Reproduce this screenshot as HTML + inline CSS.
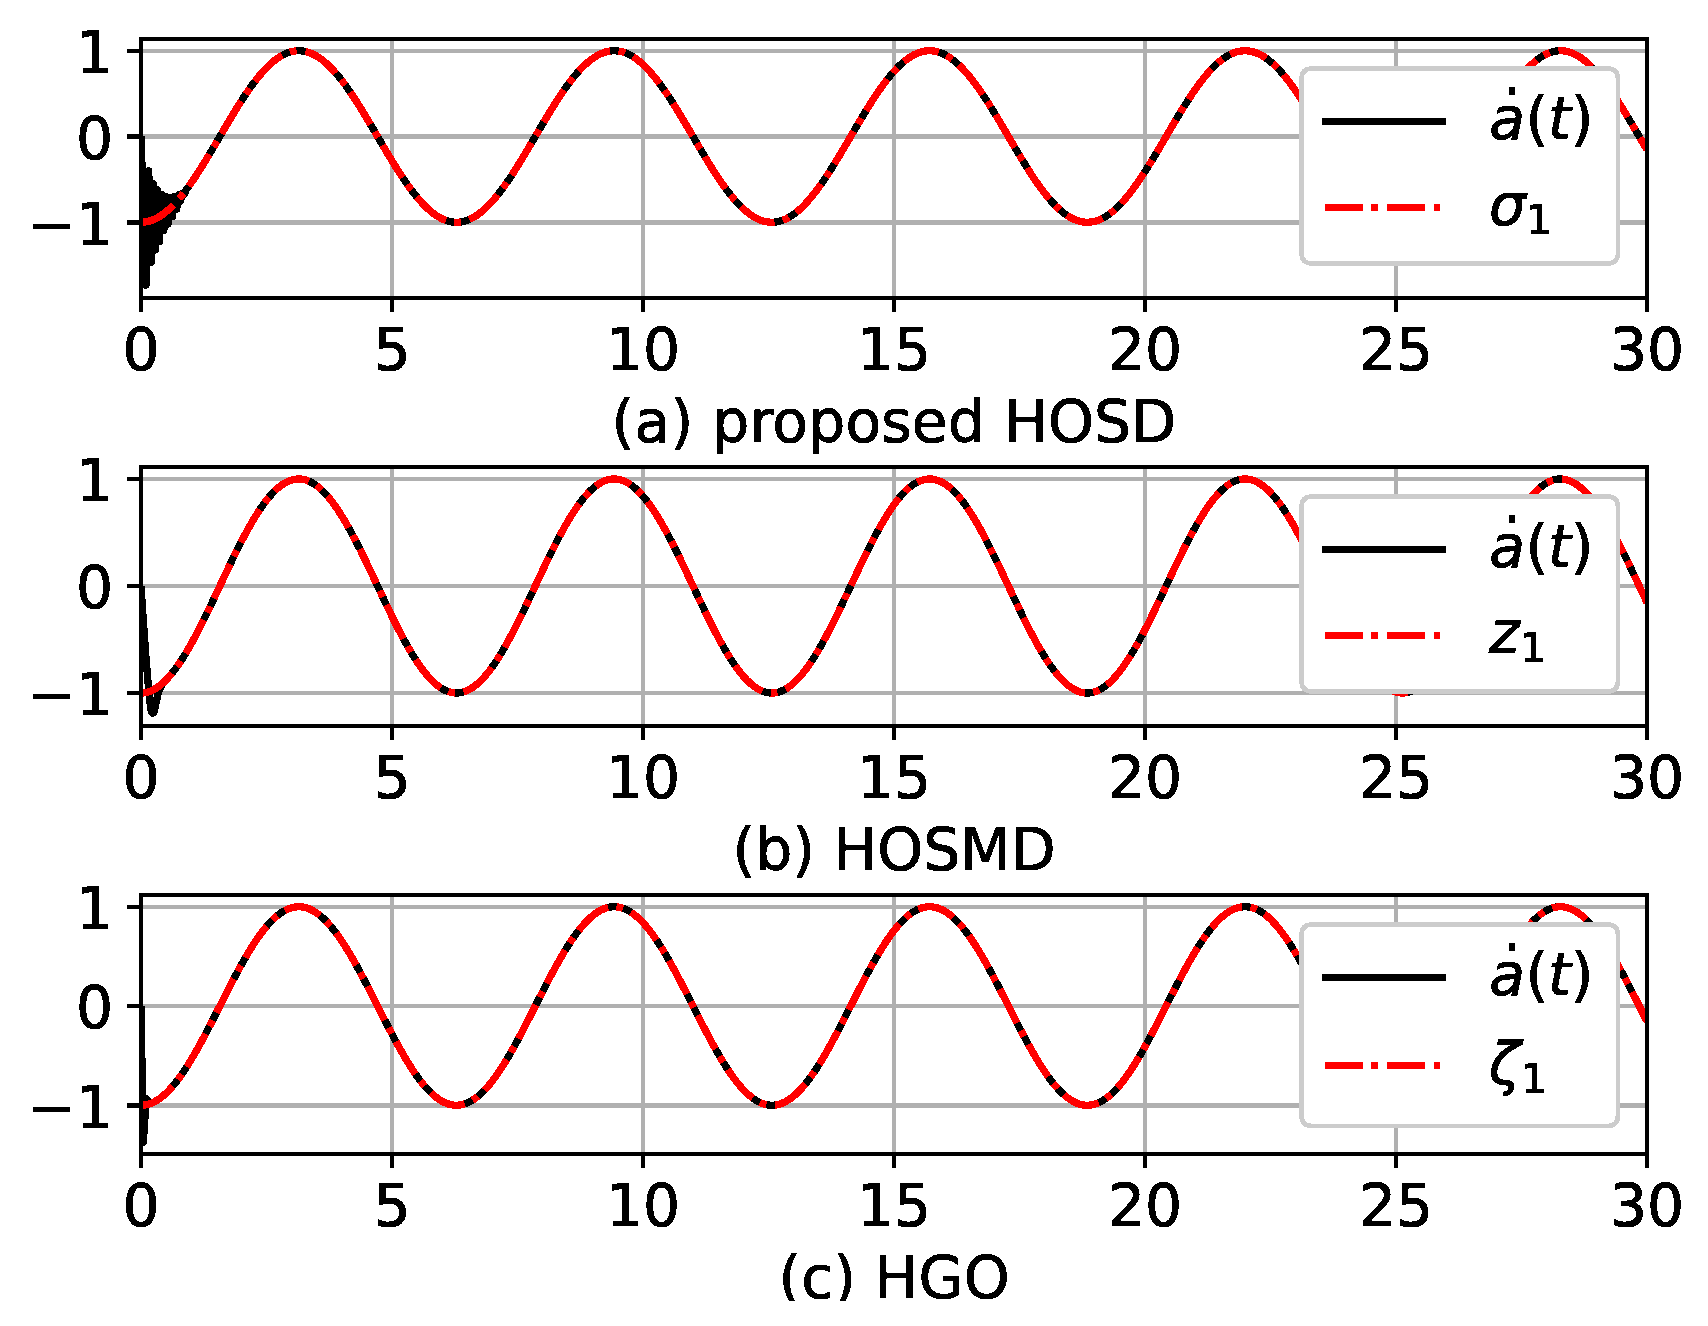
<!DOCTYPE html>
<html><head><meta charset="utf-8"><title>figure</title>
<style>html,body{margin:0;padding:0;background:#fff}body{width:1708px;height:1326px;overflow:hidden}</style>
</head><body>
<svg width="1708" height="1326" viewBox="0 0 1708 1326" style="display:block">
<rect width="1708" height="1326" fill="#fff"/>
<defs>
<clipPath id="c0"><rect x="141.0" y="39" width="1506.0" height="259"/></clipPath>
<clipPath id="c1"><rect x="141.0" y="467" width="1506.0" height="259"/></clipPath>
<clipPath id="c2"><rect x="141.0" y="895" width="1506.0" height="259"/></clipPath>
<filter id="al" filterUnits="userSpaceOnUse" x="0" y="0" width="1708" height="1326" color-interpolation-filters="sRGB"><feComponentTransfer><feFuncA type="discrete" tableValues="0 1"/></feComponentTransfer></filter>
</defs>
<g id="ax0">
<g fill="#b0b0b0" shape-rendering="crispEdges">
<rect x="139" y="39" width="4" height="259"/>
<rect x="390" y="39" width="4" height="259"/>
<rect x="641" y="39" width="4" height="259"/>
<rect x="892" y="39" width="4" height="259"/>
<rect x="1143" y="39" width="4" height="259"/>
<rect x="1394" y="39" width="4" height="259"/>
<rect x="1645" y="39" width="4" height="259"/>
<rect x="141.0" y="49" width="1506.0" height="4"/>
<rect x="141.0" y="134" width="1506.0" height="5"/>
<rect x="141.0" y="220" width="1506.0" height="5"/>
</g>
<g clip-path="url(#c0)" fill="none" shape-rendering="crispEdges">
<path d="M141 136.5 L146 285.1 L148.7 170.9 L151.6 262.1 L153.6 184 L155.5 249.9 L157.5 189.9 L159.5 241.5 L161.6 194.6 L163.8 230.4 L166 196.7 L168 224 L170.3 197.2 L172.5 216.5 L174.6 196.6 L176.6 209.5 L178.6 195 L180.5 201.5 L182.5 193.2 L184.3 194.5 L186.18 189.8 L187.18 188.45 L188.19 187.07 L189.19 185.68 L190.2 184.26 L191.2 182.83 L192.2 181.38 L193.21 179.91 L194.21 178.42 L195.22 176.92 L196.22 175.4 L197.22 173.86 L198.23 172.31 L199.23 170.74 L200.24 169.16 L201.24 167.57 L202.24 165.97 L203.25 164.35 L204.25 162.72 L205.26 161.09 L206.26 159.44 L207.26 157.78 L208.27 156.12 L209.27 154.44 L210.28 152.76 L211.28 151.07 L212.28 149.38 L213.29 147.68 L214.29 145.98 L215.3 144.28 L216.3 142.57 L217.3 140.85 L218.31 139.14 L219.31 137.43 L220.32 135.71 L221.32 134 L222.32 132.28 L223.33 130.57 L224.33 128.86 L225.34 127.15 L226.34 125.45 L227.34 123.75 L228.35 122.06 L229.35 120.37 L230.36 118.69 L231.36 117.02 L232.36 115.35 L233.37 113.69 L234.37 112.05 L235.38 110.41 L236.38 108.78 L237.38 107.16 L238.39 105.56 L239.39 103.96 L240.4 102.38 L241.4 100.82 L242.4 99.26 L243.41 97.73 L244.41 96.2 L245.42 94.7 L246.42 93.21 L247.42 91.74 L248.43 90.28 L249.43 88.85 L250.44 87.43 L251.44 86.04 L252.44 84.66 L253.45 83.3 L254.45 81.97 L255.46 80.66 L256.46 79.37 L257.46 78.1 L258.47 76.86 L259.47 75.64 L260.48 74.44 L261.48 73.27 L262.48 72.12 L263.49 71 L264.49 69.91 L265.5 68.84 L266.5 67.8 L267.5 66.79 L268.51 65.8 L269.51 64.85 L270.52 63.92 L271.52 63.02 L272.52 62.15 L273.53 61.31 L274.53 60.5 L275.54 59.72 L276.54 58.98 L277.54 58.26 L278.55 57.57 L279.55 56.92 L280.56 56.3 L281.56 55.7 L282.56 55.15 L283.57 54.62 L284.57 54.13 L285.58 53.67 L286.58 53.24 L287.58 52.85 L288.59 52.49 L289.59 52.16 L290.6 51.87 L291.6 51.61 L292.6 51.38 L293.61 51.19 L294.61 51.04 L295.62 50.91 L296.62 50.82 L297.62 50.77 L298.63 50.75 L299.63 50.76 L300.64 50.81 L301.64 50.9 L302.64 51.01 L303.65 51.16 L304.65 51.35 L305.66 51.57 L306.66 51.82 L307.66 52.11 L308.67 52.43 L309.67 52.79 L310.68 53.18 L311.68 53.6 L312.68 54.05 L313.69 54.54 L314.69 55.06 L315.7 55.61 L316.7 56.2 L317.7 56.82 L318.71 57.47 L319.71 58.15 L320.72 58.86 L321.72 59.6 L322.72 60.38 L323.73 61.18 L324.73 62.02 L325.74 62.88 L326.74 63.78 L327.74 64.7 L328.75 65.65 L329.75 66.63 L330.76 67.64 L331.76 68.67 L332.76 69.74 L333.77 70.83 L334.77 71.94 L335.78 73.08 L336.78 74.25 L337.78 75.44 L338.79 76.66 L339.79 77.9 L340.8 79.16 L341.8 80.45 L342.8 81.76 L343.81 83.09 L344.81 84.44 L345.82 85.82 L346.82 87.21 L347.82 88.62 L348.83 90.05 L349.83 91.51 L350.84 92.97 L351.84 94.46 L352.84 95.96 L353.85 97.48 L354.85 99.02 L355.86 100.57 L356.86 102.13 L357.86 103.71 L358.87 105.3 L359.87 106.9 L360.88 108.52 L361.88 110.15 L362.88 111.78 L363.89 113.43 L364.89 115.09 L365.9 116.75 L366.9 118.42 L367.9 120.1 L368.91 121.79 L369.91 123.48 L370.92 125.18 L371.92 126.88 L372.92 128.59 L373.93 130.3 L374.93 132.01 L375.94 133.72 L376.94 135.44 L377.94 137.15 L378.95 138.87 L379.95 140.58 L380.96 142.29 L381.96 144 L382.96 145.71 L383.97 147.41 L384.97 149.11 L385.98 150.81 L386.98 152.49 L387.98 154.18 L388.99 155.85 L389.99 157.52 L391 159.17 L392 160.82 L393 162.46 L394.01 164.09 L395.01 165.71 L396.02 167.32 L397.02 168.91 L398.02 170.49 L399.03 172.06 L400.03 173.61 L401.04 175.15 L402.04 176.68 L403.04 178.18 L404.05 179.67 L405.05 181.15 L406.06 182.6 L407.06 184.04 L408.06 185.46 L409.07 186.85 L410.07 188.23 L411.08 189.59 L412.08 190.92 L413.08 192.24 L414.09 193.53 L415.09 194.8 L416.1 196.05 L417.1 197.27 L418.1 198.47 L419.11 199.64 L420.11 200.79 L421.12 201.91 L422.12 203 L423.12 204.07 L424.13 205.12 L425.13 206.13 L426.14 207.12 L427.14 208.08 L428.14 209.01 L429.15 209.91 L430.15 210.78 L431.16 211.62 L432.16 212.43 L433.16 213.21 L434.17 213.97 L435.17 214.69 L436.18 215.37 L437.18 216.03 L438.18 216.66 L439.19 217.25 L440.19 217.81 L441.2 218.34 L442.2 218.83 L443.2 219.3 L444.21 219.73 L445.21 220.12 L446.22 220.49 L447.22 220.82 L448.22 221.11 L449.23 221.37 L450.23 221.6 L451.24 221.79 L452.24 221.95 L453.24 222.08 L454.25 222.17 L455.25 222.23 L456.26 222.25 L457.26 222.24 L458.26 222.19 L459.27 222.11 L460.27 222 L461.28 221.85 L462.28 221.67 L463.28 221.45 L464.29 221.2 L465.29 220.91 L466.3 220.59 L467.3 220.24 L468.3 219.86 L469.31 219.44 L470.31 218.99 L471.32 218.5 L472.32 217.98 L473.32 217.43 L474.33 216.85 L475.33 216.23 L476.34 215.59 L477.34 214.91 L478.34 214.2 L479.35 213.46 L480.35 212.69 L481.36 211.88 L482.36 211.05 L483.36 210.19 L484.37 209.3 L485.37 208.38 L486.38 207.43 L487.38 206.45 L488.38 205.44 L489.39 204.41 L490.39 203.35 L491.4 202.26 L492.4 201.15 L493.4 200.01 L494.41 198.84 L495.41 197.65 L496.42 196.44 L497.42 195.2 L498.42 193.94 L499.43 192.65 L500.43 191.35 L501.44 190.02 L502.44 188.67 L503.44 187.29 L504.45 185.9 L505.45 184.49 L506.46 183.06 L507.46 181.61 L508.46 180.14 L509.47 178.66 L510.47 177.16 L511.48 175.64 L512.48 174.11 L513.48 172.56 L514.49 170.99 L515.49 169.42 L516.5 167.83 L517.5 166.22 L518.5 164.61 L519.51 162.98 L520.51 161.35 L521.52 159.7 L522.52 158.05 L523.52 156.38 L524.53 154.71 L525.53 153.03 L526.54 151.34 L527.54 149.65 L528.54 147.95 L529.55 146.25 L530.55 144.55 L531.56 142.84 L532.56 141.13 L533.56 139.41 L534.57 137.7 L535.57 135.98 L536.58 134.27 L537.58 132.56 L538.58 130.84 L539.59 129.13 L540.59 127.43 L541.6 125.72 L542.6 124.02 L543.6 122.33 L544.61 120.64 L545.61 118.96 L546.62 117.28 L547.62 115.62 L548.62 113.96 L549.63 112.31 L550.63 110.67 L551.64 109.04 L552.64 107.42 L553.64 105.81 L554.65 104.21 L555.65 102.63 L556.66 101.06 L557.66 99.51 L558.66 97.97 L559.67 96.45 L560.67 94.94 L561.68 93.45 L562.68 91.97 L563.68 90.51 L564.69 89.08 L565.69 87.66 L566.7 86.26 L567.7 84.88 L568.7 83.52 L569.71 82.18 L570.71 80.86 L571.72 79.57 L572.72 78.3 L573.72 77.05 L574.73 75.83 L575.73 74.63 L576.74 73.45 L577.74 72.3 L578.74 71.18 L579.75 70.08 L580.75 69.01 L581.76 67.97 L582.76 66.95 L583.76 65.96 L584.77 65 L585.77 64.07 L586.78 63.16 L587.78 62.29 L588.78 61.44 L589.79 60.63 L590.79 59.85 L591.8 59.09 L592.8 58.37 L593.8 57.68 L594.81 57.02 L595.81 56.39 L596.82 55.8 L597.82 55.23 L598.82 54.7 L599.83 54.2 L600.83 53.74 L601.84 53.31 L602.84 52.91 L603.84 52.54 L604.85 52.21 L605.85 51.91 L606.86 51.65 L607.86 51.42 L608.86 51.22 L609.87 51.06 L610.87 50.93 L611.88 50.84 L612.88 50.78 L613.88 50.75 L614.89 50.76 L615.89 50.8 L616.9 50.88 L617.9 50.99 L618.9 51.14 L619.91 51.32 L620.91 51.53 L621.92 51.78 L622.92 52.06 L623.92 52.38 L624.93 52.73 L625.93 53.11 L626.94 53.53 L627.94 53.98 L628.94 54.46 L629.95 54.98 L630.95 55.52 L631.96 56.1 L632.96 56.72 L633.96 57.36 L634.97 58.04 L635.97 58.74 L636.98 59.48 L637.98 60.25 L638.98 61.05 L639.99 61.88 L640.99 62.74 L642 63.63 L643 64.55 L644 65.5 L645.01 66.47 L646.01 67.48 L647.02 68.51 L648.02 69.57 L649.02 70.65 L650.03 71.76 L651.03 72.9 L652.04 74.06 L653.04 75.25 L654.04 76.46 L655.05 77.7 L656.05 78.96 L657.06 80.24 L658.06 81.55 L659.06 82.88 L660.07 84.23 L661.07 85.6 L662.08 86.99 L663.08 88.4 L664.08 89.82 L665.09 91.27 L666.09 92.74 L667.1 94.22 L668.1 95.72 L669.1 97.24 L670.11 98.77 L671.11 100.32 L672.12 101.88 L673.12 103.46 L674.12 105.05 L675.13 106.65 L676.13 108.26 L677.14 109.89 L678.14 111.52 L679.14 113.17 L680.15 114.82 L681.15 116.49 L682.16 118.16 L683.16 119.84 L684.16 121.52 L685.17 123.21 L686.17 124.91 L687.18 126.61 L688.18 128.32 L689.18 130.03 L690.19 131.74 L691.19 133.45 L692.2 135.16 L693.2 136.88 L694.2 138.59 L695.21 140.31 L696.21 142.02 L697.22 143.73 L698.22 145.44 L699.22 147.14 L700.23 148.84 L701.23 150.54 L702.24 152.23 L703.24 153.91 L704.24 155.58 L705.25 157.25 L706.25 158.91 L707.26 160.56 L708.26 162.2 L709.26 163.83 L710.27 165.45 L711.27 167.06 L712.28 168.66 L713.28 170.24 L714.28 171.81 L715.29 173.37 L716.29 174.91 L717.3 176.43 L718.3 177.94 L719.3 179.44 L720.31 180.91 L721.31 182.37 L722.32 183.81 L723.32 185.23 L724.32 186.63 L725.33 188.01 L726.33 189.37 L727.34 190.71 L728.34 192.03 L729.34 193.33 L730.35 194.6 L731.35 195.85 L732.36 197.08 L733.36 198.28 L734.36 199.45 L735.37 200.61 L736.37 201.73 L737.38 202.83 L738.38 203.91 L739.38 204.95 L740.39 205.97 L741.39 206.96 L742.4 207.93 L743.4 208.86 L744.4 209.77 L745.41 210.64 L746.41 211.49 L747.42 212.31 L748.42 213.09 L749.42 213.85 L750.43 214.57 L751.43 215.27 L752.44 215.93 L753.44 216.56 L754.44 217.16 L755.45 217.72 L756.45 218.26 L757.46 218.76 L758.46 219.23 L759.46 219.66 L760.47 220.06 L761.47 220.43 L762.48 220.77 L763.48 221.07 L764.48 221.33 L765.49 221.57 L766.49 221.77 L767.5 221.93 L768.5 222.06 L769.5 222.16 L770.51 222.22 L771.51 222.25 L772.52 222.24 L773.52 222.2 L774.52 222.13 L775.53 222.02 L776.53 221.87 L777.54 221.7 L778.54 221.49 L779.54 221.24 L780.55 220.96 L781.55 220.65 L782.56 220.3 L783.56 219.92 L784.56 219.51 L785.57 219.06 L786.57 218.58 L787.58 218.07 L788.58 217.52 L789.58 216.94 L790.59 216.33 L791.59 215.69 L792.6 215.02 L793.6 214.31 L794.6 213.58 L795.61 212.81 L796.61 212.01 L797.62 211.19 L798.62 210.33 L799.62 209.44 L800.63 208.52 L801.63 207.58 L802.64 206.61 L803.64 205.6 L804.64 204.58 L805.65 203.52 L806.65 202.44 L807.66 201.33 L808.66 200.19 L809.66 199.03 L810.67 197.84 L811.67 196.63 L812.68 195.4 L813.68 194.14 L814.68 192.86 L815.69 191.56 L816.69 190.23 L817.7 188.88 L818.7 187.51 L819.7 186.13 L820.71 184.72 L821.71 183.29 L822.72 181.84 L823.72 180.38 L824.72 178.9 L825.73 177.4 L826.73 175.88 L827.74 174.35 L828.74 172.8 L829.74 171.24 L830.75 169.67 L831.75 168.08 L832.76 166.48 L833.76 164.87 L834.76 163.24 L835.77 161.61 L836.77 159.96 L837.78 158.31 L838.78 156.65 L839.78 154.98 L840.79 153.3 L841.79 151.61 L842.8 149.92 L843.8 148.23 L844.8 146.52 L845.81 144.82 L846.81 143.11 L847.82 141.4 L848.82 139.69 L849.82 137.97 L850.83 136.26 L851.83 134.54 L852.84 132.83 L853.84 131.12 L854.84 129.41 L855.85 127.7 L856.85 125.99 L857.86 124.29 L858.86 122.6 L859.86 120.91 L860.87 119.23 L861.87 117.55 L862.88 115.88 L863.88 114.22 L864.88 112.57 L865.89 110.93 L866.89 109.3 L867.9 107.67 L868.9 106.07 L869.9 104.47 L870.91 102.88 L871.91 101.31 L872.92 99.76 L873.92 98.21 L874.92 96.69 L875.93 95.18 L876.93 93.68 L877.94 92.2 L878.94 90.75 L879.94 89.3 L880.95 87.88 L881.95 86.48 L882.96 85.1 L883.96 83.73 L884.96 82.39 L885.97 81.07 L886.97 79.78 L887.98 78.5 L888.98 77.25 L889.98 76.02 L890.99 74.82 L891.99 73.64 L893 72.48 L894 71.36 L895 70.25 L896.01 69.18 L897.01 68.13 L898.02 67.11 L899.02 66.12 L900.02 65.15 L901.03 64.21 L902.03 63.3 L903.04 62.43 L904.04 61.58 L905.04 60.76 L906.05 59.97 L907.05 59.21 L908.06 58.48 L909.06 57.79 L910.06 57.12 L911.07 56.49 L912.07 55.89 L913.08 55.32 L914.08 54.78 L915.08 54.28 L916.09 53.81 L917.09 53.37 L918.1 52.97 L919.1 52.6 L920.1 52.26 L921.11 51.96 L922.11 51.69 L923.12 51.45 L924.12 51.25 L925.12 51.08 L926.13 50.95 L927.13 50.85 L928.14 50.78 L929.14 50.75 L930.14 50.76 L931.15 50.79 L932.15 50.87 L933.16 50.97 L934.16 51.11 L935.16 51.29 L936.17 51.5 L937.17 51.74 L938.18 52.02 L939.18 52.33 L940.18 52.67 L941.19 53.05 L942.19 53.46 L943.2 53.9 L944.2 54.38 L945.2 54.89 L946.21 55.43 L947.21 56.01 L948.22 56.62 L949.22 57.26 L950.22 57.93 L951.23 58.63 L952.23 59.36 L953.24 60.13 L954.24 60.92 L955.24 61.75 L956.25 62.6 L957.25 63.49 L958.26 64.4 L959.26 65.34 L960.26 66.32 L961.27 67.31 L962.27 68.34 L963.28 69.4 L964.28 70.48 L965.28 71.58 L966.29 72.72 L967.29 73.88 L968.3 75.06 L969.3 76.27 L970.3 77.5 L971.31 78.76 L972.31 80.04 L973.32 81.34 L974.32 82.66 L975.32 84.01 L976.33 85.38 L977.33 86.76 L978.34 88.17 L979.34 89.6 L980.34 91.04 L981.35 92.5 L982.35 93.98 L983.36 95.48 L984.36 97 L985.36 98.53 L986.37 100.07 L987.37 101.63 L988.38 103.21 L989.38 104.79 L990.38 106.39 L991.39 108 L992.39 109.63 L993.4 111.26 L994.4 112.9 L995.4 114.56 L996.41 116.22 L997.41 117.89 L998.42 119.57 L999.42 121.25 L1000.42 122.94 L1001.43 124.64 L1002.43 126.34 L1003.44 128.05 L1004.44 129.75 L1005.44 131.46 L1006.45 133.18 L1007.45 134.89 L1008.46 136.61 L1009.46 138.32 L1010.46 140.04 L1011.47 141.75 L1012.47 143.46 L1013.48 145.17 L1014.48 146.87 L1015.48 148.57 L1016.49 150.27 L1017.49 151.96 L1018.5 153.64 L1019.5 155.32 L1020.5 156.99 L1021.51 158.65 L1022.51 160.3 L1023.52 161.94 L1024.52 163.58 L1025.52 165.2 L1026.53 166.81 L1027.53 168.41 L1028.54 169.99 L1029.54 171.56 L1030.54 173.12 L1031.55 174.66 L1032.55 176.19 L1033.56 177.7 L1034.56 179.2 L1035.56 180.68 L1036.57 182.14 L1037.57 183.58 L1038.58 185.01 L1039.58 186.41 L1040.58 187.79 L1041.59 189.16 L1042.59 190.5 L1043.6 191.82 L1044.6 193.12 L1045.6 194.4 L1046.61 195.65 L1047.61 196.88 L1048.62 198.09 L1049.62 199.27 L1050.62 200.42 L1051.63 201.55 L1052.63 202.66 L1053.64 203.74 L1054.64 204.79 L1055.64 205.81 L1056.65 206.81 L1057.65 207.77 L1058.66 208.71 L1059.66 209.62 L1060.66 210.5 L1061.67 211.36 L1062.67 212.18 L1063.68 212.97 L1064.68 213.73 L1065.68 214.46 L1066.69 215.16 L1067.69 215.83 L1068.7 216.46 L1069.7 217.06 L1070.7 217.64 L1071.71 218.17 L1072.71 218.68 L1073.72 219.15 L1074.72 219.59 L1075.72 220 L1076.73 220.37 L1077.73 220.71 L1078.74 221.02 L1079.74 221.29 L1080.74 221.53 L1081.75 221.74 L1082.75 221.91 L1083.76 222.04 L1084.76 222.14 L1085.76 222.21 L1086.77 222.25 L1087.77 222.25 L1088.78 222.21 L1089.78 222.14 L1090.78 222.04 L1091.79 221.9 L1092.79 221.73 L1093.8 221.52 L1094.8 221.28 L1095.8 221.01 L1096.81 220.7 L1097.81 220.36 L1098.82 219.98 L1099.82 219.57 L1100.82 219.13 L1101.83 218.66 L1102.83 218.15 L1103.84 217.61 L1104.84 217.04 L1105.84 216.43 L1106.85 215.8 L1107.85 215.13 L1108.86 214.43 L1109.86 213.7 L1110.86 212.93 L1111.87 212.14 L1112.87 211.32 L1113.88 210.47 L1114.88 209.58 L1115.88 208.67 L1116.89 207.73 L1117.89 206.76 L1118.9 205.77 L1119.9 204.74 L1120.9 203.69 L1121.91 202.61 L1122.91 201.5 L1123.92 200.37 L1124.92 199.22 L1125.92 198.03 L1126.93 196.83 L1127.93 195.6 L1128.94 194.34 L1129.94 193.06 L1130.94 191.76 L1131.95 190.44 L1132.95 189.1 L1133.96 187.73 L1134.96 186.35 L1135.96 184.94 L1136.97 183.52 L1137.97 182.07 L1138.98 180.61 L1139.98 179.13 L1140.98 177.64 L1141.99 176.12 L1142.99 174.6 L1144 173.05 L1145 171.49 L1146 169.92 L1147.01 168.33 L1148.01 166.74 L1149.02 165.12 L1150.02 163.5 L1151.02 161.87 L1152.03 160.23 L1153.03 158.57 L1154.04 156.91 L1155.04 155.24 L1156.04 153.57 L1157.05 151.88 L1158.05 150.19 L1159.06 148.5 L1160.06 146.8 L1161.06 145.09 L1162.07 143.38 L1163.07 141.67 L1164.08 139.96 L1165.08 138.25 L1166.08 136.53 L1167.09 134.82 L1168.09 133.1 L1169.1 131.39 L1170.1 129.68 L1171.1 127.97 L1172.11 126.26 L1173.11 124.56 L1174.12 122.87 L1175.12 121.18 L1176.12 119.49 L1177.13 117.82 L1178.13 116.15 L1179.14 114.48 L1180.14 112.83 L1181.14 111.19 L1182.15 109.55 L1183.15 107.93 L1184.16 106.32 L1185.16 104.72 L1186.16 103.14 L1187.17 101.56 L1188.17 100 L1189.18 98.46 L1190.18 96.93 L1191.18 95.42 L1192.19 93.92 L1193.19 92.44 L1194.2 90.98 L1195.2 89.53 L1196.2 88.11 L1197.21 86.7 L1198.21 85.31 L1199.22 83.95 L1200.22 82.6 L1201.22 81.28 L1202.23 79.98 L1203.23 78.7 L1204.24 77.45 L1205.24 76.22 L1206.24 75.01 L1207.25 73.82 L1208.25 72.67 L1209.26 71.53 L1210.26 70.43 L1211.26 69.35 L1212.27 68.3 L1213.27 67.27 L1214.28 66.27 L1215.28 65.3 L1216.28 64.36 L1217.29 63.45 L1218.29 62.56 L1219.3 61.71 L1220.3 60.89 L1221.3 60.09 L1222.31 59.33 L1223.31 58.6 L1224.32 57.9 L1225.32 57.23 L1226.32 56.59 L1227.33 55.98 L1228.33 55.41 L1229.34 54.87 L1230.34 54.36 L1231.34 53.88 L1232.35 53.44 L1233.35 53.03 L1234.36 52.65 L1235.36 52.31 L1236.36 52 L1237.37 51.73 L1238.37 51.49 L1239.38 51.28 L1240.38 51.11 L1241.38 50.97 L1242.39 50.86 L1243.39 50.79 L1244.4 50.76 L1245.4 50.75 L1246.4 50.79 L1247.41 50.85 L1248.41 50.95 L1249.42 51.09 L1250.42 51.26 L1251.42 51.46 L1252.43 51.7 L1253.43 51.97 L1254.44 52.27 L1255.44 52.61 L1256.44 52.99 L1257.45 53.39 L1258.45 53.83 L1259.46 54.3 L1260.46 54.81 L1261.46 55.35 L1262.47 55.92 L1263.47 56.52 L1264.48 57.15 L1265.48 57.82 L1266.48 58.52 L1267.49 59.24 L1268.49 60 L1269.5 60.79 L1270.5 61.61 L1271.5 62.46 L1272.51 63.34 L1273.51 64.25 L1274.52 65.19 L1275.52 66.16 L1276.52 67.15 L1277.53 68.18 L1278.53 69.23 L1279.54 70.3 L1280.54 71.41 L1281.54 72.54 L1282.55 73.69 L1283.55 74.87 L1284.56 76.08 L1285.56 77.3 L1286.56 78.56 L1287.57 79.83 L1288.57 81.13 L1289.58 82.45 L1290.58 83.79 L1291.58 85.16 L1292.59 86.54 L1293.59 87.94 L1294.6 89.37 L1295.6 90.81 L1296.6 92.27 L1297.61 93.75 L1298.61 95.24 L1299.62 96.75 L1300.62 98.28 L1301.62 99.82 L1302.63 101.38 L1303.63 102.95 L1304.64 104.54 L1305.64 106.14 L1306.64 107.75 L1307.65 109.37 L1308.65 111 L1309.66 112.64 L1310.66 114.29 L1311.66 115.96 L1312.67 117.62 L1313.67 119.3 L1314.68 120.98 L1315.68 122.67 L1316.68 124.37 L1317.69 126.07 L1318.69 127.77 L1319.7 129.48 L1320.7 131.19 L1321.7 132.9 L1322.71 134.62 L1323.71 136.33 L1324.72 138.05 L1325.72 139.76 L1326.72 141.48 L1327.73 143.19 L1328.73 144.89 L1329.74 146.6 L1330.74 148.3 L1331.74 150 L1332.75 151.69 L1333.75 153.37 L1334.76 155.05 L1335.76 156.72 L1336.76 158.38 L1337.77 160.04 L1338.77 161.68 L1339.78 163.32 L1340.78 164.94 L1341.78 166.55 L1342.79 168.15 L1343.79 169.74 L1344.8 171.31 L1345.8 172.87 L1346.8 174.42 L1347.81 175.95 L1348.81 177.46 L1349.82 178.96 L1350.82 180.44 L1351.82 181.91 L1352.83 183.35 L1353.83 184.78 L1354.84 186.19 L1355.84 187.58 L1356.84 188.94 L1357.85 190.29 L1358.85 191.61 L1359.86 192.92 L1360.86 194.2 L1361.86 195.45 L1362.87 196.69 L1363.87 197.9 L1364.88 199.08 L1365.88 200.24 L1366.88 201.38 L1367.89 202.48 L1368.89 203.57 L1369.9 204.62 L1370.9 205.65 L1371.9 206.65 L1372.91 207.62 L1373.91 208.57 L1374.92 209.48 L1375.92 210.37 L1376.92 211.22 L1377.93 212.05 L1378.93 212.85 L1379.94 213.61 L1380.94 214.35 L1381.94 215.05 L1382.95 215.72 L1383.95 216.36 L1384.96 216.97 L1385.96 217.55 L1386.96 218.09 L1387.97 218.6 L1388.97 219.08 L1389.98 219.53 L1390.98 219.94 L1391.98 220.32 L1392.99 220.66 L1393.99 220.97 L1395 221.25 L1396 221.5 L1397 221.71 L1398.01 221.88 L1399.01 222.02 L1400.02 222.13 L1401.02 222.2 L1402.02 222.24 L1403.03 222.25 L1404.03 222.22 L1405.04 222.15 L1406.04 222.06 L1407.04 221.92 L1408.05 221.76 L1409.05 221.56 L1410.06 221.32 L1411.06 221.05 L1412.06 220.75 L1413.07 220.41 L1414.07 220.05 L1415.08 219.64 L1416.08 219.21 L1417.08 218.74 L1418.09 218.23 L1419.09 217.7 L1420.1 217.13 L1421.1 216.53 L1422.1 215.9 L1423.11 215.24 L1424.11 214.54 L1425.12 213.82 L1426.12 213.06 L1427.12 212.27 L1428.13 211.45 L1429.13 210.6 L1430.14 209.73 L1431.14 208.82 L1432.14 207.88 L1433.15 206.92 L1434.15 205.93 L1435.16 204.91 L1436.16 203.86 L1437.16 202.78 L1438.17 201.68 L1439.17 200.56 L1440.18 199.4 L1441.18 198.22 L1442.18 197.02 L1443.19 195.79 L1444.19 194.54 L1445.2 193.27 L1446.2 191.97 L1447.2 190.65 L1448.21 189.31 L1449.21 187.95 L1450.22 186.57 L1451.22 185.17 L1452.22 183.75 L1453.23 182.31 L1454.23 180.85 L1455.24 179.37 L1456.24 177.88 L1457.24 176.37 L1458.25 174.84 L1459.25 173.3 L1460.26 171.74 L1461.26 170.17 L1462.26 168.59 L1463.27 166.99 L1464.27 165.38 L1465.28 163.76 L1466.28 162.13 L1467.28 160.49 L1468.29 158.84 L1469.29 157.18 L1470.3 155.51 L1471.3 153.83 L1472.3 152.15 L1473.31 150.46 L1474.31 148.77 L1475.32 147.07 L1476.32 145.36 L1477.32 143.66 L1478.33 141.94 L1479.33 140.23 L1480.34 138.52 L1481.34 136.8 L1482.34 135.09 L1483.35 133.37 L1484.35 131.66 L1485.36 129.95 L1486.36 128.24 L1487.36 126.54 L1488.37 124.83 L1489.37 123.14 L1490.38 121.45 L1491.38 119.76 L1492.38 118.08 L1493.39 116.41 L1494.39 114.75 L1495.4 113.09 L1496.4 111.45 L1497.4 109.81 L1498.41 108.19 L1499.41 106.58 L1500.42 104.98 L1501.42 103.39 L1502.42 101.81 L1503.43 100.25 L1504.43 98.7 L1505.44 97.17 L1506.44 95.66 L1507.44 94.16 L1508.45 92.67 L1509.45 91.21 L1510.46 89.76 L1511.46 88.33 L1512.46 86.92 L1513.47 85.53 L1514.47 84.17 L1515.48 82.82 L1516.48 81.49 L1517.48 80.19 L1518.49 78.9 L1519.49 77.65 L1520.5 76.41 L1521.5 75.2 L1522.5 74.01 L1523.51 72.85 L1524.51 71.71 L1525.52 70.6 L1526.52 69.52 L1527.52 68.46 L1528.53 67.43 L1529.53 66.43 L1530.54 65.45 L1531.54 64.51 L1532.54 63.59 L1533.55 62.7 L1534.55 61.84 L1535.56 61.02 L1536.56 60.22 L1537.56 59.45 L1538.57 58.71 L1539.57 58.01 L1540.58 57.33 L1541.58 56.69 L1542.58 56.08 L1543.59 55.5 L1544.59 54.95 L1545.6 54.44 L1546.6 53.96 L1547.6 53.51 L1548.61 53.09 L1549.61 52.71 L1550.62 52.36 L1551.62 52.05 L1552.62 51.77 L1553.63 51.52 L1554.63 51.31 L1555.64 51.13 L1556.64 50.99 L1557.64 50.88 L1558.65 50.8 L1559.65 50.76 L1560.66 50.75 L1561.66 50.78 L1562.66 50.84 L1563.67 50.93 L1564.67 51.06 L1565.68 51.23 L1566.68 51.43 L1567.68 51.66 L1568.69 51.92 L1569.69 52.22 L1570.7 52.56 L1571.7 52.92 L1572.7 53.32 L1573.71 53.76 L1574.71 54.23 L1575.72 54.72 L1576.72 55.26 L1577.72 55.82 L1578.73 56.42 L1579.73 57.05 L1580.74 57.71 L1581.74 58.4 L1582.74 59.13 L1583.75 59.88 L1584.75 60.67 L1585.76 61.48 L1586.76 62.33 L1587.76 63.2 L1588.77 64.11 L1589.77 65.04 L1590.78 66 L1591.78 66.99 L1592.78 68.01 L1593.79 69.06 L1594.79 70.13 L1595.8 71.23 L1596.8 72.35 L1597.8 73.5 L1598.81 74.68 L1599.81 75.88 L1600.82 77.11 L1601.82 78.36 L1602.82 79.63 L1603.83 80.92 L1604.83 82.24 L1605.84 83.58 L1606.84 84.94 L1607.84 86.32 L1608.85 87.72 L1609.85 89.14 L1610.86 90.58 L1611.86 92.04 L1612.86 93.51 L1613.87 95 L1614.87 96.51 L1615.88 98.04 L1616.88 99.58 L1617.88 101.13 L1618.89 102.7 L1619.89 104.29 L1620.9 105.88 L1621.9 107.49 L1622.9 109.11 L1623.91 110.74 L1624.91 112.38 L1625.92 114.03 L1626.92 115.69 L1627.92 117.36 L1628.93 119.03 L1629.93 120.72 L1630.94 122.4 L1631.94 124.1 L1632.94 125.8 L1633.95 127.5 L1634.95 129.21 L1635.96 130.92 L1636.96 132.63 L1637.96 134.35 L1638.97 136.06 L1639.97 137.78 L1640.98 139.49 L1641.98 141.2 L1642.98 142.91 L1643.99 144.62 L1644.99 146.33 L1646 148.03 L1647 149.73" stroke="#000" stroke-width="7.3" stroke-linejoin="round"/>
<path d="M141 222.25 L142 222.23 L143.01 222.18 L144.01 222.1 L145.02 221.98 L146.02 221.82 L147.02 221.63 L148.03 221.41 L149.03 221.15 L150.04 220.86 L151.04 220.54 L152.04 220.18 L153.05 219.79 L154.05 219.37 L155.06 218.91 L156.06 218.42 L157.06 217.9 L158.07 217.34 L159.07 216.75 L160.08 216.13 L161.08 215.48 L162.08 214.8 L163.09 214.08 L164.09 213.34 L165.1 212.56 L166.1 211.75 L167.1 210.92 L168.11 210.05 L169.11 209.15 L170.12 208.23 L171.12 207.27 L172.12 206.29 L173.13 205.28 L174.13 204.24 L175.14 203.18 L176.14 202.09 L177.14 200.97 L178.15 199.82 L179.15 198.65 L180.16 197.46 L181.16 196.24 L182.16 195 L183.17 193.73 L184.17 192.45 L185.18 191.14 L186.18 189.8 L187.18 188.45 L188.19 187.07 L189.19 185.68 L190.2 184.26 L191.2 182.83 L192.2 181.38 L193.21 179.91 L194.21 178.42 L195.22 176.92 L196.22 175.4 L197.22 173.86 L198.23 172.31 L199.23 170.74 L200.24 169.16 L201.24 167.57 L202.24 165.97 L203.25 164.35 L204.25 162.72 L205.26 161.09 L206.26 159.44 L207.26 157.78 L208.27 156.12 L209.27 154.44 L210.28 152.76 L211.28 151.07 L212.28 149.38 L213.29 147.68 L214.29 145.98 L215.3 144.28 L216.3 142.57 L217.3 140.85 L218.31 139.14 L219.31 137.43 L220.32 135.71 L221.32 134 L222.32 132.28 L223.33 130.57 L224.33 128.86 L225.34 127.15 L226.34 125.45 L227.34 123.75 L228.35 122.06 L229.35 120.37 L230.36 118.69 L231.36 117.02 L232.36 115.35 L233.37 113.69 L234.37 112.05 L235.38 110.41 L236.38 108.78 L237.38 107.16 L238.39 105.56 L239.39 103.96 L240.4 102.38 L241.4 100.82 L242.4 99.26 L243.41 97.73 L244.41 96.2 L245.42 94.7 L246.42 93.21 L247.42 91.74 L248.43 90.28 L249.43 88.85 L250.44 87.43 L251.44 86.04 L252.44 84.66 L253.45 83.3 L254.45 81.97 L255.46 80.66 L256.46 79.37 L257.46 78.1 L258.47 76.86 L259.47 75.64 L260.48 74.44 L261.48 73.27 L262.48 72.12 L263.49 71 L264.49 69.91 L265.5 68.84 L266.5 67.8 L267.5 66.79 L268.51 65.8 L269.51 64.85 L270.52 63.92 L271.52 63.02 L272.52 62.15 L273.53 61.31 L274.53 60.5 L275.54 59.72 L276.54 58.98 L277.54 58.26 L278.55 57.57 L279.55 56.92 L280.56 56.3 L281.56 55.7 L282.56 55.15 L283.57 54.62 L284.57 54.13 L285.58 53.67 L286.58 53.24 L287.58 52.85 L288.59 52.49 L289.59 52.16 L290.6 51.87 L291.6 51.61 L292.6 51.38 L293.61 51.19 L294.61 51.04 L295.62 50.91 L296.62 50.82 L297.62 50.77 L298.63 50.75 L299.63 50.76 L300.64 50.81 L301.64 50.9 L302.64 51.01 L303.65 51.16 L304.65 51.35 L305.66 51.57 L306.66 51.82 L307.66 52.11 L308.67 52.43 L309.67 52.79 L310.68 53.18 L311.68 53.6 L312.68 54.05 L313.69 54.54 L314.69 55.06 L315.7 55.61 L316.7 56.2 L317.7 56.82 L318.71 57.47 L319.71 58.15 L320.72 58.86 L321.72 59.6 L322.72 60.38 L323.73 61.18 L324.73 62.02 L325.74 62.88 L326.74 63.78 L327.74 64.7 L328.75 65.65 L329.75 66.63 L330.76 67.64 L331.76 68.67 L332.76 69.74 L333.77 70.83 L334.77 71.94 L335.78 73.08 L336.78 74.25 L337.78 75.44 L338.79 76.66 L339.79 77.9 L340.8 79.16 L341.8 80.45 L342.8 81.76 L343.81 83.09 L344.81 84.44 L345.82 85.82 L346.82 87.21 L347.82 88.62 L348.83 90.05 L349.83 91.51 L350.84 92.97 L351.84 94.46 L352.84 95.96 L353.85 97.48 L354.85 99.02 L355.86 100.57 L356.86 102.13 L357.86 103.71 L358.87 105.3 L359.87 106.9 L360.88 108.52 L361.88 110.15 L362.88 111.78 L363.89 113.43 L364.89 115.09 L365.9 116.75 L366.9 118.42 L367.9 120.1 L368.91 121.79 L369.91 123.48 L370.92 125.18 L371.92 126.88 L372.92 128.59 L373.93 130.3 L374.93 132.01 L375.94 133.72 L376.94 135.44 L377.94 137.15 L378.95 138.87 L379.95 140.58 L380.96 142.29 L381.96 144 L382.96 145.71 L383.97 147.41 L384.97 149.11 L385.98 150.81 L386.98 152.49 L387.98 154.18 L388.99 155.85 L389.99 157.52 L391 159.17 L392 160.82 L393 162.46 L394.01 164.09 L395.01 165.71 L396.02 167.32 L397.02 168.91 L398.02 170.49 L399.03 172.06 L400.03 173.61 L401.04 175.15 L402.04 176.68 L403.04 178.18 L404.05 179.67 L405.05 181.15 L406.06 182.6 L407.06 184.04 L408.06 185.46 L409.07 186.85 L410.07 188.23 L411.08 189.59 L412.08 190.92 L413.08 192.24 L414.09 193.53 L415.09 194.8 L416.1 196.05 L417.1 197.27 L418.1 198.47 L419.11 199.64 L420.11 200.79 L421.12 201.91 L422.12 203 L423.12 204.07 L424.13 205.12 L425.13 206.13 L426.14 207.12 L427.14 208.08 L428.14 209.01 L429.15 209.91 L430.15 210.78 L431.16 211.62 L432.16 212.43 L433.16 213.21 L434.17 213.97 L435.17 214.69 L436.18 215.37 L437.18 216.03 L438.18 216.66 L439.19 217.25 L440.19 217.81 L441.2 218.34 L442.2 218.83 L443.2 219.3 L444.21 219.73 L445.21 220.12 L446.22 220.49 L447.22 220.82 L448.22 221.11 L449.23 221.37 L450.23 221.6 L451.24 221.79 L452.24 221.95 L453.24 222.08 L454.25 222.17 L455.25 222.23 L456.26 222.25 L457.26 222.24 L458.26 222.19 L459.27 222.11 L460.27 222 L461.28 221.85 L462.28 221.67 L463.28 221.45 L464.29 221.2 L465.29 220.91 L466.3 220.59 L467.3 220.24 L468.3 219.86 L469.31 219.44 L470.31 218.99 L471.32 218.5 L472.32 217.98 L473.32 217.43 L474.33 216.85 L475.33 216.23 L476.34 215.59 L477.34 214.91 L478.34 214.2 L479.35 213.46 L480.35 212.69 L481.36 211.88 L482.36 211.05 L483.36 210.19 L484.37 209.3 L485.37 208.38 L486.38 207.43 L487.38 206.45 L488.38 205.44 L489.39 204.41 L490.39 203.35 L491.4 202.26 L492.4 201.15 L493.4 200.01 L494.41 198.84 L495.41 197.65 L496.42 196.44 L497.42 195.2 L498.42 193.94 L499.43 192.65 L500.43 191.35 L501.44 190.02 L502.44 188.67 L503.44 187.29 L504.45 185.9 L505.45 184.49 L506.46 183.06 L507.46 181.61 L508.46 180.14 L509.47 178.66 L510.47 177.16 L511.48 175.64 L512.48 174.11 L513.48 172.56 L514.49 170.99 L515.49 169.42 L516.5 167.83 L517.5 166.22 L518.5 164.61 L519.51 162.98 L520.51 161.35 L521.52 159.7 L522.52 158.05 L523.52 156.38 L524.53 154.71 L525.53 153.03 L526.54 151.34 L527.54 149.65 L528.54 147.95 L529.55 146.25 L530.55 144.55 L531.56 142.84 L532.56 141.13 L533.56 139.41 L534.57 137.7 L535.57 135.98 L536.58 134.27 L537.58 132.56 L538.58 130.84 L539.59 129.13 L540.59 127.43 L541.6 125.72 L542.6 124.02 L543.6 122.33 L544.61 120.64 L545.61 118.96 L546.62 117.28 L547.62 115.62 L548.62 113.96 L549.63 112.31 L550.63 110.67 L551.64 109.04 L552.64 107.42 L553.64 105.81 L554.65 104.21 L555.65 102.63 L556.66 101.06 L557.66 99.51 L558.66 97.97 L559.67 96.45 L560.67 94.94 L561.68 93.45 L562.68 91.97 L563.68 90.51 L564.69 89.08 L565.69 87.66 L566.7 86.26 L567.7 84.88 L568.7 83.52 L569.71 82.18 L570.71 80.86 L571.72 79.57 L572.72 78.3 L573.72 77.05 L574.73 75.83 L575.73 74.63 L576.74 73.45 L577.74 72.3 L578.74 71.18 L579.75 70.08 L580.75 69.01 L581.76 67.97 L582.76 66.95 L583.76 65.96 L584.77 65 L585.77 64.07 L586.78 63.16 L587.78 62.29 L588.78 61.44 L589.79 60.63 L590.79 59.85 L591.8 59.09 L592.8 58.37 L593.8 57.68 L594.81 57.02 L595.81 56.39 L596.82 55.8 L597.82 55.23 L598.82 54.7 L599.83 54.2 L600.83 53.74 L601.84 53.31 L602.84 52.91 L603.84 52.54 L604.85 52.21 L605.85 51.91 L606.86 51.65 L607.86 51.42 L608.86 51.22 L609.87 51.06 L610.87 50.93 L611.88 50.84 L612.88 50.78 L613.88 50.75 L614.89 50.76 L615.89 50.8 L616.9 50.88 L617.9 50.99 L618.9 51.14 L619.91 51.32 L620.91 51.53 L621.92 51.78 L622.92 52.06 L623.92 52.38 L624.93 52.73 L625.93 53.11 L626.94 53.53 L627.94 53.98 L628.94 54.46 L629.95 54.98 L630.95 55.52 L631.96 56.1 L632.96 56.72 L633.96 57.36 L634.97 58.04 L635.97 58.74 L636.98 59.48 L637.98 60.25 L638.98 61.05 L639.99 61.88 L640.99 62.74 L642 63.63 L643 64.55 L644 65.5 L645.01 66.47 L646.01 67.48 L647.02 68.51 L648.02 69.57 L649.02 70.65 L650.03 71.76 L651.03 72.9 L652.04 74.06 L653.04 75.25 L654.04 76.46 L655.05 77.7 L656.05 78.96 L657.06 80.24 L658.06 81.55 L659.06 82.88 L660.07 84.23 L661.07 85.6 L662.08 86.99 L663.08 88.4 L664.08 89.82 L665.09 91.27 L666.09 92.74 L667.1 94.22 L668.1 95.72 L669.1 97.24 L670.11 98.77 L671.11 100.32 L672.12 101.88 L673.12 103.46 L674.12 105.05 L675.13 106.65 L676.13 108.26 L677.14 109.89 L678.14 111.52 L679.14 113.17 L680.15 114.82 L681.15 116.49 L682.16 118.16 L683.16 119.84 L684.16 121.52 L685.17 123.21 L686.17 124.91 L687.18 126.61 L688.18 128.32 L689.18 130.03 L690.19 131.74 L691.19 133.45 L692.2 135.16 L693.2 136.88 L694.2 138.59 L695.21 140.31 L696.21 142.02 L697.22 143.73 L698.22 145.44 L699.22 147.14 L700.23 148.84 L701.23 150.54 L702.24 152.23 L703.24 153.91 L704.24 155.58 L705.25 157.25 L706.25 158.91 L707.26 160.56 L708.26 162.2 L709.26 163.83 L710.27 165.45 L711.27 167.06 L712.28 168.66 L713.28 170.24 L714.28 171.81 L715.29 173.37 L716.29 174.91 L717.3 176.43 L718.3 177.94 L719.3 179.44 L720.31 180.91 L721.31 182.37 L722.32 183.81 L723.32 185.23 L724.32 186.63 L725.33 188.01 L726.33 189.37 L727.34 190.71 L728.34 192.03 L729.34 193.33 L730.35 194.6 L731.35 195.85 L732.36 197.08 L733.36 198.28 L734.36 199.45 L735.37 200.61 L736.37 201.73 L737.38 202.83 L738.38 203.91 L739.38 204.95 L740.39 205.97 L741.39 206.96 L742.4 207.93 L743.4 208.86 L744.4 209.77 L745.41 210.64 L746.41 211.49 L747.42 212.31 L748.42 213.09 L749.42 213.85 L750.43 214.57 L751.43 215.27 L752.44 215.93 L753.44 216.56 L754.44 217.16 L755.45 217.72 L756.45 218.26 L757.46 218.76 L758.46 219.23 L759.46 219.66 L760.47 220.06 L761.47 220.43 L762.48 220.77 L763.48 221.07 L764.48 221.33 L765.49 221.57 L766.49 221.77 L767.5 221.93 L768.5 222.06 L769.5 222.16 L770.51 222.22 L771.51 222.25 L772.52 222.24 L773.52 222.2 L774.52 222.13 L775.53 222.02 L776.53 221.87 L777.54 221.7 L778.54 221.49 L779.54 221.24 L780.55 220.96 L781.55 220.65 L782.56 220.3 L783.56 219.92 L784.56 219.51 L785.57 219.06 L786.57 218.58 L787.58 218.07 L788.58 217.52 L789.58 216.94 L790.59 216.33 L791.59 215.69 L792.6 215.02 L793.6 214.31 L794.6 213.58 L795.61 212.81 L796.61 212.01 L797.62 211.19 L798.62 210.33 L799.62 209.44 L800.63 208.52 L801.63 207.58 L802.64 206.61 L803.64 205.6 L804.64 204.58 L805.65 203.52 L806.65 202.44 L807.66 201.33 L808.66 200.19 L809.66 199.03 L810.67 197.84 L811.67 196.63 L812.68 195.4 L813.68 194.14 L814.68 192.86 L815.69 191.56 L816.69 190.23 L817.7 188.88 L818.7 187.51 L819.7 186.13 L820.71 184.72 L821.71 183.29 L822.72 181.84 L823.72 180.38 L824.72 178.9 L825.73 177.4 L826.73 175.88 L827.74 174.35 L828.74 172.8 L829.74 171.24 L830.75 169.67 L831.75 168.08 L832.76 166.48 L833.76 164.87 L834.76 163.24 L835.77 161.61 L836.77 159.96 L837.78 158.31 L838.78 156.65 L839.78 154.98 L840.79 153.3 L841.79 151.61 L842.8 149.92 L843.8 148.23 L844.8 146.52 L845.81 144.82 L846.81 143.11 L847.82 141.4 L848.82 139.69 L849.82 137.97 L850.83 136.26 L851.83 134.54 L852.84 132.83 L853.84 131.12 L854.84 129.41 L855.85 127.7 L856.85 125.99 L857.86 124.29 L858.86 122.6 L859.86 120.91 L860.87 119.23 L861.87 117.55 L862.88 115.88 L863.88 114.22 L864.88 112.57 L865.89 110.93 L866.89 109.3 L867.9 107.67 L868.9 106.07 L869.9 104.47 L870.91 102.88 L871.91 101.31 L872.92 99.76 L873.92 98.21 L874.92 96.69 L875.93 95.18 L876.93 93.68 L877.94 92.2 L878.94 90.75 L879.94 89.3 L880.95 87.88 L881.95 86.48 L882.96 85.1 L883.96 83.73 L884.96 82.39 L885.97 81.07 L886.97 79.78 L887.98 78.5 L888.98 77.25 L889.98 76.02 L890.99 74.82 L891.99 73.64 L893 72.48 L894 71.36 L895 70.25 L896.01 69.18 L897.01 68.13 L898.02 67.11 L899.02 66.12 L900.02 65.15 L901.03 64.21 L902.03 63.3 L903.04 62.43 L904.04 61.58 L905.04 60.76 L906.05 59.97 L907.05 59.21 L908.06 58.48 L909.06 57.79 L910.06 57.12 L911.07 56.49 L912.07 55.89 L913.08 55.32 L914.08 54.78 L915.08 54.28 L916.09 53.81 L917.09 53.37 L918.1 52.97 L919.1 52.6 L920.1 52.26 L921.11 51.96 L922.11 51.69 L923.12 51.45 L924.12 51.25 L925.12 51.08 L926.13 50.95 L927.13 50.85 L928.14 50.78 L929.14 50.75 L930.14 50.76 L931.15 50.79 L932.15 50.87 L933.16 50.97 L934.16 51.11 L935.16 51.29 L936.17 51.5 L937.17 51.74 L938.18 52.02 L939.18 52.33 L940.18 52.67 L941.19 53.05 L942.19 53.46 L943.2 53.9 L944.2 54.38 L945.2 54.89 L946.21 55.43 L947.21 56.01 L948.22 56.62 L949.22 57.26 L950.22 57.93 L951.23 58.63 L952.23 59.36 L953.24 60.13 L954.24 60.92 L955.24 61.75 L956.25 62.6 L957.25 63.49 L958.26 64.4 L959.26 65.34 L960.26 66.32 L961.27 67.31 L962.27 68.34 L963.28 69.4 L964.28 70.48 L965.28 71.58 L966.29 72.72 L967.29 73.88 L968.3 75.06 L969.3 76.27 L970.3 77.5 L971.31 78.76 L972.31 80.04 L973.32 81.34 L974.32 82.66 L975.32 84.01 L976.33 85.38 L977.33 86.76 L978.34 88.17 L979.34 89.6 L980.34 91.04 L981.35 92.5 L982.35 93.98 L983.36 95.48 L984.36 97 L985.36 98.53 L986.37 100.07 L987.37 101.63 L988.38 103.21 L989.38 104.79 L990.38 106.39 L991.39 108 L992.39 109.63 L993.4 111.26 L994.4 112.9 L995.4 114.56 L996.41 116.22 L997.41 117.89 L998.42 119.57 L999.42 121.25 L1000.42 122.94 L1001.43 124.64 L1002.43 126.34 L1003.44 128.05 L1004.44 129.75 L1005.44 131.46 L1006.45 133.18 L1007.45 134.89 L1008.46 136.61 L1009.46 138.32 L1010.46 140.04 L1011.47 141.75 L1012.47 143.46 L1013.48 145.17 L1014.48 146.87 L1015.48 148.57 L1016.49 150.27 L1017.49 151.96 L1018.5 153.64 L1019.5 155.32 L1020.5 156.99 L1021.51 158.65 L1022.51 160.3 L1023.52 161.94 L1024.52 163.58 L1025.52 165.2 L1026.53 166.81 L1027.53 168.41 L1028.54 169.99 L1029.54 171.56 L1030.54 173.12 L1031.55 174.66 L1032.55 176.19 L1033.56 177.7 L1034.56 179.2 L1035.56 180.68 L1036.57 182.14 L1037.57 183.58 L1038.58 185.01 L1039.58 186.41 L1040.58 187.79 L1041.59 189.16 L1042.59 190.5 L1043.6 191.82 L1044.6 193.12 L1045.6 194.4 L1046.61 195.65 L1047.61 196.88 L1048.62 198.09 L1049.62 199.27 L1050.62 200.42 L1051.63 201.55 L1052.63 202.66 L1053.64 203.74 L1054.64 204.79 L1055.64 205.81 L1056.65 206.81 L1057.65 207.77 L1058.66 208.71 L1059.66 209.62 L1060.66 210.5 L1061.67 211.36 L1062.67 212.18 L1063.68 212.97 L1064.68 213.73 L1065.68 214.46 L1066.69 215.16 L1067.69 215.83 L1068.7 216.46 L1069.7 217.06 L1070.7 217.64 L1071.71 218.17 L1072.71 218.68 L1073.72 219.15 L1074.72 219.59 L1075.72 220 L1076.73 220.37 L1077.73 220.71 L1078.74 221.02 L1079.74 221.29 L1080.74 221.53 L1081.75 221.74 L1082.75 221.91 L1083.76 222.04 L1084.76 222.14 L1085.76 222.21 L1086.77 222.25 L1087.77 222.25 L1088.78 222.21 L1089.78 222.14 L1090.78 222.04 L1091.79 221.9 L1092.79 221.73 L1093.8 221.52 L1094.8 221.28 L1095.8 221.01 L1096.81 220.7 L1097.81 220.36 L1098.82 219.98 L1099.82 219.57 L1100.82 219.13 L1101.83 218.66 L1102.83 218.15 L1103.84 217.61 L1104.84 217.04 L1105.84 216.43 L1106.85 215.8 L1107.85 215.13 L1108.86 214.43 L1109.86 213.7 L1110.86 212.93 L1111.87 212.14 L1112.87 211.32 L1113.88 210.47 L1114.88 209.58 L1115.88 208.67 L1116.89 207.73 L1117.89 206.76 L1118.9 205.77 L1119.9 204.74 L1120.9 203.69 L1121.91 202.61 L1122.91 201.5 L1123.92 200.37 L1124.92 199.22 L1125.92 198.03 L1126.93 196.83 L1127.93 195.6 L1128.94 194.34 L1129.94 193.06 L1130.94 191.76 L1131.95 190.44 L1132.95 189.1 L1133.96 187.73 L1134.96 186.35 L1135.96 184.94 L1136.97 183.52 L1137.97 182.07 L1138.98 180.61 L1139.98 179.13 L1140.98 177.64 L1141.99 176.12 L1142.99 174.6 L1144 173.05 L1145 171.49 L1146 169.92 L1147.01 168.33 L1148.01 166.74 L1149.02 165.12 L1150.02 163.5 L1151.02 161.87 L1152.03 160.23 L1153.03 158.57 L1154.04 156.91 L1155.04 155.24 L1156.04 153.57 L1157.05 151.88 L1158.05 150.19 L1159.06 148.5 L1160.06 146.8 L1161.06 145.09 L1162.07 143.38 L1163.07 141.67 L1164.08 139.96 L1165.08 138.25 L1166.08 136.53 L1167.09 134.82 L1168.09 133.1 L1169.1 131.39 L1170.1 129.68 L1171.1 127.97 L1172.11 126.26 L1173.11 124.56 L1174.12 122.87 L1175.12 121.18 L1176.12 119.49 L1177.13 117.82 L1178.13 116.15 L1179.14 114.48 L1180.14 112.83 L1181.14 111.19 L1182.15 109.55 L1183.15 107.93 L1184.16 106.32 L1185.16 104.72 L1186.16 103.14 L1187.17 101.56 L1188.17 100 L1189.18 98.46 L1190.18 96.93 L1191.18 95.42 L1192.19 93.92 L1193.19 92.44 L1194.2 90.98 L1195.2 89.53 L1196.2 88.11 L1197.21 86.7 L1198.21 85.31 L1199.22 83.95 L1200.22 82.6 L1201.22 81.28 L1202.23 79.98 L1203.23 78.7 L1204.24 77.45 L1205.24 76.22 L1206.24 75.01 L1207.25 73.82 L1208.25 72.67 L1209.26 71.53 L1210.26 70.43 L1211.26 69.35 L1212.27 68.3 L1213.27 67.27 L1214.28 66.27 L1215.28 65.3 L1216.28 64.36 L1217.29 63.45 L1218.29 62.56 L1219.3 61.71 L1220.3 60.89 L1221.3 60.09 L1222.31 59.33 L1223.31 58.6 L1224.32 57.9 L1225.32 57.23 L1226.32 56.59 L1227.33 55.98 L1228.33 55.41 L1229.34 54.87 L1230.34 54.36 L1231.34 53.88 L1232.35 53.44 L1233.35 53.03 L1234.36 52.65 L1235.36 52.31 L1236.36 52 L1237.37 51.73 L1238.37 51.49 L1239.38 51.28 L1240.38 51.11 L1241.38 50.97 L1242.39 50.86 L1243.39 50.79 L1244.4 50.76 L1245.4 50.75 L1246.4 50.79 L1247.41 50.85 L1248.41 50.95 L1249.42 51.09 L1250.42 51.26 L1251.42 51.46 L1252.43 51.7 L1253.43 51.97 L1254.44 52.27 L1255.44 52.61 L1256.44 52.99 L1257.45 53.39 L1258.45 53.83 L1259.46 54.3 L1260.46 54.81 L1261.46 55.35 L1262.47 55.92 L1263.47 56.52 L1264.48 57.15 L1265.48 57.82 L1266.48 58.52 L1267.49 59.24 L1268.49 60 L1269.5 60.79 L1270.5 61.61 L1271.5 62.46 L1272.51 63.34 L1273.51 64.25 L1274.52 65.19 L1275.52 66.16 L1276.52 67.15 L1277.53 68.18 L1278.53 69.23 L1279.54 70.3 L1280.54 71.41 L1281.54 72.54 L1282.55 73.69 L1283.55 74.87 L1284.56 76.08 L1285.56 77.3 L1286.56 78.56 L1287.57 79.83 L1288.57 81.13 L1289.58 82.45 L1290.58 83.79 L1291.58 85.16 L1292.59 86.54 L1293.59 87.94 L1294.6 89.37 L1295.6 90.81 L1296.6 92.27 L1297.61 93.75 L1298.61 95.24 L1299.62 96.75 L1300.62 98.28 L1301.62 99.82 L1302.63 101.38 L1303.63 102.95 L1304.64 104.54 L1305.64 106.14 L1306.64 107.75 L1307.65 109.37 L1308.65 111 L1309.66 112.64 L1310.66 114.29 L1311.66 115.96 L1312.67 117.62 L1313.67 119.3 L1314.68 120.98 L1315.68 122.67 L1316.68 124.37 L1317.69 126.07 L1318.69 127.77 L1319.7 129.48 L1320.7 131.19 L1321.7 132.9 L1322.71 134.62 L1323.71 136.33 L1324.72 138.05 L1325.72 139.76 L1326.72 141.48 L1327.73 143.19 L1328.73 144.89 L1329.74 146.6 L1330.74 148.3 L1331.74 150 L1332.75 151.69 L1333.75 153.37 L1334.76 155.05 L1335.76 156.72 L1336.76 158.38 L1337.77 160.04 L1338.77 161.68 L1339.78 163.32 L1340.78 164.94 L1341.78 166.55 L1342.79 168.15 L1343.79 169.74 L1344.8 171.31 L1345.8 172.87 L1346.8 174.42 L1347.81 175.95 L1348.81 177.46 L1349.82 178.96 L1350.82 180.44 L1351.82 181.91 L1352.83 183.35 L1353.83 184.78 L1354.84 186.19 L1355.84 187.58 L1356.84 188.94 L1357.85 190.29 L1358.85 191.61 L1359.86 192.92 L1360.86 194.2 L1361.86 195.45 L1362.87 196.69 L1363.87 197.9 L1364.88 199.08 L1365.88 200.24 L1366.88 201.38 L1367.89 202.48 L1368.89 203.57 L1369.9 204.62 L1370.9 205.65 L1371.9 206.65 L1372.91 207.62 L1373.91 208.57 L1374.92 209.48 L1375.92 210.37 L1376.92 211.22 L1377.93 212.05 L1378.93 212.85 L1379.94 213.61 L1380.94 214.35 L1381.94 215.05 L1382.95 215.72 L1383.95 216.36 L1384.96 216.97 L1385.96 217.55 L1386.96 218.09 L1387.97 218.6 L1388.97 219.08 L1389.98 219.53 L1390.98 219.94 L1391.98 220.32 L1392.99 220.66 L1393.99 220.97 L1395 221.25 L1396 221.5 L1397 221.71 L1398.01 221.88 L1399.01 222.02 L1400.02 222.13 L1401.02 222.2 L1402.02 222.24 L1403.03 222.25 L1404.03 222.22 L1405.04 222.15 L1406.04 222.06 L1407.04 221.92 L1408.05 221.76 L1409.05 221.56 L1410.06 221.32 L1411.06 221.05 L1412.06 220.75 L1413.07 220.41 L1414.07 220.05 L1415.08 219.64 L1416.08 219.21 L1417.08 218.74 L1418.09 218.23 L1419.09 217.7 L1420.1 217.13 L1421.1 216.53 L1422.1 215.9 L1423.11 215.24 L1424.11 214.54 L1425.12 213.82 L1426.12 213.06 L1427.12 212.27 L1428.13 211.45 L1429.13 210.6 L1430.14 209.73 L1431.14 208.82 L1432.14 207.88 L1433.15 206.92 L1434.15 205.93 L1435.16 204.91 L1436.16 203.86 L1437.16 202.78 L1438.17 201.68 L1439.17 200.56 L1440.18 199.4 L1441.18 198.22 L1442.18 197.02 L1443.19 195.79 L1444.19 194.54 L1445.2 193.27 L1446.2 191.97 L1447.2 190.65 L1448.21 189.31 L1449.21 187.95 L1450.22 186.57 L1451.22 185.17 L1452.22 183.75 L1453.23 182.31 L1454.23 180.85 L1455.24 179.37 L1456.24 177.88 L1457.24 176.37 L1458.25 174.84 L1459.25 173.3 L1460.26 171.74 L1461.26 170.17 L1462.26 168.59 L1463.27 166.99 L1464.27 165.38 L1465.28 163.76 L1466.28 162.13 L1467.28 160.49 L1468.29 158.84 L1469.29 157.18 L1470.3 155.51 L1471.3 153.83 L1472.3 152.15 L1473.31 150.46 L1474.31 148.77 L1475.32 147.07 L1476.32 145.36 L1477.32 143.66 L1478.33 141.94 L1479.33 140.23 L1480.34 138.52 L1481.34 136.8 L1482.34 135.09 L1483.35 133.37 L1484.35 131.66 L1485.36 129.95 L1486.36 128.24 L1487.36 126.54 L1488.37 124.83 L1489.37 123.14 L1490.38 121.45 L1491.38 119.76 L1492.38 118.08 L1493.39 116.41 L1494.39 114.75 L1495.4 113.09 L1496.4 111.45 L1497.4 109.81 L1498.41 108.19 L1499.41 106.58 L1500.42 104.98 L1501.42 103.39 L1502.42 101.81 L1503.43 100.25 L1504.43 98.7 L1505.44 97.17 L1506.44 95.66 L1507.44 94.16 L1508.45 92.67 L1509.45 91.21 L1510.46 89.76 L1511.46 88.33 L1512.46 86.92 L1513.47 85.53 L1514.47 84.17 L1515.48 82.82 L1516.48 81.49 L1517.48 80.19 L1518.49 78.9 L1519.49 77.65 L1520.5 76.41 L1521.5 75.2 L1522.5 74.01 L1523.51 72.85 L1524.51 71.71 L1525.52 70.6 L1526.52 69.52 L1527.52 68.46 L1528.53 67.43 L1529.53 66.43 L1530.54 65.45 L1531.54 64.51 L1532.54 63.59 L1533.55 62.7 L1534.55 61.84 L1535.56 61.02 L1536.56 60.22 L1537.56 59.45 L1538.57 58.71 L1539.57 58.01 L1540.58 57.33 L1541.58 56.69 L1542.58 56.08 L1543.59 55.5 L1544.59 54.95 L1545.6 54.44 L1546.6 53.96 L1547.6 53.51 L1548.61 53.09 L1549.61 52.71 L1550.62 52.36 L1551.62 52.05 L1552.62 51.77 L1553.63 51.52 L1554.63 51.31 L1555.64 51.13 L1556.64 50.99 L1557.64 50.88 L1558.65 50.8 L1559.65 50.76 L1560.66 50.75 L1561.66 50.78 L1562.66 50.84 L1563.67 50.93 L1564.67 51.06 L1565.68 51.23 L1566.68 51.43 L1567.68 51.66 L1568.69 51.92 L1569.69 52.22 L1570.7 52.56 L1571.7 52.92 L1572.7 53.32 L1573.71 53.76 L1574.71 54.23 L1575.72 54.72 L1576.72 55.26 L1577.72 55.82 L1578.73 56.42 L1579.73 57.05 L1580.74 57.71 L1581.74 58.4 L1582.74 59.13 L1583.75 59.88 L1584.75 60.67 L1585.76 61.48 L1586.76 62.33 L1587.76 63.2 L1588.77 64.11 L1589.77 65.04 L1590.78 66 L1591.78 66.99 L1592.78 68.01 L1593.79 69.06 L1594.79 70.13 L1595.8 71.23 L1596.8 72.35 L1597.8 73.5 L1598.81 74.68 L1599.81 75.88 L1600.82 77.11 L1601.82 78.36 L1602.82 79.63 L1603.83 80.92 L1604.83 82.24 L1605.84 83.58 L1606.84 84.94 L1607.84 86.32 L1608.85 87.72 L1609.85 89.14 L1610.86 90.58 L1611.86 92.04 L1612.86 93.51 L1613.87 95 L1614.87 96.51 L1615.88 98.04 L1616.88 99.58 L1617.88 101.13 L1618.89 102.7 L1619.89 104.29 L1620.9 105.88 L1621.9 107.49 L1622.9 109.11 L1623.91 110.74 L1624.91 112.38 L1625.92 114.03 L1626.92 115.69 L1627.92 117.36 L1628.93 119.03 L1629.93 120.72 L1630.94 122.4 L1631.94 124.1 L1632.94 125.8 L1633.95 127.5 L1634.95 129.21 L1635.96 130.92 L1636.96 132.63 L1637.96 134.35 L1638.97 136.06 L1639.97 137.78 L1640.98 139.49 L1641.98 141.2 L1642.98 142.91 L1643.99 144.62 L1644.99 146.33 L1646 148.03 L1647 149.73" stroke="#f00" stroke-width="7.3" stroke-dasharray="38 8.4 6.8 8.8"/>
</g>
<g fill="#000" shape-rendering="crispEdges">
<rect x="139" y="37" width="4" height="263"/>
<rect x="1645" y="37" width="4" height="263"/>
<rect x="139" y="37" width="1510" height="4"/>
<rect x="139" y="296" width="1510" height="4"/>
<rect x="139" y="298" width="4" height="14"/>
<rect x="390" y="298" width="4" height="14"/>
<rect x="641" y="298" width="4" height="14"/>
<rect x="892" y="298" width="4" height="14"/>
<rect x="1143" y="298" width="4" height="14"/>
<rect x="1394" y="298" width="4" height="14"/>
<rect x="1645" y="298" width="4" height="14"/>
<rect x="127" y="49" width="14" height="4"/>
<rect x="127" y="134" width="14" height="5"/>
<rect x="127" y="220" width="14" height="5"/>
</g>
<g font-family='"DejaVu Sans","Liberation Sans",sans-serif' font-size="58.33" fill="#000" stroke="#000" stroke-width="1" stroke-linejoin="round" filter="url(#al)">
<text x="141" y="369.6" text-anchor="middle">0</text>
<text x="392" y="369.6" text-anchor="middle">5</text>
<text x="643" y="369.6" text-anchor="middle">10</text>
<text x="894" y="369.6" text-anchor="middle">15</text>
<text x="1145" y="369.6" text-anchor="middle">20</text>
<text x="1396" y="369.6" text-anchor="middle">25</text>
<text x="1647" y="369.6" text-anchor="middle">30</text>
<text x="113.2" y="73.3" text-anchor="end">1</text>
<text x="113.2" y="158.8" text-anchor="end">0</text>
<text x="113.2" y="244.8" text-anchor="end">−1</text>
<text x="894" y="441.7" text-anchor="middle" letter-spacing="0.2">(a) proposed HOSD</text>
</g>
<path d="M1312.3 68.5 L1607.2 68.5 Q1618.0 68.5 1618.0 79.3 L1618.0 252.7 Q1618.0 263.5 1607.2 263.5 L1312.3 263.5 Q1301.5 263.5 1301.5 252.7 L1301.5 79.3 Q1301.5 68.5 1312.3 68.5 Z" fill="#fff" stroke="#ccc" stroke-width="4.6" shape-rendering="crispEdges"/>
<rect x="1322" y="118" width="124" height="7" fill="#000" shape-rendering="crispEdges"/>
<g fill="#f00" shape-rendering="crispEdges">
<rect x="1325" y="204" width="38" height="7"/>
<rect x="1371" y="204" width="7" height="7"/>
<rect x="1387" y="204" width="38" height="7"/>
<rect x="1434" y="204" width="6" height="7"/>
</g>
<g font-family='"DejaVu Sans","Liberation Sans",sans-serif' font-size="58.33" fill="#000" stroke="#000" stroke-width="1" stroke-linejoin="round" filter="url(#al)">
<text y="139.4"><tspan x="1489.2" font-style="oblique">a</tspan><tspan x="1525.4">(</tspan><tspan x="1548" font-style="oblique">t</tspan><tspan x="1570.8">)</tspan></text>
<text transform="translate(1512.1 142) scale(1 1.23)" x="0" y="0" text-anchor="middle">˙</text>
<text x="1489" y="224.5" font-style="oblique">σ</text>
<text x="1526" y="233.9" font-size="40.83">1</text>
</g>
</g>
<g id="ax1">
<g fill="#b0b0b0" shape-rendering="crispEdges">
<rect x="139" y="467" width="4" height="259"/>
<rect x="390" y="467" width="4" height="259"/>
<rect x="641" y="467" width="4" height="259"/>
<rect x="892" y="467" width="4" height="259"/>
<rect x="1143" y="467" width="4" height="259"/>
<rect x="1394" y="467" width="4" height="259"/>
<rect x="1645" y="467" width="4" height="259"/>
<rect x="141.0" y="477" width="1506.0" height="4"/>
<rect x="141.0" y="584" width="1506.0" height="4"/>
<rect x="141.0" y="691" width="1506.0" height="4"/>
</g>
<g clip-path="url(#c1)" fill="none" shape-rendering="crispEdges">
<path d="M141 586 L143.51 623.45 L146.02 658.76 L148.53 687.65 L150.04 702.63 L151.04 709.59 L151.79 712.47 L152.55 713.33 L153.4 713.01 L154.35 710.65 L155.36 706.38 L156.36 701.35 L158.57 691.93 L161.08 686.04 L163.59 682.84 L165.1 680.91 L166.1 679.9 L167.1 678.86 L168.11 677.77 L169.11 676.66 L170.12 675.5 L171.12 674.31 L172.12 673.08 L173.13 671.82 L174.13 670.53 L175.14 669.2 L176.14 667.84 L177.14 666.44 L178.15 665.02 L179.15 663.56 L180.16 662.07 L181.16 660.55 L182.16 659 L183.17 657.42 L184.17 655.81 L185.18 654.18 L186.18 652.51 L187.18 650.82 L188.19 649.11 L189.19 647.37 L190.2 645.6 L191.2 643.81 L192.2 642 L193.21 640.17 L194.21 638.31 L195.22 636.43 L196.22 634.53 L197.22 632.62 L198.23 630.68 L199.23 628.73 L200.24 626.76 L201.24 624.77 L202.24 622.77 L203.25 620.75 L204.25 618.72 L205.26 616.68 L206.26 614.62 L207.26 612.55 L208.27 610.48 L209.27 608.39 L210.28 606.29 L211.28 604.19 L212.28 602.07 L213.29 599.96 L214.29 597.83 L215.3 595.7 L216.3 593.57 L217.3 591.43 L218.31 589.29 L219.31 587.16 L220.32 585.02 L221.32 582.88 L222.32 580.74 L223.33 578.6 L224.33 576.47 L225.34 574.34 L226.34 572.21 L227.34 570.09 L228.35 567.98 L229.35 565.88 L230.36 563.78 L231.36 561.69 L232.36 559.61 L233.37 557.54 L234.37 555.48 L235.38 553.44 L236.38 551.41 L237.38 549.39 L238.39 547.39 L239.39 545.4 L240.4 543.43 L241.4 541.47 L242.4 539.54 L243.41 537.62 L244.41 535.72 L245.42 533.84 L246.42 531.98 L247.42 530.15 L248.43 528.33 L249.43 526.54 L250.44 524.77 L251.44 523.03 L252.44 521.31 L253.45 519.62 L254.45 517.96 L255.46 516.32 L256.46 514.71 L257.46 513.13 L258.47 511.57 L259.47 510.05 L260.48 508.56 L261.48 507.1 L262.48 505.67 L263.49 504.27 L264.49 502.91 L265.5 501.58 L266.5 500.28 L267.5 499.01 L268.51 497.79 L269.51 496.59 L270.52 495.43 L271.52 494.31 L272.52 493.23 L273.53 492.18 L274.53 491.17 L275.54 490.2 L276.54 489.26 L277.54 488.37 L278.55 487.51 L279.55 486.7 L280.56 485.92 L281.56 485.18 L282.56 484.49 L283.57 483.83 L284.57 483.21 L285.58 482.64 L286.58 482.11 L287.58 481.62 L288.59 481.17 L289.59 480.76 L290.6 480.39 L291.6 480.07 L292.6 479.79 L293.61 479.55 L294.61 479.36 L295.62 479.2 L296.62 479.09 L297.62 479.02 L298.63 479 L299.63 479.02 L300.64 479.08 L301.64 479.18 L302.64 479.33 L303.65 479.52 L304.65 479.75 L305.66 480.02 L306.66 480.34 L307.66 480.7 L308.67 481.1 L309.67 481.54 L310.68 482.03 L311.68 482.55 L312.68 483.12 L313.69 483.73 L314.69 484.38 L315.7 485.07 L316.7 485.8 L317.7 486.57 L318.71 487.38 L319.71 488.23 L320.72 489.12 L321.72 490.05 L322.72 491.01 L323.73 492.02 L324.73 493.06 L325.74 494.14 L326.74 495.25 L327.74 496.41 L328.75 497.59 L329.75 498.82 L330.76 500.07 L331.76 501.37 L332.76 502.69 L333.77 504.05 L334.77 505.44 L335.78 506.87 L336.78 508.33 L337.78 509.81 L338.79 511.33 L339.79 512.88 L340.8 514.45 L341.8 516.06 L342.8 517.69 L343.81 519.35 L344.81 521.04 L345.82 522.76 L346.82 524.49 L347.82 526.26 L348.83 528.04 L349.83 529.85 L350.84 531.69 L351.84 533.54 L352.84 535.42 L353.85 537.31 L354.85 539.23 L355.86 541.16 L356.86 543.11 L357.86 545.08 L358.87 547.07 L359.87 549.07 L360.88 551.09 L361.88 553.12 L362.88 555.16 L363.89 557.21 L364.89 559.28 L365.9 561.36 L366.9 563.44 L367.9 565.54 L368.91 567.65 L369.91 569.76 L370.92 571.88 L371.92 574 L372.92 576.13 L373.93 578.26 L374.93 580.4 L375.94 582.53 L376.94 584.67 L377.94 586.81 L378.95 588.95 L379.95 591.09 L380.96 593.23 L381.96 595.36 L382.96 597.49 L383.97 599.62 L384.97 601.74 L385.98 603.85 L386.98 605.96 L387.98 608.06 L388.99 610.14 L389.99 612.22 L391 614.29 L392 616.35 L393 618.4 L394.01 620.43 L395.01 622.45 L396.02 624.45 L397.02 626.44 L398.02 628.42 L399.03 630.37 L400.03 632.31 L401.04 634.23 L402.04 636.13 L403.04 638.01 L404.05 639.87 L405.05 641.71 L406.06 643.53 L407.06 645.32 L408.06 647.09 L409.07 648.83 L410.07 650.55 L411.08 652.24 L412.08 653.91 L413.08 655.55 L414.09 657.16 L415.09 658.75 L416.1 660.3 L417.1 661.83 L418.1 663.32 L419.11 664.79 L420.11 666.22 L421.12 667.62 L422.12 668.99 L423.12 670.32 L424.13 671.62 L425.13 672.89 L426.14 674.12 L427.14 675.31 L428.14 676.47 L429.15 677.6 L430.15 678.69 L431.16 679.74 L432.16 680.75 L433.16 681.73 L434.17 682.66 L435.17 683.56 L436.18 684.42 L437.18 685.24 L438.18 686.02 L439.19 686.76 L440.19 687.46 L441.2 688.12 L442.2 688.74 L443.2 689.32 L444.21 689.85 L445.21 690.35 L446.22 690.8 L447.22 691.21 L448.22 691.58 L449.23 691.91 L450.23 692.19 L451.24 692.43 L452.24 692.63 L453.24 692.79 L454.25 692.9 L455.25 692.97 L456.26 693 L457.26 692.98 L458.26 692.93 L459.27 692.83 L460.27 692.68 L461.28 692.5 L462.28 692.27 L463.28 692 L464.29 691.69 L465.29 691.33 L466.3 690.93 L467.3 690.49 L468.3 690.01 L469.31 689.49 L470.31 688.93 L471.32 688.32 L472.32 687.67 L473.32 686.99 L474.33 686.26 L475.33 685.49 L476.34 684.69 L477.34 683.84 L478.34 682.95 L479.35 682.03 L480.35 681.07 L481.36 680.06 L482.36 679.03 L483.36 677.95 L484.37 676.84 L485.37 675.69 L486.38 674.5 L487.38 673.28 L488.38 672.03 L489.39 670.74 L490.39 669.41 L491.4 668.06 L492.4 666.67 L493.4 665.25 L494.41 663.79 L495.41 662.31 L496.42 660.79 L497.42 659.25 L498.42 657.67 L499.43 656.07 L500.43 654.44 L501.44 652.78 L502.44 651.09 L503.44 649.38 L504.45 647.65 L505.45 645.88 L506.46 644.1 L507.46 642.29 L508.46 640.46 L509.47 638.61 L510.47 636.73 L511.48 634.84 L512.48 632.92 L513.48 630.99 L514.49 629.04 L515.49 627.07 L516.5 625.09 L517.5 623.09 L518.5 621.08 L519.51 619.05 L520.51 617 L521.52 614.95 L522.52 612.88 L523.52 610.81 L524.53 608.72 L525.53 606.63 L526.54 604.52 L527.54 602.41 L528.54 600.29 L529.55 598.17 L530.55 596.04 L531.56 593.91 L532.56 591.77 L533.56 589.64 L534.57 587.5 L535.57 585.36 L536.58 583.22 L537.58 581.08 L538.58 578.94 L539.59 576.81 L540.59 574.68 L541.6 572.55 L542.6 570.43 L543.6 568.32 L544.61 566.21 L545.61 564.11 L546.62 562.02 L547.62 559.94 L548.62 557.87 L549.63 555.81 L550.63 553.76 L551.64 551.73 L552.64 549.71 L553.64 547.7 L554.65 545.71 L555.65 543.74 L556.66 541.78 L557.66 539.84 L558.66 537.92 L559.67 536.02 L560.67 534.14 L561.68 532.28 L562.68 530.44 L563.68 528.62 L564.69 526.82 L565.69 525.05 L566.7 523.31 L567.7 521.58 L568.7 519.89 L569.71 518.22 L570.71 516.58 L571.72 514.96 L572.72 513.38 L573.72 511.82 L574.73 510.29 L575.73 508.8 L576.74 507.33 L577.74 505.89 L578.74 504.49 L579.75 503.12 L580.75 501.79 L581.76 500.48 L582.76 499.21 L583.76 497.98 L584.77 496.78 L585.77 495.62 L586.78 494.49 L587.78 493.4 L588.78 492.34 L589.79 491.33 L590.79 490.35 L591.8 489.41 L592.8 488.51 L593.8 487.65 L594.81 486.82 L595.81 486.04 L596.82 485.3 L597.82 484.59 L598.82 483.93 L599.83 483.31 L600.83 482.73 L601.84 482.19 L602.84 481.69 L603.84 481.24 L604.85 480.82 L605.85 480.45 L606.86 480.12 L607.86 479.83 L608.86 479.59 L609.87 479.38 L610.87 479.22 L611.88 479.11 L612.88 479.03 L613.88 479 L614.89 479.01 L615.89 479.07 L616.9 479.16 L617.9 479.3 L618.9 479.48 L619.91 479.71 L620.91 479.98 L621.92 480.29 L622.92 480.64 L623.92 481.03 L624.93 481.47 L625.93 481.95 L626.94 482.47 L627.94 483.03 L628.94 483.63 L629.95 484.27 L630.95 484.96 L631.96 485.68 L632.96 486.44 L633.96 487.25 L634.97 488.09 L635.97 488.97 L636.98 489.9 L637.98 490.86 L638.98 491.85 L639.99 492.89 L640.99 493.96 L642 495.07 L643 496.22 L644 497.4 L645.01 498.62 L646.01 499.87 L647.02 501.16 L648.02 502.48 L649.02 503.83 L650.03 505.22 L651.03 506.64 L652.04 508.09 L653.04 509.57 L654.04 511.09 L655.05 512.63 L656.05 514.2 L657.06 515.8 L658.06 517.43 L659.06 519.09 L660.07 520.77 L661.07 522.48 L662.08 524.22 L663.08 525.97 L664.08 527.76 L665.09 529.56 L666.09 531.39 L667.1 533.25 L668.1 535.12 L669.1 537.01 L670.11 538.92 L671.11 540.85 L672.12 542.8 L673.12 544.77 L674.12 546.75 L675.13 548.75 L676.13 550.76 L677.14 552.79 L678.14 554.83 L679.14 556.89 L680.15 558.95 L681.15 561.03 L682.16 563.11 L683.16 565.21 L684.16 567.31 L685.17 569.42 L686.17 571.54 L687.18 573.66 L688.18 575.79 L689.18 577.92 L690.19 580.06 L691.19 582.19 L692.2 584.33 L693.2 586.47 L694.2 588.61 L695.21 590.75 L696.21 592.89 L697.22 595.02 L698.22 597.15 L699.22 599.28 L700.23 601.4 L701.23 603.51 L702.24 605.62 L703.24 607.72 L704.24 609.81 L705.25 611.89 L706.25 613.96 L707.26 616.02 L708.26 618.07 L709.26 620.11 L710.27 622.13 L711.27 624.14 L712.28 626.13 L713.28 628.1 L714.28 630.06 L715.29 632 L716.29 633.93 L717.3 635.83 L718.3 637.71 L719.3 639.58 L720.31 641.42 L721.31 643.24 L722.32 645.03 L723.32 646.81 L724.32 648.56 L725.33 650.28 L726.33 651.98 L727.34 653.65 L728.34 655.29 L729.34 656.91 L730.35 658.5 L731.35 660.06 L732.36 661.59 L733.36 663.09 L734.36 664.55 L735.37 665.99 L736.37 667.4 L737.38 668.77 L738.38 670.11 L739.38 671.42 L740.39 672.69 L741.39 673.92 L742.4 675.13 L743.4 676.29 L744.4 677.42 L745.41 678.52 L746.41 679.57 L747.42 680.59 L748.42 681.57 L749.42 682.52 L750.43 683.42 L751.43 684.29 L752.44 685.11 L753.44 685.9 L754.44 686.65 L755.45 687.35 L756.45 688.02 L757.46 688.64 L758.46 689.23 L759.46 689.77 L760.47 690.27 L761.47 690.73 L762.48 691.15 L763.48 691.52 L764.48 691.86 L765.49 692.15 L766.49 692.4 L767.5 692.6 L768.5 692.76 L769.5 692.88 L770.51 692.96 L771.51 693 L772.52 692.99 L773.52 692.94 L774.52 692.85 L775.53 692.71 L776.53 692.53 L777.54 692.31 L778.54 692.05 L779.54 691.74 L780.55 691.39 L781.55 691 L782.56 690.57 L783.56 690.09 L784.56 689.58 L785.57 689.02 L786.57 688.42 L787.58 687.78 L788.58 687.1 L789.58 686.38 L790.59 685.62 L791.59 684.82 L792.6 683.98 L793.6 683.1 L794.6 682.18 L795.61 681.22 L796.61 680.23 L797.62 679.19 L798.62 678.12 L799.62 677.02 L800.63 675.87 L801.63 674.69 L802.64 673.48 L803.64 672.23 L804.64 670.95 L805.65 669.63 L806.65 668.28 L807.66 666.89 L808.66 665.47 L809.66 664.03 L810.67 662.55 L811.67 661.04 L812.68 659.49 L813.68 657.92 L814.68 656.33 L815.69 654.7 L816.69 653.04 L817.7 651.36 L818.7 649.66 L819.7 647.92 L820.71 646.17 L821.71 644.38 L822.72 642.58 L823.72 640.75 L824.72 638.9 L825.73 637.03 L826.73 635.14 L827.74 633.23 L828.74 631.3 L829.74 629.35 L830.75 627.39 L831.75 625.41 L832.76 623.41 L833.76 621.4 L834.76 619.37 L835.77 617.33 L836.77 615.28 L837.78 613.21 L838.78 611.14 L839.78 609.05 L840.79 606.96 L841.79 604.86 L842.8 602.75 L843.8 600.63 L844.8 598.51 L845.81 596.38 L846.81 594.25 L847.82 592.11 L848.82 589.98 L849.82 587.84 L850.83 585.7 L851.83 583.56 L852.84 581.42 L853.84 579.28 L854.84 577.15 L855.85 575.02 L856.85 572.89 L857.86 570.77 L858.86 568.65 L859.86 566.55 L860.87 564.45 L861.87 562.35 L862.88 560.27 L863.88 558.2 L864.88 556.14 L865.89 554.09 L866.89 552.05 L867.9 550.03 L868.9 548.02 L869.9 546.03 L870.91 544.05 L871.91 542.09 L872.92 540.15 L873.92 538.23 L874.92 536.32 L875.93 534.44 L876.93 532.57 L877.94 530.73 L878.94 528.91 L879.94 527.11 L880.95 525.33 L881.95 523.58 L882.96 521.86 L883.96 520.16 L884.96 518.48 L885.97 516.84 L886.97 515.22 L887.98 513.63 L888.98 512.07 L889.98 510.53 L890.99 509.03 L891.99 507.56 L893 506.12 L894 504.71 L895 503.34 L896.01 502 L897.01 500.69 L898.02 499.41 L899.02 498.17 L900.02 496.97 L901.03 495.8 L902.03 494.67 L903.04 493.57 L904.04 492.51 L905.04 491.49 L906.05 490.5 L907.05 489.56 L908.06 488.65 L909.06 487.78 L910.06 486.95 L911.07 486.16 L912.07 485.41 L913.08 484.7 L914.08 484.03 L915.08 483.41 L916.09 482.82 L917.09 482.27 L918.1 481.77 L919.1 481.31 L920.1 480.88 L921.11 480.51 L922.11 480.17 L923.12 479.87 L924.12 479.62 L925.12 479.41 L926.13 479.25 L927.13 479.12 L928.14 479.04 L929.14 479 L930.14 479.01 L931.15 479.05 L932.15 479.14 L933.16 479.28 L934.16 479.45 L935.16 479.67 L936.17 479.93 L937.17 480.23 L938.18 480.58 L939.18 480.97 L940.18 481.4 L941.19 481.87 L942.19 482.38 L943.2 482.93 L944.2 483.53 L945.2 484.17 L946.21 484.84 L947.21 485.56 L948.22 486.32 L949.22 487.12 L950.22 487.96 L951.23 488.83 L952.23 489.75 L953.24 490.7 L954.24 491.69 L955.24 492.72 L956.25 493.79 L957.25 494.89 L958.26 496.03 L959.26 497.21 L960.26 498.42 L961.27 499.67 L962.27 500.95 L963.28 502.27 L964.28 503.62 L965.28 505 L966.29 506.41 L967.29 507.86 L968.3 509.34 L969.3 510.84 L970.3 512.38 L971.31 513.95 L972.31 515.55 L973.32 517.17 L974.32 518.82 L975.32 520.5 L976.33 522.21 L977.33 523.94 L978.34 525.69 L979.34 527.47 L980.34 529.28 L981.35 531.1 L982.35 532.95 L983.36 534.82 L984.36 536.71 L985.36 538.62 L986.37 540.54 L987.37 542.49 L988.38 544.45 L989.38 546.43 L990.38 548.43 L991.39 550.44 L992.39 552.47 L993.4 554.51 L994.4 556.56 L995.4 558.62 L996.41 560.69 L997.41 562.78 L998.42 564.87 L999.42 566.97 L1000.42 569.08 L1001.43 571.2 L1002.43 573.32 L1003.44 575.45 L1004.44 577.58 L1005.44 579.72 L1006.45 581.85 L1007.45 583.99 L1008.46 586.13 L1009.46 588.27 L1010.46 590.41 L1011.47 592.55 L1012.47 594.68 L1013.48 596.81 L1014.48 598.94 L1015.48 601.06 L1016.49 603.18 L1017.49 605.29 L1018.5 607.39 L1019.5 609.48 L1020.5 611.56 L1021.51 613.64 L1022.51 615.7 L1023.52 617.75 L1024.52 619.78 L1025.52 621.81 L1026.53 623.82 L1027.53 625.81 L1028.54 627.79 L1029.54 629.75 L1030.54 631.7 L1031.55 633.62 L1032.55 635.53 L1033.56 637.41 L1034.56 639.28 L1035.56 641.13 L1036.57 642.95 L1037.57 644.75 L1038.58 646.53 L1039.58 648.28 L1040.58 650.01 L1041.59 651.71 L1042.59 653.38 L1043.6 655.03 L1044.6 656.65 L1045.6 658.25 L1046.61 659.81 L1047.61 661.35 L1048.62 662.85 L1049.62 664.32 L1050.62 665.77 L1051.63 667.18 L1052.63 668.55 L1053.64 669.9 L1054.64 671.21 L1055.64 672.49 L1056.65 673.73 L1057.65 674.94 L1058.66 676.11 L1059.66 677.24 L1060.66 678.34 L1061.67 679.41 L1062.67 680.43 L1063.68 681.42 L1064.68 682.37 L1065.68 683.28 L1066.69 684.15 L1067.69 684.98 L1068.7 685.78 L1069.7 686.53 L1070.7 687.24 L1071.71 687.91 L1072.71 688.55 L1073.72 689.14 L1074.72 689.69 L1075.72 690.19 L1076.73 690.66 L1077.73 691.08 L1078.74 691.47 L1079.74 691.81 L1080.74 692.1 L1081.75 692.36 L1082.75 692.57 L1083.76 692.74 L1084.76 692.87 L1085.76 692.95 L1086.77 693 L1087.77 692.99 L1088.78 692.95 L1089.78 692.86 L1090.78 692.73 L1091.79 692.56 L1092.79 692.35 L1093.8 692.09 L1094.8 691.79 L1095.8 691.45 L1096.81 691.07 L1097.81 690.64 L1098.82 690.17 L1099.82 689.66 L1100.82 689.11 L1101.83 688.52 L1102.83 687.89 L1103.84 687.21 L1104.84 686.5 L1105.84 685.74 L1106.85 684.95 L1107.85 684.11 L1108.86 683.24 L1109.86 682.33 L1110.86 681.38 L1111.87 680.39 L1112.87 679.36 L1113.88 678.3 L1114.88 677.2 L1115.88 676.06 L1116.89 674.88 L1117.89 673.68 L1118.9 672.43 L1119.9 671.15 L1120.9 669.84 L1121.91 668.49 L1122.91 667.11 L1123.92 665.7 L1124.92 664.26 L1125.92 662.78 L1126.93 661.28 L1127.93 659.74 L1128.94 658.18 L1129.94 656.58 L1130.94 654.96 L1131.95 653.31 L1132.95 651.63 L1133.96 649.93 L1134.96 648.2 L1135.96 646.45 L1136.97 644.67 L1137.97 642.87 L1138.98 641.04 L1139.98 639.2 L1140.98 637.33 L1141.99 635.44 L1142.99 633.54 L1144 631.61 L1145 629.66 L1146 627.7 L1147.01 625.72 L1148.01 623.73 L1149.02 621.72 L1150.02 619.69 L1151.02 617.66 L1152.03 615.61 L1153.03 613.54 L1154.04 611.47 L1155.04 609.39 L1156.04 607.29 L1157.05 605.19 L1158.05 603.08 L1159.06 600.97 L1160.06 598.85 L1161.06 596.72 L1162.07 594.59 L1163.07 592.45 L1164.08 590.32 L1165.08 588.18 L1166.08 586.04 L1167.09 583.9 L1168.09 581.76 L1169.1 579.62 L1170.1 577.49 L1171.1 575.36 L1172.11 573.23 L1173.11 571.11 L1174.12 568.99 L1175.12 566.88 L1176.12 564.78 L1177.13 562.69 L1178.13 560.6 L1179.14 558.53 L1180.14 556.47 L1181.14 554.42 L1182.15 552.38 L1183.15 550.35 L1184.16 548.34 L1185.16 546.35 L1186.16 544.37 L1187.17 542.4 L1188.17 540.46 L1189.18 538.53 L1190.18 536.62 L1191.18 534.73 L1192.19 532.87 L1193.19 531.02 L1194.2 529.2 L1195.2 527.39 L1196.2 525.61 L1197.21 523.86 L1198.21 522.13 L1199.22 520.43 L1200.22 518.75 L1201.22 517.1 L1202.23 515.47 L1203.23 513.88 L1204.24 512.31 L1205.24 510.78 L1206.24 509.27 L1207.25 507.79 L1208.25 506.35 L1209.26 504.94 L1210.26 503.55 L1211.26 502.21 L1212.27 500.89 L1213.27 499.61 L1214.28 498.37 L1215.28 497.16 L1216.28 495.98 L1217.29 494.84 L1218.29 493.74 L1219.3 492.68 L1220.3 491.65 L1221.3 490.66 L1222.31 489.71 L1223.31 488.79 L1224.32 487.92 L1225.32 487.08 L1226.32 486.29 L1227.33 485.53 L1228.33 484.81 L1229.34 484.14 L1230.34 483.5 L1231.34 482.91 L1232.35 482.36 L1233.35 481.85 L1234.36 481.38 L1235.36 480.95 L1236.36 480.56 L1237.37 480.22 L1238.37 479.92 L1239.38 479.66 L1240.38 479.44 L1241.38 479.27 L1242.39 479.14 L1243.39 479.05 L1244.4 479.01 L1245.4 479 L1246.4 479.04 L1247.41 479.13 L1248.41 479.25 L1249.42 479.42 L1250.42 479.63 L1251.42 479.89 L1252.43 480.18 L1253.43 480.52 L1254.44 480.9 L1255.44 481.33 L1256.44 481.79 L1257.45 482.3 L1258.45 482.84 L1259.46 483.43 L1260.46 484.06 L1261.46 484.73 L1262.47 485.45 L1263.47 486.2 L1264.48 486.99 L1265.48 487.82 L1266.48 488.69 L1267.49 489.6 L1268.49 490.55 L1269.5 491.53 L1270.5 492.56 L1271.5 493.62 L1272.51 494.72 L1273.51 495.85 L1274.52 497.02 L1275.52 498.23 L1276.52 499.47 L1277.53 500.74 L1278.53 502.05 L1279.54 503.4 L1280.54 504.78 L1281.54 506.18 L1282.55 507.63 L1283.55 509.1 L1284.56 510.6 L1285.56 512.13 L1286.56 513.7 L1287.57 515.29 L1288.57 516.91 L1289.58 518.56 L1290.58 520.23 L1291.58 521.93 L1292.59 523.66 L1293.59 525.41 L1294.6 527.19 L1295.6 528.99 L1296.6 530.81 L1297.61 532.65 L1298.61 534.52 L1299.62 536.41 L1300.62 538.31 L1301.62 540.24 L1302.63 542.18 L1303.63 544.14 L1304.64 546.12 L1305.64 548.11 L1306.64 550.12 L1307.65 552.14 L1308.65 554.18 L1309.66 556.23 L1310.66 558.29 L1311.66 560.36 L1312.67 562.45 L1313.67 564.54 L1314.68 566.64 L1315.68 568.75 L1316.68 570.86 L1317.69 572.98 L1318.69 575.11 L1319.7 577.24 L1320.7 579.38 L1321.7 581.51 L1322.71 583.65 L1323.71 585.79 L1324.72 587.93 L1325.72 590.07 L1326.72 592.21 L1327.73 594.34 L1328.73 596.48 L1329.74 598.6 L1330.74 600.73 L1331.74 602.84 L1332.75 604.95 L1333.75 607.05 L1334.76 609.15 L1335.76 611.23 L1336.76 613.31 L1337.77 615.37 L1338.77 617.42 L1339.78 619.46 L1340.78 621.49 L1341.78 623.5 L1342.79 625.5 L1343.79 627.48 L1344.8 629.44 L1345.8 631.39 L1346.8 633.32 L1347.81 635.23 L1348.81 637.12 L1349.82 638.99 L1350.82 640.83 L1351.82 642.66 L1352.83 644.46 L1353.83 646.24 L1354.84 648 L1355.84 649.73 L1356.84 651.44 L1357.85 653.12 L1358.85 654.77 L1359.86 656.4 L1360.86 657.99 L1361.86 659.56 L1362.87 661.1 L1363.87 662.61 L1364.88 664.09 L1365.88 665.54 L1366.88 666.95 L1367.89 668.34 L1368.89 669.69 L1369.9 671 L1370.9 672.29 L1371.9 673.53 L1372.91 674.75 L1373.91 675.92 L1374.92 677.07 L1375.92 678.17 L1376.92 679.24 L1377.93 680.27 L1378.93 681.26 L1379.94 682.22 L1380.94 683.14 L1381.94 684.01 L1382.95 684.85 L1383.95 685.65 L1384.96 686.41 L1385.96 687.13 L1386.96 687.81 L1387.97 688.45 L1388.97 689.04 L1389.98 689.6 L1390.98 690.12 L1391.98 690.59 L1392.99 691.02 L1393.99 691.41 L1395 691.75 L1396 692.06 L1397 692.32 L1398.01 692.54 L1399.01 692.72 L1400.02 692.85 L1401.02 692.94 L1402.02 692.99 L1403.03 693 L1404.03 692.96 L1405.04 692.88 L1406.04 692.76 L1407.04 692.59 L1408.05 692.39 L1409.05 692.13 L1410.06 691.84 L1411.06 691.51 L1412.06 691.13 L1413.07 690.71 L1414.07 690.25 L1415.08 689.75 L1416.08 689.2 L1417.08 688.62 L1418.09 687.99 L1419.09 687.32 L1420.1 686.61 L1421.1 685.86 L1422.1 685.08 L1423.11 684.25 L1424.11 683.38 L1425.12 682.48 L1426.12 681.53 L1427.12 680.55 L1428.13 679.53 L1429.13 678.47 L1430.14 677.37 L1431.14 676.24 L1432.14 675.07 L1433.15 673.87 L1434.15 672.63 L1435.16 671.36 L1436.16 670.05 L1437.16 668.71 L1438.17 667.34 L1439.17 665.93 L1440.18 664.49 L1441.18 663.02 L1442.18 661.52 L1443.19 659.99 L1444.19 658.43 L1445.2 656.84 L1446.2 655.22 L1447.2 653.57 L1448.21 651.9 L1449.21 650.2 L1450.22 648.48 L1451.22 646.73 L1452.22 644.95 L1453.23 643.16 L1454.23 641.34 L1455.24 639.49 L1456.24 637.63 L1457.24 635.75 L1458.25 633.84 L1459.25 631.92 L1460.26 629.98 L1461.26 628.02 L1462.26 626.04 L1463.27 624.05 L1464.27 622.04 L1465.28 620.02 L1466.28 617.98 L1467.28 615.93 L1468.29 613.87 L1469.29 611.8 L1470.3 609.72 L1471.3 607.63 L1472.3 605.53 L1473.31 603.42 L1474.31 601.31 L1475.32 599.18 L1476.32 597.06 L1477.32 594.93 L1478.33 592.79 L1479.33 590.66 L1480.34 588.52 L1481.34 586.38 L1482.34 584.24 L1483.35 582.1 L1484.35 579.96 L1485.36 577.83 L1486.36 575.69 L1487.36 573.57 L1488.37 571.44 L1489.37 569.33 L1490.38 567.22 L1491.38 565.11 L1492.38 563.02 L1493.39 560.93 L1494.39 558.86 L1495.4 556.79 L1496.4 554.74 L1497.4 552.7 L1498.41 550.67 L1499.41 548.66 L1500.42 546.66 L1501.42 544.68 L1502.42 542.72 L1503.43 540.77 L1504.43 538.84 L1505.44 536.93 L1506.44 535.03 L1507.44 533.16 L1508.45 531.31 L1509.45 529.48 L1510.46 527.68 L1511.46 525.9 L1512.46 524.14 L1513.47 522.4 L1514.47 520.7 L1515.48 519.01 L1516.48 517.36 L1517.48 515.73 L1518.49 514.13 L1519.49 512.56 L1520.5 511.02 L1521.5 509.51 L1522.5 508.03 L1523.51 506.58 L1524.51 505.16 L1525.52 503.77 L1526.52 502.42 L1527.52 501.1 L1528.53 499.82 L1529.53 498.56 L1530.54 497.35 L1531.54 496.17 L1532.54 495.02 L1533.55 493.91 L1534.55 492.84 L1535.56 491.81 L1536.56 490.81 L1537.56 489.85 L1538.57 488.93 L1539.57 488.05 L1540.58 487.21 L1541.58 486.41 L1542.58 485.65 L1543.59 484.92 L1544.59 484.24 L1545.6 483.6 L1546.6 483 L1547.6 482.44 L1548.61 481.92 L1549.61 481.45 L1550.62 481.01 L1551.62 480.62 L1552.62 480.27 L1553.63 479.96 L1554.63 479.7 L1555.64 479.48 L1556.64 479.3 L1557.64 479.16 L1558.65 479.06 L1559.65 479.01 L1560.66 479 L1561.66 479.04 L1562.66 479.11 L1563.67 479.23 L1564.67 479.39 L1565.68 479.6 L1566.68 479.84 L1567.68 480.13 L1568.69 480.46 L1569.69 480.84 L1570.7 481.26 L1571.7 481.71 L1572.7 482.21 L1573.71 482.75 L1574.71 483.34 L1575.72 483.96 L1576.72 484.62 L1577.72 485.33 L1578.73 486.07 L1579.73 486.86 L1580.74 487.68 L1581.74 488.55 L1582.74 489.45 L1583.75 490.39 L1584.75 491.37 L1585.76 492.39 L1586.76 493.45 L1587.76 494.54 L1588.77 495.67 L1589.77 496.83 L1590.78 498.03 L1591.78 499.27 L1592.78 500.54 L1593.79 501.84 L1594.79 503.18 L1595.8 504.55 L1596.8 505.96 L1597.8 507.39 L1598.81 508.86 L1599.81 510.36 L1600.82 511.89 L1601.82 513.45 L1602.82 515.03 L1603.83 516.65 L1604.83 518.29 L1605.84 519.96 L1606.84 521.66 L1607.84 523.38 L1608.85 525.13 L1609.85 526.9 L1610.86 528.7 L1611.86 530.52 L1612.86 532.36 L1613.87 534.22 L1614.87 536.1 L1615.88 538.01 L1616.88 539.93 L1617.88 541.87 L1618.89 543.83 L1619.89 545.8 L1620.9 547.79 L1621.9 549.8 L1622.9 551.82 L1623.91 553.86 L1624.91 555.9 L1625.92 557.96 L1626.92 560.03 L1627.92 562.11 L1628.93 564.2 L1629.93 566.3 L1630.94 568.41 L1631.94 570.53 L1632.94 572.65 L1633.95 574.77 L1634.95 576.9 L1635.96 579.04 L1636.96 581.17 L1637.96 583.31 L1638.97 585.45 L1639.97 587.59 L1640.98 589.73 L1641.98 591.87 L1642.98 594 L1643.99 596.14 L1644.99 598.26 L1646 600.39 L1647 602.5" stroke="#000" stroke-width="7.3" stroke-linejoin="round"/>
<path d="M141 693 L142 692.98 L143.01 692.91 L144.01 692.81 L145.02 692.66 L146.02 692.47 L147.02 692.23 L148.03 691.95 L149.03 691.63 L150.04 691.27 L151.04 690.87 L152.04 690.42 L153.05 689.93 L154.05 689.4 L155.06 688.83 L156.06 688.22 L157.06 687.57 L158.07 686.87 L159.07 686.14 L160.08 685.37 L161.08 684.55 L162.08 683.7 L163.09 682.81 L164.09 681.88 L165.1 680.91 L166.1 679.9 L167.1 678.86 L168.11 677.77 L169.11 676.66 L170.12 675.5 L171.12 674.31 L172.12 673.08 L173.13 671.82 L174.13 670.53 L175.14 669.2 L176.14 667.84 L177.14 666.44 L178.15 665.02 L179.15 663.56 L180.16 662.07 L181.16 660.55 L182.16 659 L183.17 657.42 L184.17 655.81 L185.18 654.18 L186.18 652.51 L187.18 650.82 L188.19 649.11 L189.19 647.37 L190.2 645.6 L191.2 643.81 L192.2 642 L193.21 640.17 L194.21 638.31 L195.22 636.43 L196.22 634.53 L197.22 632.62 L198.23 630.68 L199.23 628.73 L200.24 626.76 L201.24 624.77 L202.24 622.77 L203.25 620.75 L204.25 618.72 L205.26 616.68 L206.26 614.62 L207.26 612.55 L208.27 610.48 L209.27 608.39 L210.28 606.29 L211.28 604.19 L212.28 602.07 L213.29 599.96 L214.29 597.83 L215.3 595.7 L216.3 593.57 L217.3 591.43 L218.31 589.29 L219.31 587.16 L220.32 585.02 L221.32 582.88 L222.32 580.74 L223.33 578.6 L224.33 576.47 L225.34 574.34 L226.34 572.21 L227.34 570.09 L228.35 567.98 L229.35 565.88 L230.36 563.78 L231.36 561.69 L232.36 559.61 L233.37 557.54 L234.37 555.48 L235.38 553.44 L236.38 551.41 L237.38 549.39 L238.39 547.39 L239.39 545.4 L240.4 543.43 L241.4 541.47 L242.4 539.54 L243.41 537.62 L244.41 535.72 L245.42 533.84 L246.42 531.98 L247.42 530.15 L248.43 528.33 L249.43 526.54 L250.44 524.77 L251.44 523.03 L252.44 521.31 L253.45 519.62 L254.45 517.96 L255.46 516.32 L256.46 514.71 L257.46 513.13 L258.47 511.57 L259.47 510.05 L260.48 508.56 L261.48 507.1 L262.48 505.67 L263.49 504.27 L264.49 502.91 L265.5 501.58 L266.5 500.28 L267.5 499.01 L268.51 497.79 L269.51 496.59 L270.52 495.43 L271.52 494.31 L272.52 493.23 L273.53 492.18 L274.53 491.17 L275.54 490.2 L276.54 489.26 L277.54 488.37 L278.55 487.51 L279.55 486.7 L280.56 485.92 L281.56 485.18 L282.56 484.49 L283.57 483.83 L284.57 483.21 L285.58 482.64 L286.58 482.11 L287.58 481.62 L288.59 481.17 L289.59 480.76 L290.6 480.39 L291.6 480.07 L292.6 479.79 L293.61 479.55 L294.61 479.36 L295.62 479.2 L296.62 479.09 L297.62 479.02 L298.63 479 L299.63 479.02 L300.64 479.08 L301.64 479.18 L302.64 479.33 L303.65 479.52 L304.65 479.75 L305.66 480.02 L306.66 480.34 L307.66 480.7 L308.67 481.1 L309.67 481.54 L310.68 482.03 L311.68 482.55 L312.68 483.12 L313.69 483.73 L314.69 484.38 L315.7 485.07 L316.7 485.8 L317.7 486.57 L318.71 487.38 L319.71 488.23 L320.72 489.12 L321.72 490.05 L322.72 491.01 L323.73 492.02 L324.73 493.06 L325.74 494.14 L326.74 495.25 L327.74 496.41 L328.75 497.59 L329.75 498.82 L330.76 500.07 L331.76 501.37 L332.76 502.69 L333.77 504.05 L334.77 505.44 L335.78 506.87 L336.78 508.33 L337.78 509.81 L338.79 511.33 L339.79 512.88 L340.8 514.45 L341.8 516.06 L342.8 517.69 L343.81 519.35 L344.81 521.04 L345.82 522.76 L346.82 524.49 L347.82 526.26 L348.83 528.04 L349.83 529.85 L350.84 531.69 L351.84 533.54 L352.84 535.42 L353.85 537.31 L354.85 539.23 L355.86 541.16 L356.86 543.11 L357.86 545.08 L358.87 547.07 L359.87 549.07 L360.88 551.09 L361.88 553.12 L362.88 555.16 L363.89 557.21 L364.89 559.28 L365.9 561.36 L366.9 563.44 L367.9 565.54 L368.91 567.65 L369.91 569.76 L370.92 571.88 L371.92 574 L372.92 576.13 L373.93 578.26 L374.93 580.4 L375.94 582.53 L376.94 584.67 L377.94 586.81 L378.95 588.95 L379.95 591.09 L380.96 593.23 L381.96 595.36 L382.96 597.49 L383.97 599.62 L384.97 601.74 L385.98 603.85 L386.98 605.96 L387.98 608.06 L388.99 610.14 L389.99 612.22 L391 614.29 L392 616.35 L393 618.4 L394.01 620.43 L395.01 622.45 L396.02 624.45 L397.02 626.44 L398.02 628.42 L399.03 630.37 L400.03 632.31 L401.04 634.23 L402.04 636.13 L403.04 638.01 L404.05 639.87 L405.05 641.71 L406.06 643.53 L407.06 645.32 L408.06 647.09 L409.07 648.83 L410.07 650.55 L411.08 652.24 L412.08 653.91 L413.08 655.55 L414.09 657.16 L415.09 658.75 L416.1 660.3 L417.1 661.83 L418.1 663.32 L419.11 664.79 L420.11 666.22 L421.12 667.62 L422.12 668.99 L423.12 670.32 L424.13 671.62 L425.13 672.89 L426.14 674.12 L427.14 675.31 L428.14 676.47 L429.15 677.6 L430.15 678.69 L431.16 679.74 L432.16 680.75 L433.16 681.73 L434.17 682.66 L435.17 683.56 L436.18 684.42 L437.18 685.24 L438.18 686.02 L439.19 686.76 L440.19 687.46 L441.2 688.12 L442.2 688.74 L443.2 689.32 L444.21 689.85 L445.21 690.35 L446.22 690.8 L447.22 691.21 L448.22 691.58 L449.23 691.91 L450.23 692.19 L451.24 692.43 L452.24 692.63 L453.24 692.79 L454.25 692.9 L455.25 692.97 L456.26 693 L457.26 692.98 L458.26 692.93 L459.27 692.83 L460.27 692.68 L461.28 692.5 L462.28 692.27 L463.28 692 L464.29 691.69 L465.29 691.33 L466.3 690.93 L467.3 690.49 L468.3 690.01 L469.31 689.49 L470.31 688.93 L471.32 688.32 L472.32 687.67 L473.32 686.99 L474.33 686.26 L475.33 685.49 L476.34 684.69 L477.34 683.84 L478.34 682.95 L479.35 682.03 L480.35 681.07 L481.36 680.06 L482.36 679.03 L483.36 677.95 L484.37 676.84 L485.37 675.69 L486.38 674.5 L487.38 673.28 L488.38 672.03 L489.39 670.74 L490.39 669.41 L491.4 668.06 L492.4 666.67 L493.4 665.25 L494.41 663.79 L495.41 662.31 L496.42 660.79 L497.42 659.25 L498.42 657.67 L499.43 656.07 L500.43 654.44 L501.44 652.78 L502.44 651.09 L503.44 649.38 L504.45 647.65 L505.45 645.88 L506.46 644.1 L507.46 642.29 L508.46 640.46 L509.47 638.61 L510.47 636.73 L511.48 634.84 L512.48 632.92 L513.48 630.99 L514.49 629.04 L515.49 627.07 L516.5 625.09 L517.5 623.09 L518.5 621.08 L519.51 619.05 L520.51 617 L521.52 614.95 L522.52 612.88 L523.52 610.81 L524.53 608.72 L525.53 606.63 L526.54 604.52 L527.54 602.41 L528.54 600.29 L529.55 598.17 L530.55 596.04 L531.56 593.91 L532.56 591.77 L533.56 589.64 L534.57 587.5 L535.57 585.36 L536.58 583.22 L537.58 581.08 L538.58 578.94 L539.59 576.81 L540.59 574.68 L541.6 572.55 L542.6 570.43 L543.6 568.32 L544.61 566.21 L545.61 564.11 L546.62 562.02 L547.62 559.94 L548.62 557.87 L549.63 555.81 L550.63 553.76 L551.64 551.73 L552.64 549.71 L553.64 547.7 L554.65 545.71 L555.65 543.74 L556.66 541.78 L557.66 539.84 L558.66 537.92 L559.67 536.02 L560.67 534.14 L561.68 532.28 L562.68 530.44 L563.68 528.62 L564.69 526.82 L565.69 525.05 L566.7 523.31 L567.7 521.58 L568.7 519.89 L569.71 518.22 L570.71 516.58 L571.72 514.96 L572.72 513.38 L573.72 511.82 L574.73 510.29 L575.73 508.8 L576.74 507.33 L577.74 505.89 L578.74 504.49 L579.75 503.12 L580.75 501.79 L581.76 500.48 L582.76 499.21 L583.76 497.98 L584.77 496.78 L585.77 495.62 L586.78 494.49 L587.78 493.4 L588.78 492.34 L589.79 491.33 L590.79 490.35 L591.8 489.41 L592.8 488.51 L593.8 487.65 L594.81 486.82 L595.81 486.04 L596.82 485.3 L597.82 484.59 L598.82 483.93 L599.83 483.31 L600.83 482.73 L601.84 482.19 L602.84 481.69 L603.84 481.24 L604.85 480.82 L605.85 480.45 L606.86 480.12 L607.86 479.83 L608.86 479.59 L609.87 479.38 L610.87 479.22 L611.88 479.11 L612.88 479.03 L613.88 479 L614.89 479.01 L615.89 479.07 L616.9 479.16 L617.9 479.3 L618.9 479.48 L619.91 479.71 L620.91 479.98 L621.92 480.29 L622.92 480.64 L623.92 481.03 L624.93 481.47 L625.93 481.95 L626.94 482.47 L627.94 483.03 L628.94 483.63 L629.95 484.27 L630.95 484.96 L631.96 485.68 L632.96 486.44 L633.96 487.25 L634.97 488.09 L635.97 488.97 L636.98 489.9 L637.98 490.86 L638.98 491.85 L639.99 492.89 L640.99 493.96 L642 495.07 L643 496.22 L644 497.4 L645.01 498.62 L646.01 499.87 L647.02 501.16 L648.02 502.48 L649.02 503.83 L650.03 505.22 L651.03 506.64 L652.04 508.09 L653.04 509.57 L654.04 511.09 L655.05 512.63 L656.05 514.2 L657.06 515.8 L658.06 517.43 L659.06 519.09 L660.07 520.77 L661.07 522.48 L662.08 524.22 L663.08 525.97 L664.08 527.76 L665.09 529.56 L666.09 531.39 L667.1 533.25 L668.1 535.12 L669.1 537.01 L670.11 538.92 L671.11 540.85 L672.12 542.8 L673.12 544.77 L674.12 546.75 L675.13 548.75 L676.13 550.76 L677.14 552.79 L678.14 554.83 L679.14 556.89 L680.15 558.95 L681.15 561.03 L682.16 563.11 L683.16 565.21 L684.16 567.31 L685.17 569.42 L686.17 571.54 L687.18 573.66 L688.18 575.79 L689.18 577.92 L690.19 580.06 L691.19 582.19 L692.2 584.33 L693.2 586.47 L694.2 588.61 L695.21 590.75 L696.21 592.89 L697.22 595.02 L698.22 597.15 L699.22 599.28 L700.23 601.4 L701.23 603.51 L702.24 605.62 L703.24 607.72 L704.24 609.81 L705.25 611.89 L706.25 613.96 L707.26 616.02 L708.26 618.07 L709.26 620.11 L710.27 622.13 L711.27 624.14 L712.28 626.13 L713.28 628.1 L714.28 630.06 L715.29 632 L716.29 633.93 L717.3 635.83 L718.3 637.71 L719.3 639.58 L720.31 641.42 L721.31 643.24 L722.32 645.03 L723.32 646.81 L724.32 648.56 L725.33 650.28 L726.33 651.98 L727.34 653.65 L728.34 655.29 L729.34 656.91 L730.35 658.5 L731.35 660.06 L732.36 661.59 L733.36 663.09 L734.36 664.55 L735.37 665.99 L736.37 667.4 L737.38 668.77 L738.38 670.11 L739.38 671.42 L740.39 672.69 L741.39 673.92 L742.4 675.13 L743.4 676.29 L744.4 677.42 L745.41 678.52 L746.41 679.57 L747.42 680.59 L748.42 681.57 L749.42 682.52 L750.43 683.42 L751.43 684.29 L752.44 685.11 L753.44 685.9 L754.44 686.65 L755.45 687.35 L756.45 688.02 L757.46 688.64 L758.46 689.23 L759.46 689.77 L760.47 690.27 L761.47 690.73 L762.48 691.15 L763.48 691.52 L764.48 691.86 L765.49 692.15 L766.49 692.4 L767.5 692.6 L768.5 692.76 L769.5 692.88 L770.51 692.96 L771.51 693 L772.52 692.99 L773.52 692.94 L774.52 692.85 L775.53 692.71 L776.53 692.53 L777.54 692.31 L778.54 692.05 L779.54 691.74 L780.55 691.39 L781.55 691 L782.56 690.57 L783.56 690.09 L784.56 689.58 L785.57 689.02 L786.57 688.42 L787.58 687.78 L788.58 687.1 L789.58 686.38 L790.59 685.62 L791.59 684.82 L792.6 683.98 L793.6 683.1 L794.6 682.18 L795.61 681.22 L796.61 680.23 L797.62 679.19 L798.62 678.12 L799.62 677.02 L800.63 675.87 L801.63 674.69 L802.64 673.48 L803.64 672.23 L804.64 670.95 L805.65 669.63 L806.65 668.28 L807.66 666.89 L808.66 665.47 L809.66 664.03 L810.67 662.55 L811.67 661.04 L812.68 659.49 L813.68 657.92 L814.68 656.33 L815.69 654.7 L816.69 653.04 L817.7 651.36 L818.7 649.66 L819.7 647.92 L820.71 646.17 L821.71 644.38 L822.72 642.58 L823.72 640.75 L824.72 638.9 L825.73 637.03 L826.73 635.14 L827.74 633.23 L828.74 631.3 L829.74 629.35 L830.75 627.39 L831.75 625.41 L832.76 623.41 L833.76 621.4 L834.76 619.37 L835.77 617.33 L836.77 615.28 L837.78 613.21 L838.78 611.14 L839.78 609.05 L840.79 606.96 L841.79 604.86 L842.8 602.75 L843.8 600.63 L844.8 598.51 L845.81 596.38 L846.81 594.25 L847.82 592.11 L848.82 589.98 L849.82 587.84 L850.83 585.7 L851.83 583.56 L852.84 581.42 L853.84 579.28 L854.84 577.15 L855.85 575.02 L856.85 572.89 L857.86 570.77 L858.86 568.65 L859.86 566.55 L860.87 564.45 L861.87 562.35 L862.88 560.27 L863.88 558.2 L864.88 556.14 L865.89 554.09 L866.89 552.05 L867.9 550.03 L868.9 548.02 L869.9 546.03 L870.91 544.05 L871.91 542.09 L872.92 540.15 L873.92 538.23 L874.92 536.32 L875.93 534.44 L876.93 532.57 L877.94 530.73 L878.94 528.91 L879.94 527.11 L880.95 525.33 L881.95 523.58 L882.96 521.86 L883.96 520.16 L884.96 518.48 L885.97 516.84 L886.97 515.22 L887.98 513.63 L888.98 512.07 L889.98 510.53 L890.99 509.03 L891.99 507.56 L893 506.12 L894 504.71 L895 503.34 L896.01 502 L897.01 500.69 L898.02 499.41 L899.02 498.17 L900.02 496.97 L901.03 495.8 L902.03 494.67 L903.04 493.57 L904.04 492.51 L905.04 491.49 L906.05 490.5 L907.05 489.56 L908.06 488.65 L909.06 487.78 L910.06 486.95 L911.07 486.16 L912.07 485.41 L913.08 484.7 L914.08 484.03 L915.08 483.41 L916.09 482.82 L917.09 482.27 L918.1 481.77 L919.1 481.31 L920.1 480.88 L921.11 480.51 L922.11 480.17 L923.12 479.87 L924.12 479.62 L925.12 479.41 L926.13 479.25 L927.13 479.12 L928.14 479.04 L929.14 479 L930.14 479.01 L931.15 479.05 L932.15 479.14 L933.16 479.28 L934.16 479.45 L935.16 479.67 L936.17 479.93 L937.17 480.23 L938.18 480.58 L939.18 480.97 L940.18 481.4 L941.19 481.87 L942.19 482.38 L943.2 482.93 L944.2 483.53 L945.2 484.17 L946.21 484.84 L947.21 485.56 L948.22 486.32 L949.22 487.12 L950.22 487.96 L951.23 488.83 L952.23 489.75 L953.24 490.7 L954.24 491.69 L955.24 492.72 L956.25 493.79 L957.25 494.89 L958.26 496.03 L959.26 497.21 L960.26 498.42 L961.27 499.67 L962.27 500.95 L963.28 502.27 L964.28 503.62 L965.28 505 L966.29 506.41 L967.29 507.86 L968.3 509.34 L969.3 510.84 L970.3 512.38 L971.31 513.95 L972.31 515.55 L973.32 517.17 L974.32 518.82 L975.32 520.5 L976.33 522.21 L977.33 523.94 L978.34 525.69 L979.34 527.47 L980.34 529.28 L981.35 531.1 L982.35 532.95 L983.36 534.82 L984.36 536.71 L985.36 538.62 L986.37 540.54 L987.37 542.49 L988.38 544.45 L989.38 546.43 L990.38 548.43 L991.39 550.44 L992.39 552.47 L993.4 554.51 L994.4 556.56 L995.4 558.62 L996.41 560.69 L997.41 562.78 L998.42 564.87 L999.42 566.97 L1000.42 569.08 L1001.43 571.2 L1002.43 573.32 L1003.44 575.45 L1004.44 577.58 L1005.44 579.72 L1006.45 581.85 L1007.45 583.99 L1008.46 586.13 L1009.46 588.27 L1010.46 590.41 L1011.47 592.55 L1012.47 594.68 L1013.48 596.81 L1014.48 598.94 L1015.48 601.06 L1016.49 603.18 L1017.49 605.29 L1018.5 607.39 L1019.5 609.48 L1020.5 611.56 L1021.51 613.64 L1022.51 615.7 L1023.52 617.75 L1024.52 619.78 L1025.52 621.81 L1026.53 623.82 L1027.53 625.81 L1028.54 627.79 L1029.54 629.75 L1030.54 631.7 L1031.55 633.62 L1032.55 635.53 L1033.56 637.41 L1034.56 639.28 L1035.56 641.13 L1036.57 642.95 L1037.57 644.75 L1038.58 646.53 L1039.58 648.28 L1040.58 650.01 L1041.59 651.71 L1042.59 653.38 L1043.6 655.03 L1044.6 656.65 L1045.6 658.25 L1046.61 659.81 L1047.61 661.35 L1048.62 662.85 L1049.62 664.32 L1050.62 665.77 L1051.63 667.18 L1052.63 668.55 L1053.64 669.9 L1054.64 671.21 L1055.64 672.49 L1056.65 673.73 L1057.65 674.94 L1058.66 676.11 L1059.66 677.24 L1060.66 678.34 L1061.67 679.41 L1062.67 680.43 L1063.68 681.42 L1064.68 682.37 L1065.68 683.28 L1066.69 684.15 L1067.69 684.98 L1068.7 685.78 L1069.7 686.53 L1070.7 687.24 L1071.71 687.91 L1072.71 688.55 L1073.72 689.14 L1074.72 689.69 L1075.72 690.19 L1076.73 690.66 L1077.73 691.08 L1078.74 691.47 L1079.74 691.81 L1080.74 692.1 L1081.75 692.36 L1082.75 692.57 L1083.76 692.74 L1084.76 692.87 L1085.76 692.95 L1086.77 693 L1087.77 692.99 L1088.78 692.95 L1089.78 692.86 L1090.78 692.73 L1091.79 692.56 L1092.79 692.35 L1093.8 692.09 L1094.8 691.79 L1095.8 691.45 L1096.81 691.07 L1097.81 690.64 L1098.82 690.17 L1099.82 689.66 L1100.82 689.11 L1101.83 688.52 L1102.83 687.89 L1103.84 687.21 L1104.84 686.5 L1105.84 685.74 L1106.85 684.95 L1107.85 684.11 L1108.86 683.24 L1109.86 682.33 L1110.86 681.38 L1111.87 680.39 L1112.87 679.36 L1113.88 678.3 L1114.88 677.2 L1115.88 676.06 L1116.89 674.88 L1117.89 673.68 L1118.9 672.43 L1119.9 671.15 L1120.9 669.84 L1121.91 668.49 L1122.91 667.11 L1123.92 665.7 L1124.92 664.26 L1125.92 662.78 L1126.93 661.28 L1127.93 659.74 L1128.94 658.18 L1129.94 656.58 L1130.94 654.96 L1131.95 653.31 L1132.95 651.63 L1133.96 649.93 L1134.96 648.2 L1135.96 646.45 L1136.97 644.67 L1137.97 642.87 L1138.98 641.04 L1139.98 639.2 L1140.98 637.33 L1141.99 635.44 L1142.99 633.54 L1144 631.61 L1145 629.66 L1146 627.7 L1147.01 625.72 L1148.01 623.73 L1149.02 621.72 L1150.02 619.69 L1151.02 617.66 L1152.03 615.61 L1153.03 613.54 L1154.04 611.47 L1155.04 609.39 L1156.04 607.29 L1157.05 605.19 L1158.05 603.08 L1159.06 600.97 L1160.06 598.85 L1161.06 596.72 L1162.07 594.59 L1163.07 592.45 L1164.08 590.32 L1165.08 588.18 L1166.08 586.04 L1167.09 583.9 L1168.09 581.76 L1169.1 579.62 L1170.1 577.49 L1171.1 575.36 L1172.11 573.23 L1173.11 571.11 L1174.12 568.99 L1175.12 566.88 L1176.12 564.78 L1177.13 562.69 L1178.13 560.6 L1179.14 558.53 L1180.14 556.47 L1181.14 554.42 L1182.15 552.38 L1183.15 550.35 L1184.16 548.34 L1185.16 546.35 L1186.16 544.37 L1187.17 542.4 L1188.17 540.46 L1189.18 538.53 L1190.18 536.62 L1191.18 534.73 L1192.19 532.87 L1193.19 531.02 L1194.2 529.2 L1195.2 527.39 L1196.2 525.61 L1197.21 523.86 L1198.21 522.13 L1199.22 520.43 L1200.22 518.75 L1201.22 517.1 L1202.23 515.47 L1203.23 513.88 L1204.24 512.31 L1205.24 510.78 L1206.24 509.27 L1207.25 507.79 L1208.25 506.35 L1209.26 504.94 L1210.26 503.55 L1211.26 502.21 L1212.27 500.89 L1213.27 499.61 L1214.28 498.37 L1215.28 497.16 L1216.28 495.98 L1217.29 494.84 L1218.29 493.74 L1219.3 492.68 L1220.3 491.65 L1221.3 490.66 L1222.31 489.71 L1223.31 488.79 L1224.32 487.92 L1225.32 487.08 L1226.32 486.29 L1227.33 485.53 L1228.33 484.81 L1229.34 484.14 L1230.34 483.5 L1231.34 482.91 L1232.35 482.36 L1233.35 481.85 L1234.36 481.38 L1235.36 480.95 L1236.36 480.56 L1237.37 480.22 L1238.37 479.92 L1239.38 479.66 L1240.38 479.44 L1241.38 479.27 L1242.39 479.14 L1243.39 479.05 L1244.4 479.01 L1245.4 479 L1246.4 479.04 L1247.41 479.13 L1248.41 479.25 L1249.42 479.42 L1250.42 479.63 L1251.42 479.89 L1252.43 480.18 L1253.43 480.52 L1254.44 480.9 L1255.44 481.33 L1256.44 481.79 L1257.45 482.3 L1258.45 482.84 L1259.46 483.43 L1260.46 484.06 L1261.46 484.73 L1262.47 485.45 L1263.47 486.2 L1264.48 486.99 L1265.48 487.82 L1266.48 488.69 L1267.49 489.6 L1268.49 490.55 L1269.5 491.53 L1270.5 492.56 L1271.5 493.62 L1272.51 494.72 L1273.51 495.85 L1274.52 497.02 L1275.52 498.23 L1276.52 499.47 L1277.53 500.74 L1278.53 502.05 L1279.54 503.4 L1280.54 504.78 L1281.54 506.18 L1282.55 507.63 L1283.55 509.1 L1284.56 510.6 L1285.56 512.13 L1286.56 513.7 L1287.57 515.29 L1288.57 516.91 L1289.58 518.56 L1290.58 520.23 L1291.58 521.93 L1292.59 523.66 L1293.59 525.41 L1294.6 527.19 L1295.6 528.99 L1296.6 530.81 L1297.61 532.65 L1298.61 534.52 L1299.62 536.41 L1300.62 538.31 L1301.62 540.24 L1302.63 542.18 L1303.63 544.14 L1304.64 546.12 L1305.64 548.11 L1306.64 550.12 L1307.65 552.14 L1308.65 554.18 L1309.66 556.23 L1310.66 558.29 L1311.66 560.36 L1312.67 562.45 L1313.67 564.54 L1314.68 566.64 L1315.68 568.75 L1316.68 570.86 L1317.69 572.98 L1318.69 575.11 L1319.7 577.24 L1320.7 579.38 L1321.7 581.51 L1322.71 583.65 L1323.71 585.79 L1324.72 587.93 L1325.72 590.07 L1326.72 592.21 L1327.73 594.34 L1328.73 596.48 L1329.74 598.6 L1330.74 600.73 L1331.74 602.84 L1332.75 604.95 L1333.75 607.05 L1334.76 609.15 L1335.76 611.23 L1336.76 613.31 L1337.77 615.37 L1338.77 617.42 L1339.78 619.46 L1340.78 621.49 L1341.78 623.5 L1342.79 625.5 L1343.79 627.48 L1344.8 629.44 L1345.8 631.39 L1346.8 633.32 L1347.81 635.23 L1348.81 637.12 L1349.82 638.99 L1350.82 640.83 L1351.82 642.66 L1352.83 644.46 L1353.83 646.24 L1354.84 648 L1355.84 649.73 L1356.84 651.44 L1357.85 653.12 L1358.85 654.77 L1359.86 656.4 L1360.86 657.99 L1361.86 659.56 L1362.87 661.1 L1363.87 662.61 L1364.88 664.09 L1365.88 665.54 L1366.88 666.95 L1367.89 668.34 L1368.89 669.69 L1369.9 671 L1370.9 672.29 L1371.9 673.53 L1372.91 674.75 L1373.91 675.92 L1374.92 677.07 L1375.92 678.17 L1376.92 679.24 L1377.93 680.27 L1378.93 681.26 L1379.94 682.22 L1380.94 683.14 L1381.94 684.01 L1382.95 684.85 L1383.95 685.65 L1384.96 686.41 L1385.96 687.13 L1386.96 687.81 L1387.97 688.45 L1388.97 689.04 L1389.98 689.6 L1390.98 690.12 L1391.98 690.59 L1392.99 691.02 L1393.99 691.41 L1395 691.75 L1396 692.06 L1397 692.32 L1398.01 692.54 L1399.01 692.72 L1400.02 692.85 L1401.02 692.94 L1402.02 692.99 L1403.03 693 L1404.03 692.96 L1405.04 692.88 L1406.04 692.76 L1407.04 692.59 L1408.05 692.39 L1409.05 692.13 L1410.06 691.84 L1411.06 691.51 L1412.06 691.13 L1413.07 690.71 L1414.07 690.25 L1415.08 689.75 L1416.08 689.2 L1417.08 688.62 L1418.09 687.99 L1419.09 687.32 L1420.1 686.61 L1421.1 685.86 L1422.1 685.08 L1423.11 684.25 L1424.11 683.38 L1425.12 682.48 L1426.12 681.53 L1427.12 680.55 L1428.13 679.53 L1429.13 678.47 L1430.14 677.37 L1431.14 676.24 L1432.14 675.07 L1433.15 673.87 L1434.15 672.63 L1435.16 671.36 L1436.16 670.05 L1437.16 668.71 L1438.17 667.34 L1439.17 665.93 L1440.18 664.49 L1441.18 663.02 L1442.18 661.52 L1443.19 659.99 L1444.19 658.43 L1445.2 656.84 L1446.2 655.22 L1447.2 653.57 L1448.21 651.9 L1449.21 650.2 L1450.22 648.48 L1451.22 646.73 L1452.22 644.95 L1453.23 643.16 L1454.23 641.34 L1455.24 639.49 L1456.24 637.63 L1457.24 635.75 L1458.25 633.84 L1459.25 631.92 L1460.26 629.98 L1461.26 628.02 L1462.26 626.04 L1463.27 624.05 L1464.27 622.04 L1465.28 620.02 L1466.28 617.98 L1467.28 615.93 L1468.29 613.87 L1469.29 611.8 L1470.3 609.72 L1471.3 607.63 L1472.3 605.53 L1473.31 603.42 L1474.31 601.31 L1475.32 599.18 L1476.32 597.06 L1477.32 594.93 L1478.33 592.79 L1479.33 590.66 L1480.34 588.52 L1481.34 586.38 L1482.34 584.24 L1483.35 582.1 L1484.35 579.96 L1485.36 577.83 L1486.36 575.69 L1487.36 573.57 L1488.37 571.44 L1489.37 569.33 L1490.38 567.22 L1491.38 565.11 L1492.38 563.02 L1493.39 560.93 L1494.39 558.86 L1495.4 556.79 L1496.4 554.74 L1497.4 552.7 L1498.41 550.67 L1499.41 548.66 L1500.42 546.66 L1501.42 544.68 L1502.42 542.72 L1503.43 540.77 L1504.43 538.84 L1505.44 536.93 L1506.44 535.03 L1507.44 533.16 L1508.45 531.31 L1509.45 529.48 L1510.46 527.68 L1511.46 525.9 L1512.46 524.14 L1513.47 522.4 L1514.47 520.7 L1515.48 519.01 L1516.48 517.36 L1517.48 515.73 L1518.49 514.13 L1519.49 512.56 L1520.5 511.02 L1521.5 509.51 L1522.5 508.03 L1523.51 506.58 L1524.51 505.16 L1525.52 503.77 L1526.52 502.42 L1527.52 501.1 L1528.53 499.82 L1529.53 498.56 L1530.54 497.35 L1531.54 496.17 L1532.54 495.02 L1533.55 493.91 L1534.55 492.84 L1535.56 491.81 L1536.56 490.81 L1537.56 489.85 L1538.57 488.93 L1539.57 488.05 L1540.58 487.21 L1541.58 486.41 L1542.58 485.65 L1543.59 484.92 L1544.59 484.24 L1545.6 483.6 L1546.6 483 L1547.6 482.44 L1548.61 481.92 L1549.61 481.45 L1550.62 481.01 L1551.62 480.62 L1552.62 480.27 L1553.63 479.96 L1554.63 479.7 L1555.64 479.48 L1556.64 479.3 L1557.64 479.16 L1558.65 479.06 L1559.65 479.01 L1560.66 479 L1561.66 479.04 L1562.66 479.11 L1563.67 479.23 L1564.67 479.39 L1565.68 479.6 L1566.68 479.84 L1567.68 480.13 L1568.69 480.46 L1569.69 480.84 L1570.7 481.26 L1571.7 481.71 L1572.7 482.21 L1573.71 482.75 L1574.71 483.34 L1575.72 483.96 L1576.72 484.62 L1577.72 485.33 L1578.73 486.07 L1579.73 486.86 L1580.74 487.68 L1581.74 488.55 L1582.74 489.45 L1583.75 490.39 L1584.75 491.37 L1585.76 492.39 L1586.76 493.45 L1587.76 494.54 L1588.77 495.67 L1589.77 496.83 L1590.78 498.03 L1591.78 499.27 L1592.78 500.54 L1593.79 501.84 L1594.79 503.18 L1595.8 504.55 L1596.8 505.96 L1597.8 507.39 L1598.81 508.86 L1599.81 510.36 L1600.82 511.89 L1601.82 513.45 L1602.82 515.03 L1603.83 516.65 L1604.83 518.29 L1605.84 519.96 L1606.84 521.66 L1607.84 523.38 L1608.85 525.13 L1609.85 526.9 L1610.86 528.7 L1611.86 530.52 L1612.86 532.36 L1613.87 534.22 L1614.87 536.1 L1615.88 538.01 L1616.88 539.93 L1617.88 541.87 L1618.89 543.83 L1619.89 545.8 L1620.9 547.79 L1621.9 549.8 L1622.9 551.82 L1623.91 553.86 L1624.91 555.9 L1625.92 557.96 L1626.92 560.03 L1627.92 562.11 L1628.93 564.2 L1629.93 566.3 L1630.94 568.41 L1631.94 570.53 L1632.94 572.65 L1633.95 574.77 L1634.95 576.9 L1635.96 579.04 L1636.96 581.17 L1637.96 583.31 L1638.97 585.45 L1639.97 587.59 L1640.98 589.73 L1641.98 591.87 L1642.98 594 L1643.99 596.14 L1644.99 598.26 L1646 600.39 L1647 602.5" stroke="#f00" stroke-width="7.3" stroke-dasharray="38 8.4 6.8 8.8"/>
</g>
<g fill="#000" shape-rendering="crispEdges">
<rect x="139" y="465" width="4" height="263"/>
<rect x="1645" y="465" width="4" height="263"/>
<rect x="139" y="465" width="1510" height="4"/>
<rect x="139" y="724" width="1510" height="4"/>
<rect x="139" y="726" width="4" height="14"/>
<rect x="390" y="726" width="4" height="14"/>
<rect x="641" y="726" width="4" height="14"/>
<rect x="892" y="726" width="4" height="14"/>
<rect x="1143" y="726" width="4" height="14"/>
<rect x="1394" y="726" width="4" height="14"/>
<rect x="1645" y="726" width="4" height="14"/>
<rect x="127" y="477" width="14" height="4"/>
<rect x="127" y="584" width="14" height="4"/>
<rect x="127" y="691" width="14" height="4"/>
</g>
<g font-family='"DejaVu Sans","Liberation Sans",sans-serif' font-size="58.33" fill="#000" stroke="#000" stroke-width="1" stroke-linejoin="round" filter="url(#al)">
<text x="141" y="797.6" text-anchor="middle">0</text>
<text x="392" y="797.6" text-anchor="middle">5</text>
<text x="643" y="797.6" text-anchor="middle">10</text>
<text x="894" y="797.6" text-anchor="middle">15</text>
<text x="1145" y="797.6" text-anchor="middle">20</text>
<text x="1396" y="797.6" text-anchor="middle">25</text>
<text x="1647" y="797.6" text-anchor="middle">30</text>
<text x="113.2" y="501.3" text-anchor="end">1</text>
<text x="113.2" y="608.3" text-anchor="end">0</text>
<text x="113.2" y="715.3" text-anchor="end">−1</text>
<text x="894" y="869.7" text-anchor="middle" letter-spacing="0">(b) HOSMD</text>
</g>
<path d="M1312.3 496.5 L1607.2 496.5 Q1618.0 496.5 1618.0 507.3 L1618.0 680.7 Q1618.0 691.5 1607.2 691.5 L1312.3 691.5 Q1301.5 691.5 1301.5 680.7 L1301.5 507.3 Q1301.5 496.5 1312.3 496.5 Z" fill="#fff" stroke="#ccc" stroke-width="4.6" shape-rendering="crispEdges"/>
<rect x="1322" y="546" width="124" height="7" fill="#000" shape-rendering="crispEdges"/>
<g fill="#f00" shape-rendering="crispEdges">
<rect x="1325" y="632" width="38" height="7"/>
<rect x="1371" y="632" width="7" height="7"/>
<rect x="1387" y="632" width="38" height="7"/>
<rect x="1434" y="632" width="6" height="7"/>
</g>
<g font-family='"DejaVu Sans","Liberation Sans",sans-serif' font-size="58.33" fill="#000" stroke="#000" stroke-width="1" stroke-linejoin="round" filter="url(#al)">
<text y="567.4"><tspan x="1489.2" font-style="oblique">a</tspan><tspan x="1525.4">(</tspan><tspan x="1548" font-style="oblique">t</tspan><tspan x="1570.8">)</tspan></text>
<text transform="translate(1512.1 570) scale(1 1.23)" x="0" y="0" text-anchor="middle">˙</text>
<text x="1489" y="652.5" font-style="oblique">z</text>
<text x="1519.9" y="661.9" font-size="40.83">1</text>
</g>
</g>
<g id="ax2">
<g fill="#b0b0b0" shape-rendering="crispEdges">
<rect x="139" y="895" width="4" height="259"/>
<rect x="390" y="895" width="4" height="259"/>
<rect x="641" y="895" width="4" height="259"/>
<rect x="892" y="895" width="4" height="259"/>
<rect x="1143" y="895" width="4" height="259"/>
<rect x="1394" y="895" width="4" height="259"/>
<rect x="1645" y="895" width="4" height="259"/>
<rect x="141.0" y="905" width="1506.0" height="4"/>
<rect x="141.0" y="1004" width="1506.0" height="4"/>
<rect x="141.0" y="1103" width="1506.0" height="5"/>
</g>
<g clip-path="url(#c2)" fill="none" shape-rendering="crispEdges">
<path d="M141 1006 L142 1065.55 L143.26 1142.47 L144.51 1125.1 L146.02 1098.3 L148.03 1101.28 L151.04 1102.77 L153.05 1102.41 L154.05 1101.91 L155.06 1101.38 L156.06 1100.82 L157.06 1100.21 L158.07 1099.57 L159.07 1098.89 L160.08 1098.17 L161.08 1097.42 L162.08 1096.62 L163.09 1095.8 L164.09 1094.93 L165.1 1094.03 L166.1 1093.1 L167.1 1092.13 L168.11 1091.13 L169.11 1090.09 L170.12 1089.02 L171.12 1087.91 L172.12 1086.78 L173.13 1085.61 L174.13 1084.41 L175.14 1083.17 L176.14 1081.91 L177.14 1080.62 L178.15 1079.29 L179.15 1077.94 L180.16 1076.56 L181.16 1075.15 L182.16 1073.71 L183.17 1072.25 L184.17 1070.75 L185.18 1069.24 L186.18 1067.69 L187.18 1066.13 L188.19 1064.54 L189.19 1062.92 L190.2 1061.28 L191.2 1059.63 L192.2 1057.94 L193.21 1056.24 L194.21 1054.52 L195.22 1052.78 L196.22 1051.02 L197.22 1049.24 L198.23 1047.45 L199.23 1045.63 L200.24 1043.81 L201.24 1041.96 L202.24 1040.11 L203.25 1038.24 L204.25 1036.35 L205.26 1034.46 L206.26 1032.55 L207.26 1030.63 L208.27 1028.7 L209.27 1026.77 L210.28 1024.82 L211.28 1022.87 L212.28 1020.91 L213.29 1018.94 L214.29 1016.97 L215.3 1015 L216.3 1013.02 L217.3 1011.04 L218.31 1009.06 L219.31 1007.07 L220.32 1005.09 L221.32 1003.1 L222.32 1001.12 L223.33 999.14 L224.33 997.16 L225.34 995.18 L226.34 993.21 L227.34 991.25 L228.35 989.29 L229.35 987.33 L230.36 985.39 L231.36 983.45 L232.36 981.52 L233.37 979.6 L234.37 977.69 L235.38 975.8 L236.38 973.91 L237.38 972.04 L238.39 970.18 L239.39 968.34 L240.4 966.51 L241.4 964.7 L242.4 962.9 L243.41 961.12 L244.41 959.36 L245.42 957.62 L246.42 955.89 L247.42 954.19 L248.43 952.51 L249.43 950.85 L250.44 949.21 L251.44 947.59 L252.44 946 L253.45 944.43 L254.45 942.88 L255.46 941.37 L256.46 939.87 L257.46 938.41 L258.47 936.97 L259.47 935.55 L260.48 934.17 L261.48 932.81 L262.48 931.49 L263.49 930.19 L264.49 928.93 L265.5 927.69 L266.5 926.49 L267.5 925.31 L268.51 924.17 L269.51 923.07 L270.52 921.99 L271.52 920.95 L272.52 919.95 L273.53 918.98 L274.53 918.04 L275.54 917.14 L276.54 916.27 L277.54 915.44 L278.55 914.65 L279.55 913.89 L280.56 913.17 L281.56 912.48 L282.56 911.84 L283.57 911.23 L284.57 910.66 L285.58 910.13 L286.58 909.63 L287.58 909.18 L288.59 908.76 L289.59 908.38 L290.6 908.04 L291.6 907.74 L292.6 907.48 L293.61 907.26 L294.61 907.08 L295.62 906.94 L296.62 906.84 L297.62 906.77 L298.63 906.75 L299.63 906.77 L300.64 906.82 L301.64 906.92 L302.64 907.05 L303.65 907.23 L304.65 907.44 L305.66 907.7 L306.66 907.99 L307.66 908.33 L308.67 908.7 L309.67 909.11 L310.68 909.56 L311.68 910.05 L312.68 910.57 L313.69 911.14 L314.69 911.74 L315.7 912.38 L316.7 913.06 L317.7 913.77 L318.71 914.52 L319.71 915.31 L320.72 916.14 L321.72 917 L322.72 917.89 L323.73 918.82 L324.73 919.79 L325.74 920.79 L326.74 921.83 L327.74 922.89 L328.75 924 L329.75 925.13 L330.76 926.3 L331.76 927.5 L332.76 928.73 L333.77 929.99 L334.77 931.28 L335.78 932.6 L336.78 933.95 L337.78 935.33 L338.79 936.74 L339.79 938.17 L340.8 939.64 L341.8 941.13 L342.8 942.64 L343.81 944.18 L344.81 945.75 L345.82 947.34 L346.82 948.95 L347.82 950.58 L348.83 952.24 L349.83 953.92 L350.84 955.62 L351.84 957.34 L352.84 959.08 L353.85 960.84 L354.85 962.62 L355.86 964.41 L356.86 966.22 L357.86 968.05 L358.87 969.89 L359.87 971.74 L360.88 973.61 L361.88 975.5 L362.88 977.39 L363.89 979.3 L364.89 981.22 L365.9 983.14 L366.9 985.08 L367.9 987.02 L368.91 988.98 L369.91 990.93 L370.92 992.9 L371.92 994.87 L372.92 996.84 L373.93 998.82 L374.93 1000.8 L375.94 1002.79 L376.94 1004.77 L377.94 1006.76 L378.95 1008.74 L379.95 1010.72 L380.96 1012.71 L381.96 1014.68 L382.96 1016.66 L383.97 1018.63 L384.97 1020.6 L385.98 1022.56 L386.98 1024.51 L387.98 1026.46 L388.99 1028.4 L389.99 1030.33 L391 1032.24 L392 1034.15 L393 1036.05 L394.01 1037.94 L395.01 1039.81 L396.02 1041.67 L397.02 1043.51 L398.02 1045.34 L399.03 1047.16 L400.03 1048.96 L401.04 1050.74 L402.04 1052.5 L403.04 1054.24 L404.05 1055.97 L405.05 1057.67 L406.06 1059.36 L407.06 1061.02 L408.06 1062.66 L409.07 1064.28 L410.07 1065.88 L411.08 1067.45 L412.08 1068.99 L413.08 1070.51 L414.09 1072.01 L415.09 1073.48 L416.1 1074.92 L417.1 1076.34 L418.1 1077.72 L419.11 1079.08 L420.11 1080.41 L421.12 1081.71 L422.12 1082.97 L423.12 1084.21 L424.13 1085.42 L425.13 1086.59 L426.14 1087.74 L427.14 1088.85 L428.14 1089.92 L429.15 1090.96 L430.15 1091.97 L431.16 1092.95 L432.16 1093.89 L433.16 1094.79 L434.17 1095.66 L435.17 1096.49 L436.18 1097.29 L437.18 1098.05 L438.18 1098.78 L439.19 1099.46 L440.19 1100.11 L441.2 1100.72 L442.2 1101.3 L443.2 1101.83 L444.21 1102.33 L445.21 1102.79 L446.22 1103.21 L447.22 1103.59 L448.22 1103.93 L449.23 1104.23 L450.23 1104.5 L451.24 1104.72 L452.24 1104.91 L453.24 1105.05 L454.25 1105.16 L455.25 1105.22 L456.26 1105.25 L457.26 1105.24 L458.26 1105.18 L459.27 1105.09 L460.27 1104.96 L461.28 1104.79 L462.28 1104.57 L463.28 1104.32 L464.29 1104.03 L465.29 1103.7 L466.3 1103.33 L467.3 1102.93 L468.3 1102.48 L469.31 1101.99 L470.31 1101.47 L471.32 1100.91 L472.32 1100.31 L473.32 1099.67 L474.33 1099 L475.33 1098.29 L476.34 1097.54 L477.34 1096.75 L478.34 1095.93 L479.35 1095.07 L480.35 1094.18 L481.36 1093.25 L482.36 1092.29 L483.36 1091.29 L484.37 1090.26 L485.37 1089.19 L486.38 1088.09 L487.38 1086.96 L488.38 1085.8 L489.39 1084.6 L490.39 1083.37 L491.4 1082.11 L492.4 1080.82 L493.4 1079.51 L494.41 1078.16 L495.41 1076.78 L496.42 1075.37 L497.42 1073.94 L498.42 1072.48 L499.43 1070.99 L500.43 1069.48 L501.44 1067.94 L502.44 1066.38 L503.44 1064.79 L504.45 1063.18 L505.45 1061.55 L506.46 1059.89 L507.46 1058.21 L508.46 1056.51 L509.47 1054.8 L510.47 1053.06 L511.48 1051.3 L512.48 1049.53 L513.48 1047.73 L514.49 1045.92 L515.49 1044.1 L516.5 1042.26 L517.5 1040.4 L518.5 1038.53 L519.51 1036.65 L520.51 1034.76 L521.52 1032.85 L522.52 1030.94 L523.52 1029.01 L524.53 1027.08 L525.53 1025.13 L526.54 1023.18 L527.54 1021.22 L528.54 1019.26 L529.55 1017.29 L530.55 1015.31 L531.56 1013.34 L532.56 1011.36 L533.56 1009.37 L534.57 1007.39 L535.57 1005.4 L536.58 1003.42 L537.58 1001.43 L538.58 999.45 L539.59 997.47 L540.59 995.5 L541.6 993.53 L542.6 991.56 L543.6 989.6 L544.61 987.64 L545.61 985.7 L546.62 983.76 L547.62 981.83 L548.62 979.91 L549.63 978 L550.63 976.1 L551.64 974.21 L552.64 972.34 L553.64 970.48 L554.65 968.63 L555.65 966.8 L556.66 964.99 L557.66 963.19 L558.66 961.4 L559.67 959.64 L560.67 957.89 L561.68 956.17 L562.68 954.46 L563.68 952.77 L564.69 951.11 L565.69 949.47 L566.7 947.85 L567.7 946.25 L568.7 944.68 L569.71 943.13 L570.71 941.61 L571.72 940.11 L572.72 938.64 L573.72 937.19 L574.73 935.78 L575.73 934.39 L576.74 933.03 L577.74 931.7 L578.74 930.4 L579.75 929.12 L580.75 927.88 L581.76 926.68 L582.76 925.5 L583.76 924.35 L584.77 923.24 L585.77 922.16 L586.78 921.12 L587.78 920.11 L588.78 919.13 L589.79 918.19 L590.79 917.28 L591.8 916.41 L592.8 915.57 L593.8 914.77 L594.81 914.01 L595.81 913.28 L596.82 912.59 L597.82 911.94 L598.82 911.32 L599.83 910.75 L600.83 910.21 L601.84 909.71 L602.84 909.25 L603.84 908.82 L604.85 908.44 L605.85 908.09 L606.86 907.79 L607.86 907.52 L608.86 907.29 L609.87 907.11 L610.87 906.96 L611.88 906.85 L612.88 906.78 L613.88 906.75 L614.89 906.76 L615.89 906.81 L616.9 906.9 L617.9 907.03 L618.9 907.2 L619.91 907.41 L620.91 907.66 L621.92 907.94 L622.92 908.27 L623.92 908.64 L624.93 909.04 L625.93 909.48 L626.94 909.96 L627.94 910.49 L628.94 911.04 L629.95 911.64 L630.95 912.27 L631.96 912.95 L632.96 913.66 L633.96 914.4 L634.97 915.18 L635.97 916 L636.98 916.86 L637.98 917.75 L638.98 918.67 L639.99 919.63 L640.99 920.63 L642 921.66 L643 922.72 L644 923.82 L645.01 924.95 L646.01 926.11 L647.02 927.3 L648.02 928.53 L649.02 929.78 L650.03 931.07 L651.03 932.39 L652.04 933.73 L653.04 935.11 L654.04 936.51 L655.05 937.94 L656.05 939.4 L657.06 940.89 L658.06 942.4 L659.06 943.93 L660.07 945.5 L661.07 947.08 L662.08 948.69 L663.08 950.32 L664.08 951.98 L665.09 953.65 L666.09 955.35 L667.1 957.07 L668.1 958.8 L669.1 960.56 L670.11 962.33 L671.11 964.12 L672.12 965.93 L673.12 967.76 L674.12 969.59 L675.13 971.45 L676.13 973.32 L677.14 975.2 L678.14 977.09 L679.14 978.99 L680.15 980.91 L681.15 982.83 L682.16 984.77 L683.16 986.71 L684.16 988.66 L685.17 990.62 L686.17 992.59 L687.18 994.55 L688.18 996.53 L689.18 998.51 L690.19 1000.49 L691.19 1002.47 L692.2 1004.45 L693.2 1006.44 L694.2 1008.42 L695.21 1010.41 L696.21 1012.39 L697.22 1014.37 L698.22 1016.35 L699.22 1018.32 L700.23 1020.28 L701.23 1022.25 L702.24 1024.2 L703.24 1026.15 L704.24 1028.09 L705.25 1030.02 L706.25 1031.94 L707.26 1033.85 L708.26 1035.75 L709.26 1037.64 L710.27 1039.51 L711.27 1041.37 L712.28 1043.22 L713.28 1045.05 L714.28 1046.87 L715.29 1048.67 L716.29 1050.46 L717.3 1052.22 L718.3 1053.97 L719.3 1055.7 L720.31 1057.4 L721.31 1059.09 L722.32 1060.76 L723.32 1062.4 L724.32 1064.02 L725.33 1065.62 L726.33 1067.2 L727.34 1068.75 L728.34 1070.27 L729.34 1071.77 L730.35 1073.25 L731.35 1074.69 L732.36 1076.11 L733.36 1077.5 L734.36 1078.87 L735.37 1080.2 L736.37 1081.5 L737.38 1082.77 L738.38 1084.02 L739.38 1085.23 L740.39 1086.41 L741.39 1087.56 L742.4 1088.67 L743.4 1089.75 L744.4 1090.8 L745.41 1091.82 L746.41 1092.8 L747.42 1093.74 L748.42 1094.65 L749.42 1095.53 L750.43 1096.36 L751.43 1097.17 L752.44 1097.93 L753.44 1098.66 L754.44 1099.36 L755.45 1100.01 L756.45 1100.63 L757.46 1101.21 L758.46 1101.75 L759.46 1102.25 L760.47 1102.72 L761.47 1103.14 L762.48 1103.53 L763.48 1103.88 L764.48 1104.19 L765.49 1104.46 L766.49 1104.69 L767.5 1104.88 L768.5 1105.03 L769.5 1105.14 L770.51 1105.22 L771.51 1105.25 L772.52 1105.24 L773.52 1105.19 L774.52 1105.11 L775.53 1104.98 L776.53 1104.82 L777.54 1104.61 L778.54 1104.37 L779.54 1104.08 L780.55 1103.76 L781.55 1103.4 L782.56 1102.99 L783.56 1102.55 L784.56 1102.07 L785.57 1101.56 L786.57 1101 L787.58 1100.41 L788.58 1099.78 L789.58 1099.11 L790.59 1098.4 L791.59 1097.66 L792.6 1096.88 L793.6 1096.06 L794.6 1095.21 L795.61 1094.32 L796.61 1093.4 L797.62 1092.44 L798.62 1091.45 L799.62 1090.42 L800.63 1089.36 L801.63 1088.27 L802.64 1087.14 L803.64 1085.98 L804.64 1084.79 L805.65 1083.57 L806.65 1082.32 L807.66 1081.03 L808.66 1079.72 L809.66 1078.37 L810.67 1077 L811.67 1075.6 L812.68 1074.17 L813.68 1072.72 L814.68 1071.23 L815.69 1069.72 L816.69 1068.19 L817.7 1066.63 L818.7 1065.05 L819.7 1063.44 L820.71 1061.81 L821.71 1060.16 L822.72 1058.48 L823.72 1056.79 L824.72 1055.07 L825.73 1053.34 L826.73 1051.58 L827.74 1049.81 L828.74 1048.02 L829.74 1046.21 L830.75 1044.39 L831.75 1042.55 L832.76 1040.7 L833.76 1038.83 L834.76 1036.95 L835.77 1035.06 L836.77 1033.16 L837.78 1031.24 L838.78 1029.32 L839.78 1027.38 L840.79 1025.44 L841.79 1023.49 L842.8 1021.53 L843.8 1019.57 L844.8 1017.6 L845.81 1015.63 L846.81 1013.65 L847.82 1011.67 L848.82 1009.69 L849.82 1007.7 L850.83 1005.72 L851.83 1003.73 L852.84 1001.75 L853.84 999.77 L854.84 997.79 L855.85 995.81 L856.85 993.84 L857.86 991.87 L858.86 989.91 L859.86 987.95 L860.87 986.01 L861.87 984.07 L862.88 982.13 L863.88 980.21 L864.88 978.3 L865.89 976.4 L866.89 974.51 L867.9 972.64 L868.9 970.77 L869.9 968.93 L870.91 967.09 L871.91 965.27 L872.92 963.47 L873.92 961.69 L874.92 959.92 L875.93 958.17 L876.93 956.44 L877.94 954.73 L878.94 953.04 L879.94 951.37 L880.95 949.73 L881.95 948.1 L882.96 946.5 L883.96 944.93 L884.96 943.37 L885.97 941.85 L886.97 940.34 L887.98 938.87 L888.98 937.42 L889.98 936 L890.99 934.61 L891.99 933.24 L893 931.91 L894 930.6 L895 929.33 L896.01 928.08 L897.01 926.87 L898.02 925.68 L899.02 924.53 L900.02 923.42 L901.03 922.33 L902.03 921.28 L903.04 920.26 L904.04 919.28 L905.04 918.33 L906.05 917.42 L907.05 916.54 L908.06 915.7 L909.06 914.9 L910.06 914.13 L911.07 913.39 L912.07 912.7 L913.08 912.04 L914.08 911.42 L915.08 910.84 L916.09 910.29 L917.09 909.79 L918.1 909.32 L919.1 908.89 L920.1 908.5 L921.11 908.15 L922.11 907.83 L923.12 907.56 L924.12 907.33 L925.12 907.13 L926.13 906.98 L927.13 906.86 L928.14 906.79 L929.14 906.75 L930.14 906.76 L931.15 906.8 L932.15 906.88 L933.16 907.01 L934.16 907.17 L935.16 907.37 L936.17 907.61 L937.17 907.89 L938.18 908.22 L939.18 908.57 L940.18 908.97 L941.19 909.41 L942.19 909.89 L943.2 910.4 L944.2 910.95 L945.2 911.54 L946.21 912.17 L947.21 912.84 L948.22 913.54 L949.22 914.28 L950.22 915.06 L951.23 915.87 L952.23 916.72 L953.24 917.6 L954.24 918.52 L955.24 919.48 L956.25 920.47 L957.25 921.49 L958.26 922.55 L959.26 923.64 L960.26 924.77 L961.27 925.92 L962.27 927.11 L963.28 928.33 L964.28 929.58 L965.28 930.86 L966.29 932.18 L967.29 933.52 L968.3 934.89 L969.3 936.29 L970.3 937.71 L971.31 939.17 L972.31 940.65 L973.32 942.16 L974.32 943.69 L975.32 945.25 L976.33 946.83 L977.33 948.43 L978.34 950.06 L979.34 951.71 L980.34 953.38 L981.35 955.08 L982.35 956.79 L983.36 958.53 L984.36 960.28 L985.36 962.05 L986.37 963.84 L987.37 965.64 L988.38 967.46 L989.38 969.3 L990.38 971.15 L991.39 973.02 L992.39 974.9 L993.4 976.79 L994.4 978.69 L995.4 980.6 L996.41 982.53 L997.41 984.46 L998.42 986.4 L999.42 988.35 L1000.42 990.31 L1001.43 992.27 L1002.43 994.24 L1003.44 996.21 L1004.44 998.19 L1005.44 1000.17 L1006.45 1002.15 L1007.45 1004.14 L1008.46 1006.12 L1009.46 1008.11 L1010.46 1010.09 L1011.47 1012.07 L1012.47 1014.05 L1013.48 1016.03 L1014.48 1018 L1015.48 1019.97 L1016.49 1021.93 L1017.49 1023.89 L1018.5 1025.84 L1019.5 1027.78 L1020.5 1029.71 L1021.51 1031.63 L1022.51 1033.55 L1023.52 1035.45 L1024.52 1037.34 L1025.52 1039.21 L1026.53 1041.08 L1027.53 1042.93 L1028.54 1044.76 L1029.54 1046.58 L1030.54 1048.39 L1031.55 1050.17 L1032.55 1051.94 L1033.56 1053.69 L1034.56 1055.42 L1035.56 1057.13 L1036.57 1058.82 L1037.57 1060.49 L1038.58 1062.14 L1039.58 1063.77 L1040.58 1065.37 L1041.59 1066.95 L1042.59 1068.5 L1043.6 1070.03 L1044.6 1071.54 L1045.6 1073.01 L1046.61 1074.46 L1047.61 1075.89 L1048.62 1077.28 L1049.62 1078.65 L1050.62 1079.99 L1051.63 1081.3 L1052.63 1082.57 L1053.64 1083.82 L1054.64 1085.04 L1055.64 1086.22 L1056.65 1087.38 L1057.65 1088.5 L1058.66 1089.58 L1059.66 1090.64 L1060.66 1091.66 L1061.67 1092.64 L1062.67 1093.59 L1063.68 1094.51 L1064.68 1095.39 L1065.68 1096.23 L1066.69 1097.04 L1067.69 1097.81 L1068.7 1098.55 L1069.7 1099.25 L1070.7 1099.91 L1071.71 1100.53 L1072.71 1101.12 L1073.72 1101.67 L1074.72 1102.18 L1075.72 1102.65 L1076.73 1103.08 L1077.73 1103.47 L1078.74 1103.83 L1079.74 1104.14 L1080.74 1104.42 L1081.75 1104.65 L1082.75 1104.85 L1083.76 1105.01 L1084.76 1105.13 L1085.76 1105.21 L1086.77 1105.25 L1087.77 1105.24 L1088.78 1105.2 L1089.78 1105.12 L1090.78 1105 L1091.79 1104.84 L1092.79 1104.65 L1093.8 1104.41 L1094.8 1104.13 L1095.8 1103.81 L1096.81 1103.46 L1097.81 1103.06 L1098.82 1102.63 L1099.82 1102.15 L1100.82 1101.64 L1101.83 1101.09 L1102.83 1100.51 L1103.84 1099.88 L1104.84 1099.22 L1105.84 1098.52 L1106.85 1097.78 L1107.85 1097.01 L1108.86 1096.2 L1109.86 1095.35 L1110.86 1094.47 L1111.87 1093.55 L1112.87 1092.6 L1113.88 1091.61 L1114.88 1090.59 L1115.88 1089.53 L1116.89 1088.45 L1117.89 1087.32 L1118.9 1086.17 L1119.9 1084.98 L1120.9 1083.77 L1121.91 1082.52 L1122.91 1081.24 L1123.92 1079.93 L1124.92 1078.59 L1125.92 1077.22 L1126.93 1075.83 L1127.93 1074.4 L1128.94 1072.95 L1129.94 1071.47 L1130.94 1069.97 L1131.95 1068.43 L1132.95 1066.88 L1133.96 1065.3 L1134.96 1063.7 L1135.96 1062.07 L1136.97 1060.42 L1137.97 1058.75 L1138.98 1057.06 L1139.98 1055.35 L1140.98 1053.61 L1141.99 1051.86 L1142.99 1050.09 L1144 1048.31 L1145 1046.5 L1146 1044.68 L1147.01 1042.85 L1148.01 1041 L1149.02 1039.13 L1150.02 1037.25 L1151.02 1035.36 L1152.03 1033.46 L1153.03 1031.55 L1154.04 1029.63 L1155.04 1027.69 L1156.04 1025.75 L1157.05 1023.8 L1158.05 1021.85 L1159.06 1019.88 L1160.06 1017.92 L1161.06 1015.94 L1162.07 1013.97 L1163.07 1011.99 L1164.08 1010 L1165.08 1008.02 L1166.08 1006.03 L1167.09 1004.05 L1168.09 1002.07 L1169.1 1000.08 L1170.1 998.1 L1171.1 996.13 L1172.11 994.15 L1173.11 992.18 L1174.12 990.22 L1175.12 988.27 L1176.12 986.32 L1177.13 984.37 L1178.13 982.44 L1179.14 980.52 L1180.14 978.61 L1181.14 976.7 L1182.15 974.81 L1183.15 972.93 L1184.16 971.07 L1185.16 969.22 L1186.16 967.38 L1187.17 965.56 L1188.17 963.76 L1189.18 961.97 L1190.18 960.2 L1191.18 958.45 L1192.19 956.71 L1193.19 955 L1194.2 953.31 L1195.2 951.64 L1196.2 949.99 L1197.21 948.36 L1198.21 946.76 L1199.22 945.18 L1200.22 943.62 L1201.22 942.09 L1202.23 940.58 L1203.23 939.1 L1204.24 937.65 L1205.24 936.22 L1206.24 934.83 L1207.25 933.46 L1208.25 932.12 L1209.26 930.81 L1210.26 929.53 L1211.26 928.28 L1212.27 927.06 L1213.27 925.87 L1214.28 924.72 L1215.28 923.59 L1216.28 922.5 L1217.29 921.45 L1218.29 920.42 L1219.3 919.44 L1220.3 918.48 L1221.3 917.56 L1222.31 916.68 L1223.31 915.83 L1224.32 915.02 L1225.32 914.25 L1226.32 913.51 L1227.33 912.81 L1228.33 912.14 L1229.34 911.52 L1230.34 910.93 L1231.34 910.38 L1232.35 909.86 L1233.35 909.39 L1234.36 908.95 L1235.36 908.56 L1236.36 908.2 L1237.37 907.88 L1238.37 907.6 L1239.38 907.36 L1240.38 907.16 L1241.38 907 L1242.39 906.88 L1243.39 906.8 L1244.4 906.76 L1245.4 906.75 L1246.4 906.79 L1247.41 906.87 L1248.41 906.99 L1249.42 907.14 L1250.42 907.34 L1251.42 907.57 L1252.43 907.85 L1253.43 908.16 L1254.44 908.51 L1255.44 908.91 L1256.44 909.34 L1257.45 909.81 L1258.45 910.32 L1259.46 910.86 L1260.46 911.45 L1261.46 912.07 L1262.47 912.73 L1263.47 913.43 L1264.48 914.16 L1265.48 914.93 L1266.48 915.74 L1267.49 916.58 L1268.49 917.46 L1269.5 918.37 L1270.5 919.32 L1271.5 920.31 L1272.51 921.33 L1273.51 922.38 L1274.52 923.47 L1275.52 924.58 L1276.52 925.74 L1277.53 926.92 L1278.53 928.13 L1279.54 929.38 L1280.54 930.66 L1281.54 931.97 L1282.55 933.3 L1283.55 934.67 L1284.56 936.06 L1285.56 937.48 L1286.56 938.93 L1287.57 940.41 L1288.57 941.91 L1289.58 943.44 L1290.58 945 L1291.58 946.57 L1292.59 948.18 L1293.59 949.8 L1294.6 951.45 L1295.6 953.12 L1296.6 954.81 L1297.61 956.52 L1298.61 958.25 L1299.62 960 L1300.62 961.77 L1301.62 963.55 L1302.63 965.35 L1303.63 967.17 L1304.64 969.01 L1305.64 970.86 L1306.64 972.72 L1307.65 974.6 L1308.65 976.49 L1309.66 978.39 L1310.66 980.3 L1311.66 982.22 L1312.67 984.15 L1313.67 986.09 L1314.68 988.04 L1315.68 990 L1316.68 991.96 L1317.69 993.93 L1318.69 995.9 L1319.7 997.88 L1320.7 999.86 L1321.7 1001.84 L1322.71 1003.82 L1323.71 1005.81 L1324.72 1007.79 L1325.72 1009.78 L1326.72 1011.76 L1327.73 1013.74 L1328.73 1015.72 L1329.74 1017.69 L1330.74 1019.66 L1331.74 1021.62 L1332.75 1023.58 L1333.75 1025.53 L1334.76 1027.47 L1335.76 1029.4 L1336.76 1031.33 L1337.77 1033.24 L1338.77 1035.15 L1339.78 1037.04 L1340.78 1038.92 L1341.78 1040.78 L1342.79 1042.63 L1343.79 1044.47 L1344.8 1046.29 L1345.8 1048.1 L1346.8 1049.89 L1347.81 1051.66 L1348.81 1053.41 L1349.82 1055.15 L1350.82 1056.86 L1351.82 1058.56 L1352.83 1060.23 L1353.83 1061.88 L1354.84 1063.51 L1355.84 1065.12 L1356.84 1066.7 L1357.85 1068.26 L1358.85 1069.79 L1359.86 1071.3 L1360.86 1072.78 L1361.86 1074.24 L1362.87 1075.66 L1363.87 1077.06 L1364.88 1078.43 L1365.88 1079.78 L1366.88 1081.09 L1367.89 1082.37 L1368.89 1083.63 L1369.9 1084.85 L1370.9 1086.04 L1371.9 1087.19 L1372.91 1088.32 L1373.91 1089.41 L1374.92 1090.47 L1375.92 1091.5 L1376.92 1092.49 L1377.93 1093.44 L1378.93 1094.36 L1379.94 1095.25 L1380.94 1096.1 L1381.94 1096.92 L1382.95 1097.69 L1383.95 1098.43 L1384.96 1099.14 L1385.96 1099.81 L1386.96 1100.44 L1387.97 1101.03 L1388.97 1101.58 L1389.98 1102.1 L1390.98 1102.57 L1391.98 1103.01 L1392.99 1103.41 L1393.99 1103.77 L1395 1104.09 L1396 1104.38 L1397 1104.62 L1398.01 1104.82 L1399.01 1104.99 L1400.02 1105.11 L1401.02 1105.2 L1402.02 1105.24 L1403.03 1105.25 L1404.03 1105.21 L1405.04 1105.14 L1406.04 1105.03 L1407.04 1104.87 L1408.05 1104.68 L1409.05 1104.45 L1410.06 1104.18 L1411.06 1103.86 L1412.06 1103.51 L1413.07 1103.13 L1414.07 1102.7 L1415.08 1102.23 L1416.08 1101.73 L1417.08 1101.18 L1418.09 1100.6 L1419.09 1099.98 L1420.1 1099.33 L1421.1 1098.63 L1422.1 1097.9 L1423.11 1097.13 L1424.11 1096.33 L1425.12 1095.49 L1426.12 1094.61 L1427.12 1093.7 L1428.13 1092.75 L1429.13 1091.77 L1430.14 1090.75 L1431.14 1089.71 L1432.14 1088.62 L1433.15 1087.51 L1434.15 1086.36 L1435.16 1085.18 L1436.16 1083.96 L1437.16 1082.72 L1438.17 1081.44 L1439.17 1080.14 L1440.18 1078.81 L1441.18 1077.44 L1442.18 1076.05 L1443.19 1074.63 L1444.19 1073.18 L1445.2 1071.71 L1446.2 1070.21 L1447.2 1068.68 L1448.21 1067.13 L1449.21 1065.55 L1450.22 1063.95 L1451.22 1062.33 L1452.22 1060.68 L1453.23 1059.02 L1454.23 1057.33 L1455.24 1055.62 L1456.24 1053.89 L1457.24 1052.14 L1458.25 1050.38 L1459.25 1048.59 L1460.26 1046.79 L1461.26 1044.97 L1462.26 1043.14 L1463.27 1041.29 L1464.27 1039.43 L1465.28 1037.55 L1466.28 1035.67 L1467.28 1033.77 L1468.29 1031.85 L1469.29 1029.93 L1470.3 1028 L1471.3 1026.06 L1472.3 1024.11 L1473.31 1022.16 L1474.31 1020.2 L1475.32 1018.23 L1476.32 1016.26 L1477.32 1014.28 L1478.33 1012.3 L1479.33 1010.32 L1480.34 1008.34 L1481.34 1006.35 L1482.34 1004.37 L1483.35 1002.38 L1484.35 1000.4 L1485.36 998.42 L1486.36 996.44 L1487.36 994.47 L1488.37 992.5 L1489.37 990.53 L1490.38 988.58 L1491.38 986.63 L1492.38 984.68 L1493.39 982.75 L1494.39 980.82 L1495.4 978.91 L1496.4 977.01 L1497.4 975.11 L1498.41 973.23 L1499.41 971.37 L1500.42 969.51 L1501.42 967.67 L1502.42 965.85 L1503.43 964.04 L1504.43 962.25 L1505.44 960.48 L1506.44 958.73 L1507.44 956.99 L1508.45 955.27 L1509.45 953.58 L1510.46 951.9 L1511.46 950.25 L1512.46 948.62 L1513.47 947.01 L1514.47 945.43 L1515.48 943.87 L1516.48 942.33 L1517.48 940.82 L1518.49 939.34 L1519.49 937.88 L1520.5 936.45 L1521.5 935.05 L1522.5 933.67 L1523.51 932.33 L1524.51 931.01 L1525.52 929.73 L1526.52 928.47 L1527.52 927.25 L1528.53 926.06 L1529.53 924.9 L1530.54 923.77 L1531.54 922.67 L1532.54 921.61 L1533.55 920.58 L1534.55 919.59 L1535.56 918.63 L1536.56 917.71 L1537.56 916.82 L1538.57 915.97 L1539.57 915.15 L1540.58 914.37 L1541.58 913.62 L1542.58 912.92 L1543.59 912.25 L1544.59 911.61 L1545.6 911.02 L1546.6 910.46 L1547.6 909.94 L1548.61 909.46 L1549.61 909.02 L1550.62 908.62 L1551.62 908.25 L1552.62 907.93 L1553.63 907.64 L1554.63 907.4 L1555.64 907.19 L1556.64 907.02 L1557.64 906.9 L1558.65 906.81 L1559.65 906.76 L1560.66 906.75 L1561.66 906.78 L1562.66 906.85 L1563.67 906.96 L1564.67 907.11 L1565.68 907.3 L1566.68 907.53 L1567.68 907.8 L1568.69 908.11 L1569.69 908.46 L1570.7 908.84 L1571.7 909.27 L1572.7 909.73 L1573.71 910.23 L1574.71 910.77 L1575.72 911.35 L1576.72 911.97 L1577.72 912.62 L1578.73 913.31 L1579.73 914.04 L1580.74 914.81 L1581.74 915.61 L1582.74 916.44 L1583.75 917.32 L1584.75 918.23 L1585.76 919.17 L1586.76 920.15 L1587.76 921.16 L1588.77 922.21 L1589.77 923.29 L1590.78 924.4 L1591.78 925.55 L1592.78 926.73 L1593.79 927.94 L1594.79 929.18 L1595.8 930.45 L1596.8 931.76 L1597.8 933.09 L1598.81 934.45 L1599.81 935.84 L1600.82 937.26 L1601.82 938.7 L1602.82 940.17 L1603.83 941.67 L1604.83 943.2 L1605.84 944.75 L1606.84 946.32 L1607.84 947.92 L1608.85 949.54 L1609.85 951.18 L1610.86 952.85 L1611.86 954.54 L1612.86 956.24 L1613.87 957.97 L1614.87 959.72 L1615.88 961.48 L1616.88 963.27 L1617.88 965.07 L1618.89 966.88 L1619.89 968.71 L1620.9 970.56 L1621.9 972.42 L1622.9 974.3 L1623.91 976.18 L1624.91 978.08 L1625.92 979.99 L1626.92 981.91 L1627.92 983.84 L1628.93 985.78 L1629.93 987.73 L1630.94 989.69 L1631.94 991.65 L1632.94 993.61 L1633.95 995.59 L1634.95 997.56 L1635.96 999.54 L1636.96 1001.52 L1637.96 1003.51 L1638.97 1005.49 L1639.97 1007.48 L1640.98 1009.46 L1641.98 1011.44 L1642.98 1013.42 L1643.99 1015.4 L1644.99 1017.38 L1646 1019.35 L1647 1021.31" stroke="#000" stroke-width="7.3" stroke-linejoin="round"/>
<path d="M141 1105.25 L142 1105.23 L143.01 1105.17 L144.01 1105.07 L145.02 1104.93 L146.02 1104.75 L147.02 1104.54 L148.03 1104.28 L149.03 1103.98 L150.04 1103.65 L151.04 1103.27 L152.04 1102.86 L153.05 1102.41 L154.05 1101.91 L155.06 1101.38 L156.06 1100.82 L157.06 1100.21 L158.07 1099.57 L159.07 1098.89 L160.08 1098.17 L161.08 1097.42 L162.08 1096.62 L163.09 1095.8 L164.09 1094.93 L165.1 1094.03 L166.1 1093.1 L167.1 1092.13 L168.11 1091.13 L169.11 1090.09 L170.12 1089.02 L171.12 1087.91 L172.12 1086.78 L173.13 1085.61 L174.13 1084.41 L175.14 1083.17 L176.14 1081.91 L177.14 1080.62 L178.15 1079.29 L179.15 1077.94 L180.16 1076.56 L181.16 1075.15 L182.16 1073.71 L183.17 1072.25 L184.17 1070.75 L185.18 1069.24 L186.18 1067.69 L187.18 1066.13 L188.19 1064.54 L189.19 1062.92 L190.2 1061.28 L191.2 1059.63 L192.2 1057.94 L193.21 1056.24 L194.21 1054.52 L195.22 1052.78 L196.22 1051.02 L197.22 1049.24 L198.23 1047.45 L199.23 1045.63 L200.24 1043.81 L201.24 1041.96 L202.24 1040.11 L203.25 1038.24 L204.25 1036.35 L205.26 1034.46 L206.26 1032.55 L207.26 1030.63 L208.27 1028.7 L209.27 1026.77 L210.28 1024.82 L211.28 1022.87 L212.28 1020.91 L213.29 1018.94 L214.29 1016.97 L215.3 1015 L216.3 1013.02 L217.3 1011.04 L218.31 1009.06 L219.31 1007.07 L220.32 1005.09 L221.32 1003.1 L222.32 1001.12 L223.33 999.14 L224.33 997.16 L225.34 995.18 L226.34 993.21 L227.34 991.25 L228.35 989.29 L229.35 987.33 L230.36 985.39 L231.36 983.45 L232.36 981.52 L233.37 979.6 L234.37 977.69 L235.38 975.8 L236.38 973.91 L237.38 972.04 L238.39 970.18 L239.39 968.34 L240.4 966.51 L241.4 964.7 L242.4 962.9 L243.41 961.12 L244.41 959.36 L245.42 957.62 L246.42 955.89 L247.42 954.19 L248.43 952.51 L249.43 950.85 L250.44 949.21 L251.44 947.59 L252.44 946 L253.45 944.43 L254.45 942.88 L255.46 941.37 L256.46 939.87 L257.46 938.41 L258.47 936.97 L259.47 935.55 L260.48 934.17 L261.48 932.81 L262.48 931.49 L263.49 930.19 L264.49 928.93 L265.5 927.69 L266.5 926.49 L267.5 925.31 L268.51 924.17 L269.51 923.07 L270.52 921.99 L271.52 920.95 L272.52 919.95 L273.53 918.98 L274.53 918.04 L275.54 917.14 L276.54 916.27 L277.54 915.44 L278.55 914.65 L279.55 913.89 L280.56 913.17 L281.56 912.48 L282.56 911.84 L283.57 911.23 L284.57 910.66 L285.58 910.13 L286.58 909.63 L287.58 909.18 L288.59 908.76 L289.59 908.38 L290.6 908.04 L291.6 907.74 L292.6 907.48 L293.61 907.26 L294.61 907.08 L295.62 906.94 L296.62 906.84 L297.62 906.77 L298.63 906.75 L299.63 906.77 L300.64 906.82 L301.64 906.92 L302.64 907.05 L303.65 907.23 L304.65 907.44 L305.66 907.7 L306.66 907.99 L307.66 908.33 L308.67 908.7 L309.67 909.11 L310.68 909.56 L311.68 910.05 L312.68 910.57 L313.69 911.14 L314.69 911.74 L315.7 912.38 L316.7 913.06 L317.7 913.77 L318.71 914.52 L319.71 915.31 L320.72 916.14 L321.72 917 L322.72 917.89 L323.73 918.82 L324.73 919.79 L325.74 920.79 L326.74 921.83 L327.74 922.89 L328.75 924 L329.75 925.13 L330.76 926.3 L331.76 927.5 L332.76 928.73 L333.77 929.99 L334.77 931.28 L335.78 932.6 L336.78 933.95 L337.78 935.33 L338.79 936.74 L339.79 938.17 L340.8 939.64 L341.8 941.13 L342.8 942.64 L343.81 944.18 L344.81 945.75 L345.82 947.34 L346.82 948.95 L347.82 950.58 L348.83 952.24 L349.83 953.92 L350.84 955.62 L351.84 957.34 L352.84 959.08 L353.85 960.84 L354.85 962.62 L355.86 964.41 L356.86 966.22 L357.86 968.05 L358.87 969.89 L359.87 971.74 L360.88 973.61 L361.88 975.5 L362.88 977.39 L363.89 979.3 L364.89 981.22 L365.9 983.14 L366.9 985.08 L367.9 987.02 L368.91 988.98 L369.91 990.93 L370.92 992.9 L371.92 994.87 L372.92 996.84 L373.93 998.82 L374.93 1000.8 L375.94 1002.79 L376.94 1004.77 L377.94 1006.76 L378.95 1008.74 L379.95 1010.72 L380.96 1012.71 L381.96 1014.68 L382.96 1016.66 L383.97 1018.63 L384.97 1020.6 L385.98 1022.56 L386.98 1024.51 L387.98 1026.46 L388.99 1028.4 L389.99 1030.33 L391 1032.24 L392 1034.15 L393 1036.05 L394.01 1037.94 L395.01 1039.81 L396.02 1041.67 L397.02 1043.51 L398.02 1045.34 L399.03 1047.16 L400.03 1048.96 L401.04 1050.74 L402.04 1052.5 L403.04 1054.24 L404.05 1055.97 L405.05 1057.67 L406.06 1059.36 L407.06 1061.02 L408.06 1062.66 L409.07 1064.28 L410.07 1065.88 L411.08 1067.45 L412.08 1068.99 L413.08 1070.51 L414.09 1072.01 L415.09 1073.48 L416.1 1074.92 L417.1 1076.34 L418.1 1077.72 L419.11 1079.08 L420.11 1080.41 L421.12 1081.71 L422.12 1082.97 L423.12 1084.21 L424.13 1085.42 L425.13 1086.59 L426.14 1087.74 L427.14 1088.85 L428.14 1089.92 L429.15 1090.96 L430.15 1091.97 L431.16 1092.95 L432.16 1093.89 L433.16 1094.79 L434.17 1095.66 L435.17 1096.49 L436.18 1097.29 L437.18 1098.05 L438.18 1098.78 L439.19 1099.46 L440.19 1100.11 L441.2 1100.72 L442.2 1101.3 L443.2 1101.83 L444.21 1102.33 L445.21 1102.79 L446.22 1103.21 L447.22 1103.59 L448.22 1103.93 L449.23 1104.23 L450.23 1104.5 L451.24 1104.72 L452.24 1104.91 L453.24 1105.05 L454.25 1105.16 L455.25 1105.22 L456.26 1105.25 L457.26 1105.24 L458.26 1105.18 L459.27 1105.09 L460.27 1104.96 L461.28 1104.79 L462.28 1104.57 L463.28 1104.32 L464.29 1104.03 L465.29 1103.7 L466.3 1103.33 L467.3 1102.93 L468.3 1102.48 L469.31 1101.99 L470.31 1101.47 L471.32 1100.91 L472.32 1100.31 L473.32 1099.67 L474.33 1099 L475.33 1098.29 L476.34 1097.54 L477.34 1096.75 L478.34 1095.93 L479.35 1095.07 L480.35 1094.18 L481.36 1093.25 L482.36 1092.29 L483.36 1091.29 L484.37 1090.26 L485.37 1089.19 L486.38 1088.09 L487.38 1086.96 L488.38 1085.8 L489.39 1084.6 L490.39 1083.37 L491.4 1082.11 L492.4 1080.82 L493.4 1079.51 L494.41 1078.16 L495.41 1076.78 L496.42 1075.37 L497.42 1073.94 L498.42 1072.48 L499.43 1070.99 L500.43 1069.48 L501.44 1067.94 L502.44 1066.38 L503.44 1064.79 L504.45 1063.18 L505.45 1061.55 L506.46 1059.89 L507.46 1058.21 L508.46 1056.51 L509.47 1054.8 L510.47 1053.06 L511.48 1051.3 L512.48 1049.53 L513.48 1047.73 L514.49 1045.92 L515.49 1044.1 L516.5 1042.26 L517.5 1040.4 L518.5 1038.53 L519.51 1036.65 L520.51 1034.76 L521.52 1032.85 L522.52 1030.94 L523.52 1029.01 L524.53 1027.08 L525.53 1025.13 L526.54 1023.18 L527.54 1021.22 L528.54 1019.26 L529.55 1017.29 L530.55 1015.31 L531.56 1013.34 L532.56 1011.36 L533.56 1009.37 L534.57 1007.39 L535.57 1005.4 L536.58 1003.42 L537.58 1001.43 L538.58 999.45 L539.59 997.47 L540.59 995.5 L541.6 993.53 L542.6 991.56 L543.6 989.6 L544.61 987.64 L545.61 985.7 L546.62 983.76 L547.62 981.83 L548.62 979.91 L549.63 978 L550.63 976.1 L551.64 974.21 L552.64 972.34 L553.64 970.48 L554.65 968.63 L555.65 966.8 L556.66 964.99 L557.66 963.19 L558.66 961.4 L559.67 959.64 L560.67 957.89 L561.68 956.17 L562.68 954.46 L563.68 952.77 L564.69 951.11 L565.69 949.47 L566.7 947.85 L567.7 946.25 L568.7 944.68 L569.71 943.13 L570.71 941.61 L571.72 940.11 L572.72 938.64 L573.72 937.19 L574.73 935.78 L575.73 934.39 L576.74 933.03 L577.74 931.7 L578.74 930.4 L579.75 929.12 L580.75 927.88 L581.76 926.68 L582.76 925.5 L583.76 924.35 L584.77 923.24 L585.77 922.16 L586.78 921.12 L587.78 920.11 L588.78 919.13 L589.79 918.19 L590.79 917.28 L591.8 916.41 L592.8 915.57 L593.8 914.77 L594.81 914.01 L595.81 913.28 L596.82 912.59 L597.82 911.94 L598.82 911.32 L599.83 910.75 L600.83 910.21 L601.84 909.71 L602.84 909.25 L603.84 908.82 L604.85 908.44 L605.85 908.09 L606.86 907.79 L607.86 907.52 L608.86 907.29 L609.87 907.11 L610.87 906.96 L611.88 906.85 L612.88 906.78 L613.88 906.75 L614.89 906.76 L615.89 906.81 L616.9 906.9 L617.9 907.03 L618.9 907.2 L619.91 907.41 L620.91 907.66 L621.92 907.94 L622.92 908.27 L623.92 908.64 L624.93 909.04 L625.93 909.48 L626.94 909.96 L627.94 910.49 L628.94 911.04 L629.95 911.64 L630.95 912.27 L631.96 912.95 L632.96 913.66 L633.96 914.4 L634.97 915.18 L635.97 916 L636.98 916.86 L637.98 917.75 L638.98 918.67 L639.99 919.63 L640.99 920.63 L642 921.66 L643 922.72 L644 923.82 L645.01 924.95 L646.01 926.11 L647.02 927.3 L648.02 928.53 L649.02 929.78 L650.03 931.07 L651.03 932.39 L652.04 933.73 L653.04 935.11 L654.04 936.51 L655.05 937.94 L656.05 939.4 L657.06 940.89 L658.06 942.4 L659.06 943.93 L660.07 945.5 L661.07 947.08 L662.08 948.69 L663.08 950.32 L664.08 951.98 L665.09 953.65 L666.09 955.35 L667.1 957.07 L668.1 958.8 L669.1 960.56 L670.11 962.33 L671.11 964.12 L672.12 965.93 L673.12 967.76 L674.12 969.59 L675.13 971.45 L676.13 973.32 L677.14 975.2 L678.14 977.09 L679.14 978.99 L680.15 980.91 L681.15 982.83 L682.16 984.77 L683.16 986.71 L684.16 988.66 L685.17 990.62 L686.17 992.59 L687.18 994.55 L688.18 996.53 L689.18 998.51 L690.19 1000.49 L691.19 1002.47 L692.2 1004.45 L693.2 1006.44 L694.2 1008.42 L695.21 1010.41 L696.21 1012.39 L697.22 1014.37 L698.22 1016.35 L699.22 1018.32 L700.23 1020.28 L701.23 1022.25 L702.24 1024.2 L703.24 1026.15 L704.24 1028.09 L705.25 1030.02 L706.25 1031.94 L707.26 1033.85 L708.26 1035.75 L709.26 1037.64 L710.27 1039.51 L711.27 1041.37 L712.28 1043.22 L713.28 1045.05 L714.28 1046.87 L715.29 1048.67 L716.29 1050.46 L717.3 1052.22 L718.3 1053.97 L719.3 1055.7 L720.31 1057.4 L721.31 1059.09 L722.32 1060.76 L723.32 1062.4 L724.32 1064.02 L725.33 1065.62 L726.33 1067.2 L727.34 1068.75 L728.34 1070.27 L729.34 1071.77 L730.35 1073.25 L731.35 1074.69 L732.36 1076.11 L733.36 1077.5 L734.36 1078.87 L735.37 1080.2 L736.37 1081.5 L737.38 1082.77 L738.38 1084.02 L739.38 1085.23 L740.39 1086.41 L741.39 1087.56 L742.4 1088.67 L743.4 1089.75 L744.4 1090.8 L745.41 1091.82 L746.41 1092.8 L747.42 1093.74 L748.42 1094.65 L749.42 1095.53 L750.43 1096.36 L751.43 1097.17 L752.44 1097.93 L753.44 1098.66 L754.44 1099.36 L755.45 1100.01 L756.45 1100.63 L757.46 1101.21 L758.46 1101.75 L759.46 1102.25 L760.47 1102.72 L761.47 1103.14 L762.48 1103.53 L763.48 1103.88 L764.48 1104.19 L765.49 1104.46 L766.49 1104.69 L767.5 1104.88 L768.5 1105.03 L769.5 1105.14 L770.51 1105.22 L771.51 1105.25 L772.52 1105.24 L773.52 1105.19 L774.52 1105.11 L775.53 1104.98 L776.53 1104.82 L777.54 1104.61 L778.54 1104.37 L779.54 1104.08 L780.55 1103.76 L781.55 1103.4 L782.56 1102.99 L783.56 1102.55 L784.56 1102.07 L785.57 1101.56 L786.57 1101 L787.58 1100.41 L788.58 1099.78 L789.58 1099.11 L790.59 1098.4 L791.59 1097.66 L792.6 1096.88 L793.6 1096.06 L794.6 1095.21 L795.61 1094.32 L796.61 1093.4 L797.62 1092.44 L798.62 1091.45 L799.62 1090.42 L800.63 1089.36 L801.63 1088.27 L802.64 1087.14 L803.64 1085.98 L804.64 1084.79 L805.65 1083.57 L806.65 1082.32 L807.66 1081.03 L808.66 1079.72 L809.66 1078.37 L810.67 1077 L811.67 1075.6 L812.68 1074.17 L813.68 1072.72 L814.68 1071.23 L815.69 1069.72 L816.69 1068.19 L817.7 1066.63 L818.7 1065.05 L819.7 1063.44 L820.71 1061.81 L821.71 1060.16 L822.72 1058.48 L823.72 1056.79 L824.72 1055.07 L825.73 1053.34 L826.73 1051.58 L827.74 1049.81 L828.74 1048.02 L829.74 1046.21 L830.75 1044.39 L831.75 1042.55 L832.76 1040.7 L833.76 1038.83 L834.76 1036.95 L835.77 1035.06 L836.77 1033.16 L837.78 1031.24 L838.78 1029.32 L839.78 1027.38 L840.79 1025.44 L841.79 1023.49 L842.8 1021.53 L843.8 1019.57 L844.8 1017.6 L845.81 1015.63 L846.81 1013.65 L847.82 1011.67 L848.82 1009.69 L849.82 1007.7 L850.83 1005.72 L851.83 1003.73 L852.84 1001.75 L853.84 999.77 L854.84 997.79 L855.85 995.81 L856.85 993.84 L857.86 991.87 L858.86 989.91 L859.86 987.95 L860.87 986.01 L861.87 984.07 L862.88 982.13 L863.88 980.21 L864.88 978.3 L865.89 976.4 L866.89 974.51 L867.9 972.64 L868.9 970.77 L869.9 968.93 L870.91 967.09 L871.91 965.27 L872.92 963.47 L873.92 961.69 L874.92 959.92 L875.93 958.17 L876.93 956.44 L877.94 954.73 L878.94 953.04 L879.94 951.37 L880.95 949.73 L881.95 948.1 L882.96 946.5 L883.96 944.93 L884.96 943.37 L885.97 941.85 L886.97 940.34 L887.98 938.87 L888.98 937.42 L889.98 936 L890.99 934.61 L891.99 933.24 L893 931.91 L894 930.6 L895 929.33 L896.01 928.08 L897.01 926.87 L898.02 925.68 L899.02 924.53 L900.02 923.42 L901.03 922.33 L902.03 921.28 L903.04 920.26 L904.04 919.28 L905.04 918.33 L906.05 917.42 L907.05 916.54 L908.06 915.7 L909.06 914.9 L910.06 914.13 L911.07 913.39 L912.07 912.7 L913.08 912.04 L914.08 911.42 L915.08 910.84 L916.09 910.29 L917.09 909.79 L918.1 909.32 L919.1 908.89 L920.1 908.5 L921.11 908.15 L922.11 907.83 L923.12 907.56 L924.12 907.33 L925.12 907.13 L926.13 906.98 L927.13 906.86 L928.14 906.79 L929.14 906.75 L930.14 906.76 L931.15 906.8 L932.15 906.88 L933.16 907.01 L934.16 907.17 L935.16 907.37 L936.17 907.61 L937.17 907.89 L938.18 908.22 L939.18 908.57 L940.18 908.97 L941.19 909.41 L942.19 909.89 L943.2 910.4 L944.2 910.95 L945.2 911.54 L946.21 912.17 L947.21 912.84 L948.22 913.54 L949.22 914.28 L950.22 915.06 L951.23 915.87 L952.23 916.72 L953.24 917.6 L954.24 918.52 L955.24 919.48 L956.25 920.47 L957.25 921.49 L958.26 922.55 L959.26 923.64 L960.26 924.77 L961.27 925.92 L962.27 927.11 L963.28 928.33 L964.28 929.58 L965.28 930.86 L966.29 932.18 L967.29 933.52 L968.3 934.89 L969.3 936.29 L970.3 937.71 L971.31 939.17 L972.31 940.65 L973.32 942.16 L974.32 943.69 L975.32 945.25 L976.33 946.83 L977.33 948.43 L978.34 950.06 L979.34 951.71 L980.34 953.38 L981.35 955.08 L982.35 956.79 L983.36 958.53 L984.36 960.28 L985.36 962.05 L986.37 963.84 L987.37 965.64 L988.38 967.46 L989.38 969.3 L990.38 971.15 L991.39 973.02 L992.39 974.9 L993.4 976.79 L994.4 978.69 L995.4 980.6 L996.41 982.53 L997.41 984.46 L998.42 986.4 L999.42 988.35 L1000.42 990.31 L1001.43 992.27 L1002.43 994.24 L1003.44 996.21 L1004.44 998.19 L1005.44 1000.17 L1006.45 1002.15 L1007.45 1004.14 L1008.46 1006.12 L1009.46 1008.11 L1010.46 1010.09 L1011.47 1012.07 L1012.47 1014.05 L1013.48 1016.03 L1014.48 1018 L1015.48 1019.97 L1016.49 1021.93 L1017.49 1023.89 L1018.5 1025.84 L1019.5 1027.78 L1020.5 1029.71 L1021.51 1031.63 L1022.51 1033.55 L1023.52 1035.45 L1024.52 1037.34 L1025.52 1039.21 L1026.53 1041.08 L1027.53 1042.93 L1028.54 1044.76 L1029.54 1046.58 L1030.54 1048.39 L1031.55 1050.17 L1032.55 1051.94 L1033.56 1053.69 L1034.56 1055.42 L1035.56 1057.13 L1036.57 1058.82 L1037.57 1060.49 L1038.58 1062.14 L1039.58 1063.77 L1040.58 1065.37 L1041.59 1066.95 L1042.59 1068.5 L1043.6 1070.03 L1044.6 1071.54 L1045.6 1073.01 L1046.61 1074.46 L1047.61 1075.89 L1048.62 1077.28 L1049.62 1078.65 L1050.62 1079.99 L1051.63 1081.3 L1052.63 1082.57 L1053.64 1083.82 L1054.64 1085.04 L1055.64 1086.22 L1056.65 1087.38 L1057.65 1088.5 L1058.66 1089.58 L1059.66 1090.64 L1060.66 1091.66 L1061.67 1092.64 L1062.67 1093.59 L1063.68 1094.51 L1064.68 1095.39 L1065.68 1096.23 L1066.69 1097.04 L1067.69 1097.81 L1068.7 1098.55 L1069.7 1099.25 L1070.7 1099.91 L1071.71 1100.53 L1072.71 1101.12 L1073.72 1101.67 L1074.72 1102.18 L1075.72 1102.65 L1076.73 1103.08 L1077.73 1103.47 L1078.74 1103.83 L1079.74 1104.14 L1080.74 1104.42 L1081.75 1104.65 L1082.75 1104.85 L1083.76 1105.01 L1084.76 1105.13 L1085.76 1105.21 L1086.77 1105.25 L1087.77 1105.24 L1088.78 1105.2 L1089.78 1105.12 L1090.78 1105 L1091.79 1104.84 L1092.79 1104.65 L1093.8 1104.41 L1094.8 1104.13 L1095.8 1103.81 L1096.81 1103.46 L1097.81 1103.06 L1098.82 1102.63 L1099.82 1102.15 L1100.82 1101.64 L1101.83 1101.09 L1102.83 1100.51 L1103.84 1099.88 L1104.84 1099.22 L1105.84 1098.52 L1106.85 1097.78 L1107.85 1097.01 L1108.86 1096.2 L1109.86 1095.35 L1110.86 1094.47 L1111.87 1093.55 L1112.87 1092.6 L1113.88 1091.61 L1114.88 1090.59 L1115.88 1089.53 L1116.89 1088.45 L1117.89 1087.32 L1118.9 1086.17 L1119.9 1084.98 L1120.9 1083.77 L1121.91 1082.52 L1122.91 1081.24 L1123.92 1079.93 L1124.92 1078.59 L1125.92 1077.22 L1126.93 1075.83 L1127.93 1074.4 L1128.94 1072.95 L1129.94 1071.47 L1130.94 1069.97 L1131.95 1068.43 L1132.95 1066.88 L1133.96 1065.3 L1134.96 1063.7 L1135.96 1062.07 L1136.97 1060.42 L1137.97 1058.75 L1138.98 1057.06 L1139.98 1055.35 L1140.98 1053.61 L1141.99 1051.86 L1142.99 1050.09 L1144 1048.31 L1145 1046.5 L1146 1044.68 L1147.01 1042.85 L1148.01 1041 L1149.02 1039.13 L1150.02 1037.25 L1151.02 1035.36 L1152.03 1033.46 L1153.03 1031.55 L1154.04 1029.63 L1155.04 1027.69 L1156.04 1025.75 L1157.05 1023.8 L1158.05 1021.85 L1159.06 1019.88 L1160.06 1017.92 L1161.06 1015.94 L1162.07 1013.97 L1163.07 1011.99 L1164.08 1010 L1165.08 1008.02 L1166.08 1006.03 L1167.09 1004.05 L1168.09 1002.07 L1169.1 1000.08 L1170.1 998.1 L1171.1 996.13 L1172.11 994.15 L1173.11 992.18 L1174.12 990.22 L1175.12 988.27 L1176.12 986.32 L1177.13 984.37 L1178.13 982.44 L1179.14 980.52 L1180.14 978.61 L1181.14 976.7 L1182.15 974.81 L1183.15 972.93 L1184.16 971.07 L1185.16 969.22 L1186.16 967.38 L1187.17 965.56 L1188.17 963.76 L1189.18 961.97 L1190.18 960.2 L1191.18 958.45 L1192.19 956.71 L1193.19 955 L1194.2 953.31 L1195.2 951.64 L1196.2 949.99 L1197.21 948.36 L1198.21 946.76 L1199.22 945.18 L1200.22 943.62 L1201.22 942.09 L1202.23 940.58 L1203.23 939.1 L1204.24 937.65 L1205.24 936.22 L1206.24 934.83 L1207.25 933.46 L1208.25 932.12 L1209.26 930.81 L1210.26 929.53 L1211.26 928.28 L1212.27 927.06 L1213.27 925.87 L1214.28 924.72 L1215.28 923.59 L1216.28 922.5 L1217.29 921.45 L1218.29 920.42 L1219.3 919.44 L1220.3 918.48 L1221.3 917.56 L1222.31 916.68 L1223.31 915.83 L1224.32 915.02 L1225.32 914.25 L1226.32 913.51 L1227.33 912.81 L1228.33 912.14 L1229.34 911.52 L1230.34 910.93 L1231.34 910.38 L1232.35 909.86 L1233.35 909.39 L1234.36 908.95 L1235.36 908.56 L1236.36 908.2 L1237.37 907.88 L1238.37 907.6 L1239.38 907.36 L1240.38 907.16 L1241.38 907 L1242.39 906.88 L1243.39 906.8 L1244.4 906.76 L1245.4 906.75 L1246.4 906.79 L1247.41 906.87 L1248.41 906.99 L1249.42 907.14 L1250.42 907.34 L1251.42 907.57 L1252.43 907.85 L1253.43 908.16 L1254.44 908.51 L1255.44 908.91 L1256.44 909.34 L1257.45 909.81 L1258.45 910.32 L1259.46 910.86 L1260.46 911.45 L1261.46 912.07 L1262.47 912.73 L1263.47 913.43 L1264.48 914.16 L1265.48 914.93 L1266.48 915.74 L1267.49 916.58 L1268.49 917.46 L1269.5 918.37 L1270.5 919.32 L1271.5 920.31 L1272.51 921.33 L1273.51 922.38 L1274.52 923.47 L1275.52 924.58 L1276.52 925.74 L1277.53 926.92 L1278.53 928.13 L1279.54 929.38 L1280.54 930.66 L1281.54 931.97 L1282.55 933.3 L1283.55 934.67 L1284.56 936.06 L1285.56 937.48 L1286.56 938.93 L1287.57 940.41 L1288.57 941.91 L1289.58 943.44 L1290.58 945 L1291.58 946.57 L1292.59 948.18 L1293.59 949.8 L1294.6 951.45 L1295.6 953.12 L1296.6 954.81 L1297.61 956.52 L1298.61 958.25 L1299.62 960 L1300.62 961.77 L1301.62 963.55 L1302.63 965.35 L1303.63 967.17 L1304.64 969.01 L1305.64 970.86 L1306.64 972.72 L1307.65 974.6 L1308.65 976.49 L1309.66 978.39 L1310.66 980.3 L1311.66 982.22 L1312.67 984.15 L1313.67 986.09 L1314.68 988.04 L1315.68 990 L1316.68 991.96 L1317.69 993.93 L1318.69 995.9 L1319.7 997.88 L1320.7 999.86 L1321.7 1001.84 L1322.71 1003.82 L1323.71 1005.81 L1324.72 1007.79 L1325.72 1009.78 L1326.72 1011.76 L1327.73 1013.74 L1328.73 1015.72 L1329.74 1017.69 L1330.74 1019.66 L1331.74 1021.62 L1332.75 1023.58 L1333.75 1025.53 L1334.76 1027.47 L1335.76 1029.4 L1336.76 1031.33 L1337.77 1033.24 L1338.77 1035.15 L1339.78 1037.04 L1340.78 1038.92 L1341.78 1040.78 L1342.79 1042.63 L1343.79 1044.47 L1344.8 1046.29 L1345.8 1048.1 L1346.8 1049.89 L1347.81 1051.66 L1348.81 1053.41 L1349.82 1055.15 L1350.82 1056.86 L1351.82 1058.56 L1352.83 1060.23 L1353.83 1061.88 L1354.84 1063.51 L1355.84 1065.12 L1356.84 1066.7 L1357.85 1068.26 L1358.85 1069.79 L1359.86 1071.3 L1360.86 1072.78 L1361.86 1074.24 L1362.87 1075.66 L1363.87 1077.06 L1364.88 1078.43 L1365.88 1079.78 L1366.88 1081.09 L1367.89 1082.37 L1368.89 1083.63 L1369.9 1084.85 L1370.9 1086.04 L1371.9 1087.19 L1372.91 1088.32 L1373.91 1089.41 L1374.92 1090.47 L1375.92 1091.5 L1376.92 1092.49 L1377.93 1093.44 L1378.93 1094.36 L1379.94 1095.25 L1380.94 1096.1 L1381.94 1096.92 L1382.95 1097.69 L1383.95 1098.43 L1384.96 1099.14 L1385.96 1099.81 L1386.96 1100.44 L1387.97 1101.03 L1388.97 1101.58 L1389.98 1102.1 L1390.98 1102.57 L1391.98 1103.01 L1392.99 1103.41 L1393.99 1103.77 L1395 1104.09 L1396 1104.38 L1397 1104.62 L1398.01 1104.82 L1399.01 1104.99 L1400.02 1105.11 L1401.02 1105.2 L1402.02 1105.24 L1403.03 1105.25 L1404.03 1105.21 L1405.04 1105.14 L1406.04 1105.03 L1407.04 1104.87 L1408.05 1104.68 L1409.05 1104.45 L1410.06 1104.18 L1411.06 1103.86 L1412.06 1103.51 L1413.07 1103.13 L1414.07 1102.7 L1415.08 1102.23 L1416.08 1101.73 L1417.08 1101.18 L1418.09 1100.6 L1419.09 1099.98 L1420.1 1099.33 L1421.1 1098.63 L1422.1 1097.9 L1423.11 1097.13 L1424.11 1096.33 L1425.12 1095.49 L1426.12 1094.61 L1427.12 1093.7 L1428.13 1092.75 L1429.13 1091.77 L1430.14 1090.75 L1431.14 1089.71 L1432.14 1088.62 L1433.15 1087.51 L1434.15 1086.36 L1435.16 1085.18 L1436.16 1083.96 L1437.16 1082.72 L1438.17 1081.44 L1439.17 1080.14 L1440.18 1078.81 L1441.18 1077.44 L1442.18 1076.05 L1443.19 1074.63 L1444.19 1073.18 L1445.2 1071.71 L1446.2 1070.21 L1447.2 1068.68 L1448.21 1067.13 L1449.21 1065.55 L1450.22 1063.95 L1451.22 1062.33 L1452.22 1060.68 L1453.23 1059.02 L1454.23 1057.33 L1455.24 1055.62 L1456.24 1053.89 L1457.24 1052.14 L1458.25 1050.38 L1459.25 1048.59 L1460.26 1046.79 L1461.26 1044.97 L1462.26 1043.14 L1463.27 1041.29 L1464.27 1039.43 L1465.28 1037.55 L1466.28 1035.67 L1467.28 1033.77 L1468.29 1031.85 L1469.29 1029.93 L1470.3 1028 L1471.3 1026.06 L1472.3 1024.11 L1473.31 1022.16 L1474.31 1020.2 L1475.32 1018.23 L1476.32 1016.26 L1477.32 1014.28 L1478.33 1012.3 L1479.33 1010.32 L1480.34 1008.34 L1481.34 1006.35 L1482.34 1004.37 L1483.35 1002.38 L1484.35 1000.4 L1485.36 998.42 L1486.36 996.44 L1487.36 994.47 L1488.37 992.5 L1489.37 990.53 L1490.38 988.58 L1491.38 986.63 L1492.38 984.68 L1493.39 982.75 L1494.39 980.82 L1495.4 978.91 L1496.4 977.01 L1497.4 975.11 L1498.41 973.23 L1499.41 971.37 L1500.42 969.51 L1501.42 967.67 L1502.42 965.85 L1503.43 964.04 L1504.43 962.25 L1505.44 960.48 L1506.44 958.73 L1507.44 956.99 L1508.45 955.27 L1509.45 953.58 L1510.46 951.9 L1511.46 950.25 L1512.46 948.62 L1513.47 947.01 L1514.47 945.43 L1515.48 943.87 L1516.48 942.33 L1517.48 940.82 L1518.49 939.34 L1519.49 937.88 L1520.5 936.45 L1521.5 935.05 L1522.5 933.67 L1523.51 932.33 L1524.51 931.01 L1525.52 929.73 L1526.52 928.47 L1527.52 927.25 L1528.53 926.06 L1529.53 924.9 L1530.54 923.77 L1531.54 922.67 L1532.54 921.61 L1533.55 920.58 L1534.55 919.59 L1535.56 918.63 L1536.56 917.71 L1537.56 916.82 L1538.57 915.97 L1539.57 915.15 L1540.58 914.37 L1541.58 913.62 L1542.58 912.92 L1543.59 912.25 L1544.59 911.61 L1545.6 911.02 L1546.6 910.46 L1547.6 909.94 L1548.61 909.46 L1549.61 909.02 L1550.62 908.62 L1551.62 908.25 L1552.62 907.93 L1553.63 907.64 L1554.63 907.4 L1555.64 907.19 L1556.64 907.02 L1557.64 906.9 L1558.65 906.81 L1559.65 906.76 L1560.66 906.75 L1561.66 906.78 L1562.66 906.85 L1563.67 906.96 L1564.67 907.11 L1565.68 907.3 L1566.68 907.53 L1567.68 907.8 L1568.69 908.11 L1569.69 908.46 L1570.7 908.84 L1571.7 909.27 L1572.7 909.73 L1573.71 910.23 L1574.71 910.77 L1575.72 911.35 L1576.72 911.97 L1577.72 912.62 L1578.73 913.31 L1579.73 914.04 L1580.74 914.81 L1581.74 915.61 L1582.74 916.44 L1583.75 917.32 L1584.75 918.23 L1585.76 919.17 L1586.76 920.15 L1587.76 921.16 L1588.77 922.21 L1589.77 923.29 L1590.78 924.4 L1591.78 925.55 L1592.78 926.73 L1593.79 927.94 L1594.79 929.18 L1595.8 930.45 L1596.8 931.76 L1597.8 933.09 L1598.81 934.45 L1599.81 935.84 L1600.82 937.26 L1601.82 938.7 L1602.82 940.17 L1603.83 941.67 L1604.83 943.2 L1605.84 944.75 L1606.84 946.32 L1607.84 947.92 L1608.85 949.54 L1609.85 951.18 L1610.86 952.85 L1611.86 954.54 L1612.86 956.24 L1613.87 957.97 L1614.87 959.72 L1615.88 961.48 L1616.88 963.27 L1617.88 965.07 L1618.89 966.88 L1619.89 968.71 L1620.9 970.56 L1621.9 972.42 L1622.9 974.3 L1623.91 976.18 L1624.91 978.08 L1625.92 979.99 L1626.92 981.91 L1627.92 983.84 L1628.93 985.78 L1629.93 987.73 L1630.94 989.69 L1631.94 991.65 L1632.94 993.61 L1633.95 995.59 L1634.95 997.56 L1635.96 999.54 L1636.96 1001.52 L1637.96 1003.51 L1638.97 1005.49 L1639.97 1007.48 L1640.98 1009.46 L1641.98 1011.44 L1642.98 1013.42 L1643.99 1015.4 L1644.99 1017.38 L1646 1019.35 L1647 1021.31" stroke="#f00" stroke-width="7.3" stroke-dasharray="38 8.4 6.8 8.8"/>
</g>
<g fill="#000" shape-rendering="crispEdges">
<rect x="139" y="893" width="4" height="263"/>
<rect x="1645" y="893" width="4" height="263"/>
<rect x="139" y="893" width="1510" height="4"/>
<rect x="139" y="1152" width="1510" height="4"/>
<rect x="139" y="1154" width="4" height="14"/>
<rect x="390" y="1154" width="4" height="14"/>
<rect x="641" y="1154" width="4" height="14"/>
<rect x="892" y="1154" width="4" height="14"/>
<rect x="1143" y="1154" width="4" height="14"/>
<rect x="1394" y="1154" width="4" height="14"/>
<rect x="1645" y="1154" width="4" height="14"/>
<rect x="127" y="905" width="14" height="4"/>
<rect x="127" y="1004" width="14" height="4"/>
<rect x="127" y="1103" width="14" height="5"/>
</g>
<g font-family='"DejaVu Sans","Liberation Sans",sans-serif' font-size="58.33" fill="#000" stroke="#000" stroke-width="1" stroke-linejoin="round" filter="url(#al)">
<text x="141" y="1225.6" text-anchor="middle">0</text>
<text x="392" y="1225.6" text-anchor="middle">5</text>
<text x="643" y="1225.6" text-anchor="middle">10</text>
<text x="894" y="1225.6" text-anchor="middle">15</text>
<text x="1145" y="1225.6" text-anchor="middle">20</text>
<text x="1396" y="1225.6" text-anchor="middle">25</text>
<text x="1647" y="1225.6" text-anchor="middle">30</text>
<text x="113.2" y="929.3" text-anchor="end">1</text>
<text x="113.2" y="1028.3" text-anchor="end">0</text>
<text x="113.2" y="1127.8" text-anchor="end">−1</text>
<text x="894" y="1297.7" text-anchor="middle" letter-spacing="0">(c) HGO</text>
</g>
<path d="M1312.3 924.5 L1607.2 924.5 Q1618.0 924.5 1618.0 935.3 L1618.0 1115.2 Q1618.0 1126 1607.2 1126 L1312.3 1126 Q1301.5 1126 1301.5 1115.2 L1301.5 935.3 Q1301.5 924.5 1312.3 924.5 Z" fill="#fff" stroke="#ccc" stroke-width="4.6" shape-rendering="crispEdges"/>
<rect x="1322" y="974" width="124" height="7" fill="#000" shape-rendering="crispEdges"/>
<g fill="#f00" shape-rendering="crispEdges">
<rect x="1325" y="1062" width="38" height="7"/>
<rect x="1371" y="1062" width="7" height="7"/>
<rect x="1387" y="1062" width="38" height="7"/>
<rect x="1434" y="1062" width="6" height="7"/>
</g>
<g font-family='"DejaVu Sans","Liberation Sans",sans-serif' font-size="58.33" fill="#000" stroke="#000" stroke-width="1" stroke-linejoin="round" filter="url(#al)">
<text y="995.4"><tspan x="1489.2" font-style="oblique">a</tspan><tspan x="1525.4">(</tspan><tspan x="1548" font-style="oblique">t</tspan><tspan x="1570.8">)</tspan></text>
<text transform="translate(1512.1 998) scale(1 1.23)" x="0" y="0" text-anchor="middle">˙</text>
<text x="1489" y="1084" font-style="oblique">ζ</text>
<text x="1520.9" y="1092.9" font-size="40.83">1</text>
</g>
</g>
<rect x="0" y="1301" width="1708" height="25" fill="#fff"/>
</svg>
</body></html>
